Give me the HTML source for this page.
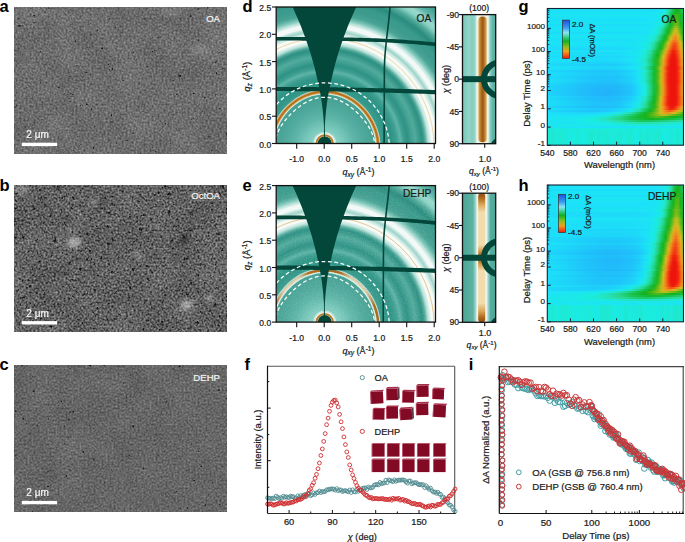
<!DOCTYPE html>
<html><head><meta charset="utf-8"><style>
html,body{margin:0;padding:0;background:#fff;width:685px;height:542px;overflow:hidden}
svg{display:block}
text{font-family:"Liberation Sans",sans-serif}
</style></head><body>
<svg width="685" height="542" viewBox="0 0 685 542" font-family="Liberation Sans">
<defs><filter id="grain" x="0" y="0" width="1" height="1"><feTurbulence type="fractalNoise" baseFrequency="0.9" numOctaves="1" seed="4"/><feColorMatrix type="matrix" values="0 0 0 0 1  0 0 0 0 1  0 0 0 0 1  3 0 0 0 -1.2"/></filter><filter id="rblur" x="-10%" y="-10%" width="120%" height="120%"><feGaussianBlur stdDeviation="1.6"/></filter><filter id="sema" x="0" y="0" width="1" height="1" color-interpolation-filters="sRGB">
<feTurbulence type="fractalNoise" baseFrequency="0.5" numOctaves="2" seed="3" result="n1"/>
<feGaussianBlur in="n1" stdDeviation="0.55" result="n1b"/>
<feColorMatrix in="n1b" type="matrix" values="0.42 0 0 0 0.217  0.42 0 0 0 0.217  0.42 0 0 0 0.217  0 0 0 0 1" result="g1"/>
<feTurbulence type="fractalNoise" baseFrequency="0.035" numOctaves="2" seed="53" result="n2"/>
<feColorMatrix in="n2" type="matrix" values="1 0 0 0 0  1 0 0 0 0  1 0 0 0 0  0 0 0 0 1" result="n2g"/>
<feComposite in="g1" in2="n2g" operator="arithmetic" k1="0" k2="1" k3="0.1" k4="-0.050" result="g2"/>
<feTurbulence type="fractalNoise" baseFrequency="0.28" numOctaves="2" seed="93" result="n3"/>
<feColorMatrix in="n3" type="matrix" values="0 0 0 0 0.08  0 0 0 0 0.08  0 0 0 0 0.08  -9 0 0 0 2.3" result="sp"/>
<feGaussianBlur in="sp" stdDeviation="0.3" result="spb"/>
<feComposite in="spb" in2="g2" operator="over"/>
</filter><filter id="semb" x="0" y="0" width="1" height="1" color-interpolation-filters="sRGB">
<feTurbulence type="fractalNoise" baseFrequency="0.5" numOctaves="2" seed="7" result="n1"/>
<feGaussianBlur in="n1" stdDeviation="0.55" result="n1b"/>
<feColorMatrix in="n1b" type="matrix" values="0.72 0 0 0 0.028  0.72 0 0 0 0.028  0.72 0 0 0 0.028  0 0 0 0 1" result="g1"/>
<feTurbulence type="fractalNoise" baseFrequency="0.035" numOctaves="2" seed="57" result="n2"/>
<feColorMatrix in="n2" type="matrix" values="1 0 0 0 0  1 0 0 0 0  1 0 0 0 0  0 0 0 0 1" result="n2g"/>
<feComposite in="g1" in2="n2g" operator="arithmetic" k1="0" k2="1" k3="0.12" k4="-0.060" result="g2"/>
<feTurbulence type="fractalNoise" baseFrequency="0.28" numOctaves="2" seed="97" result="n3"/>
<feColorMatrix in="n3" type="matrix" values="0 0 0 0 0.08  0 0 0 0 0.08  0 0 0 0 0.08  -7 0 0 0 2.45" result="sp"/>
<feGaussianBlur in="sp" stdDeviation="0.3" result="spb"/>
<feComposite in="spb" in2="g2" operator="over"/>
</filter><filter id="semc" x="0" y="0" width="1" height="1" color-interpolation-filters="sRGB">
<feTurbulence type="fractalNoise" baseFrequency="0.5" numOctaves="2" seed="11" result="n1"/>
<feGaussianBlur in="n1" stdDeviation="0.55" result="n1b"/>
<feColorMatrix in="n1b" type="matrix" values="0.36 0 0 0 0.220  0.36 0 0 0 0.220  0.36 0 0 0 0.220  0 0 0 0 1" result="g1"/>
<feTurbulence type="fractalNoise" baseFrequency="0.035" numOctaves="2" seed="61" result="n2"/>
<feColorMatrix in="n2" type="matrix" values="1 0 0 0 0  1 0 0 0 0  1 0 0 0 0  0 0 0 0 1" result="n2g"/>
<feComposite in="g1" in2="n2g" operator="arithmetic" k1="0" k2="1" k3="0.08" k4="-0.040" result="g2"/>
<feTurbulence type="fractalNoise" baseFrequency="0.28" numOctaves="2" seed="101" result="n3"/>
<feColorMatrix in="n3" type="matrix" values="0 0 0 0 0.08  0 0 0 0 0.08  0 0 0 0 0.08  -9 0 0 0 2.2" result="sp"/>
<feGaussianBlur in="sp" stdDeviation="0.3" result="spb"/>
<feComposite in="spb" in2="g2" operator="over"/>
</filter><filter id="pblur" x="-50%" y="-50%" width="200%" height="200%"><feGaussianBlur stdDeviation="2.2"/></filter><clipPath id="clipd"><rect x="276.2" y="7" width="159.3" height="136.5"/></clipPath><radialGradient id="rgd" gradientUnits="userSpaceOnUse" cx="324.7" cy="147.5" r="200"><stop offset="0.0000" stop-color="#a8ddd2"/><stop offset="0.0600" stop-color="#8fd3c6"/><stop offset="0.1000" stop-color="#78c8bb"/><stop offset="0.1500" stop-color="#5eb5a8"/><stop offset="0.2000" stop-color="#4fa99c"/><stop offset="0.2400" stop-color="#48a395"/><stop offset="0.2900" stop-color="#3a9a8c"/><stop offset="0.3100" stop-color="#2f9586"/><stop offset="0.3400" stop-color="#2f9586"/><stop offset="0.3600" stop-color="#3c9e90"/><stop offset="0.3800" stop-color="#5db4a7"/><stop offset="0.3950" stop-color="#3f9f91"/><stop offset="0.4150" stop-color="#2d9284"/><stop offset="0.4400" stop-color="#45a395"/><stop offset="0.4550" stop-color="#52ab9c"/><stop offset="0.4750" stop-color="#3a9a8c"/><stop offset="0.4900" stop-color="#2c9082"/><stop offset="0.5100" stop-color="#5eb3a5"/><stop offset="0.5300" stop-color="#8fd0c4"/><stop offset="0.5650" stop-color="#8fd0c4"/><stop offset="0.5800" stop-color="#5fb4a6"/><stop offset="0.5950" stop-color="#8fd0c4"/><stop offset="0.6250" stop-color="#a8dcd2"/><stop offset="0.6450" stop-color="#7cc6b9"/><stop offset="0.6650" stop-color="#4aa495"/><stop offset="0.6900" stop-color="#3e9c8e"/><stop offset="0.7200" stop-color="#3a9a8c"/><stop offset="0.7500" stop-color="#2a8c7e"/><stop offset="0.7750" stop-color="#4ea898"/><stop offset="0.8000" stop-color="#8ad2c5"/><stop offset="0.8200" stop-color="#9ad9cd"/><stop offset="0.8450" stop-color="#5fb7a9"/><stop offset="0.8750" stop-color="#45a293"/><stop offset="1.0000" stop-color="#3a9a8c"/></radialGradient><clipPath id="sclipd"><rect x="462.5" y="14.6" width="33.19999999999999" height="129.1"/></clipPath><linearGradient id="sgd" x1="0" y1="0" x2="1" y2="0"><stop offset="0.0000" stop-color="#78c8ba"/><stop offset="0.1054" stop-color="#86cec1"/><stop offset="0.1958" stop-color="#96d5c9"/><stop offset="0.2861" stop-color="#84ccbf"/><stop offset="0.3765" stop-color="#96d5c9"/><stop offset="0.4367" stop-color="#eef6f0"/><stop offset="0.4789" stop-color="#f6f2e4"/><stop offset="0.7289" stop-color="#f6f2e4"/><stop offset="0.7741" stop-color="#e8f4ee"/><stop offset="0.8283" stop-color="#8ad0c3"/><stop offset="0.9187" stop-color="#5db4a6"/><stop offset="1.0000" stop-color="#58b0a2"/></linearGradient><linearGradient id="shd" x1="0" y1="0" x2="1" y2="0"><stop offset="0" stop-color="#e2b46a"/><stop offset="0.18" stop-color="#c98a36"/><stop offset="0.45" stop-color="#9c5c18"/><stop offset="0.6" stop-color="#a2621c"/><stop offset="0.85" stop-color="#cf9440"/><stop offset="1" stop-color="#e8c080"/></linearGradient><clipPath id="clipe"><rect x="276.2" y="185.6" width="159.3" height="136.50000000000003"/></clipPath><radialGradient id="rge" gradientUnits="userSpaceOnUse" cx="324.7" cy="326.1" r="200"><stop offset="0.0000" stop-color="#a8ddd2"/><stop offset="0.0600" stop-color="#8fd3c6"/><stop offset="0.1000" stop-color="#78c8bb"/><stop offset="0.1500" stop-color="#5eb5a8"/><stop offset="0.2000" stop-color="#4fa99c"/><stop offset="0.2400" stop-color="#48a395"/><stop offset="0.2900" stop-color="#3a9a8c"/><stop offset="0.3100" stop-color="#2f9586"/><stop offset="0.3400" stop-color="#2f9586"/><stop offset="0.3600" stop-color="#3c9e90"/><stop offset="0.3800" stop-color="#5db4a7"/><stop offset="0.3950" stop-color="#3f9f91"/><stop offset="0.4150" stop-color="#2d9284"/><stop offset="0.4400" stop-color="#45a395"/><stop offset="0.4550" stop-color="#52ab9c"/><stop offset="0.4750" stop-color="#3a9a8c"/><stop offset="0.4900" stop-color="#2c9082"/><stop offset="0.5100" stop-color="#5eb3a5"/><stop offset="0.5300" stop-color="#8fd0c4"/><stop offset="0.5650" stop-color="#8fd0c4"/><stop offset="0.5800" stop-color="#5fb4a6"/><stop offset="0.5950" stop-color="#8fd0c4"/><stop offset="0.6250" stop-color="#a8dcd2"/><stop offset="0.6450" stop-color="#7cc6b9"/><stop offset="0.6650" stop-color="#4aa495"/><stop offset="0.6900" stop-color="#3e9c8e"/><stop offset="0.7200" stop-color="#3a9a8c"/><stop offset="0.7500" stop-color="#2a8c7e"/><stop offset="0.7750" stop-color="#4ea898"/><stop offset="0.8000" stop-color="#8ad2c5"/><stop offset="0.8200" stop-color="#9ad9cd"/><stop offset="0.8450" stop-color="#5fb7a9"/><stop offset="0.8750" stop-color="#45a293"/><stop offset="1.0000" stop-color="#3a9a8c"/></radialGradient><clipPath id="sclipe"><rect x="462.5" y="193.2" width="33.19999999999999" height="129.10000000000002"/></clipPath><linearGradient id="sge" x1="0" y1="0" x2="1" y2="0"><stop offset="0.0000" stop-color="#4ea697"/><stop offset="0.1657" stop-color="#55ab9c"/><stop offset="0.3163" stop-color="#5db2a4"/><stop offset="0.3946" stop-color="#9fd8cb"/><stop offset="0.4428" stop-color="#f2f7f2"/><stop offset="0.4849" stop-color="#f6f2e4"/><stop offset="0.6717" stop-color="#f6f2e4"/><stop offset="0.7199" stop-color="#eef6f0"/><stop offset="0.7741" stop-color="#9ad5c9"/><stop offset="0.8434" stop-color="#56ad9f"/><stop offset="1.0000" stop-color="#4ea697"/></linearGradient><linearGradient id="sve" x1="0" y1="0" x2="0" y2="1"><stop offset="0" stop-color="#8e4c10"/><stop offset="0.04" stop-color="#b06a1c"/><stop offset="0.09" stop-color="#dcaa5c"/><stop offset="0.15" stop-color="#f2dcae"/><stop offset="0.4" stop-color="#f2dcae"/><stop offset="0.45" stop-color="#d49a48"/><stop offset="0.48" stop-color="#a86418"/><stop offset="0.52" stop-color="#a86418"/><stop offset="0.55" stop-color="#d49a48"/><stop offset="0.6" stop-color="#f2dcae"/><stop offset="0.85" stop-color="#f2dcae"/><stop offset="0.91" stop-color="#dcaa5c"/><stop offset="0.96" stop-color="#b06a1c"/><stop offset="1" stop-color="#8e4c10"/></linearGradient><clipPath id="tclipg"><rect x="547.3" y="8.5" width="136.20000000000005" height="136.7"/></clipPath><filter id="tblurg" x="-50%" y="-50%" width="200%" height="200%"><feGaussianBlur stdDeviation="4"/></filter><filter id="tblursg" x="-50%" y="-50%" width="200%" height="200%"><feGaussianBlur stdDeviation="2.2"/></filter><linearGradient id="tabg" x1="0" x2="1" y1="0" y2="0"><stop offset="0.000" stop-color="#1bebdb"/><stop offset="0.022" stop-color="#1ee9d2"/><stop offset="0.044" stop-color="#1fe7cd"/><stop offset="0.067" stop-color="#1aebe0"/><stop offset="0.089" stop-color="#1de9d3"/><stop offset="0.111" stop-color="#1dead5"/><stop offset="0.133" stop-color="#1cead6"/><stop offset="0.156" stop-color="#1aeae3"/><stop offset="0.178" stop-color="#1aeae4"/><stop offset="0.200" stop-color="#1aecdf"/><stop offset="0.222" stop-color="#1de9d4"/><stop offset="0.244" stop-color="#1aebe1"/><stop offset="0.267" stop-color="#1bebdc"/><stop offset="0.289" stop-color="#1aebe0"/><stop offset="0.311" stop-color="#1ee8d0"/><stop offset="0.333" stop-color="#1fe7cd"/><stop offset="0.356" stop-color="#1aecde"/><stop offset="0.378" stop-color="#20e7cb"/><stop offset="0.400" stop-color="#1aeae3"/><stop offset="0.422" stop-color="#1ee9d2"/><stop offset="0.444" stop-color="#1fe8cf"/><stop offset="0.467" stop-color="#1aeae2"/><stop offset="0.489" stop-color="#1dead5"/><stop offset="0.511" stop-color="#1bebda"/><stop offset="0.533" stop-color="#1fe7cd"/><stop offset="0.556" stop-color="#1aebe1"/><stop offset="0.578" stop-color="#1bebda"/><stop offset="0.600" stop-color="#1fe8cf"/><stop offset="0.622" stop-color="#1cead7"/><stop offset="0.644" stop-color="#1aebe0"/><stop offset="0.667" stop-color="#1aeae3"/><stop offset="0.689" stop-color="#1fe7cd"/><stop offset="0.711" stop-color="#1aecdd"/><stop offset="0.733" stop-color="#20e7cc"/><stop offset="0.756" stop-color="#1aeae2"/><stop offset="0.778" stop-color="#1ee9d2"/><stop offset="0.800" stop-color="#1ee9d2"/><stop offset="0.822" stop-color="#1fe8ce"/><stop offset="0.844" stop-color="#1aeae4"/><stop offset="0.867" stop-color="#1aecdf"/><stop offset="0.889" stop-color="#1aeae3"/><stop offset="0.911" stop-color="#1de9d3"/><stop offset="0.933" stop-color="#1aecdf"/><stop offset="0.956" stop-color="#1fe7cd"/><stop offset="0.978" stop-color="#1aecdf"/><stop offset="1.000" stop-color="#1de9d3"/></linearGradient><linearGradient id="tag0" x1="0" x2="1" y1="0" y2="0"><stop offset="0.000" stop-color="#1ce4f3"/><stop offset="0.088" stop-color="#1ce4f3"/><stop offset="0.176" stop-color="#1ce4f3"/><stop offset="0.264" stop-color="#1ce4f3"/><stop offset="0.352" stop-color="#1ce4f3"/><stop offset="0.441" stop-color="#1ce4f3"/><stop offset="0.529" stop-color="#1ce4f3"/><stop offset="0.617" stop-color="#1ce4f3"/><stop offset="0.675" stop-color="#1ce4f3"/><stop offset="0.720" stop-color="#1ce4f3"/><stop offset="0.756" stop-color="#1ce4f3"/><stop offset="0.786" stop-color="#1ce4f2"/><stop offset="0.811" stop-color="#1be5f0"/><stop offset="0.833" stop-color="#1be7ec"/><stop offset="0.852" stop-color="#1be9e6"/><stop offset="0.870" stop-color="#1cead8"/><stop offset="0.888" stop-color="#28e0b2"/><stop offset="0.907" stop-color="#23d17c"/><stop offset="0.925" stop-color="#17c043"/><stop offset="0.943" stop-color="#12b31f"/><stop offset="0.962" stop-color="#15b21c"/><stop offset="0.980" stop-color="#16bd3d"/><stop offset="1.000" stop-color="#21cf76"/></linearGradient><linearGradient id="tag1" x1="0" x2="1" y1="0" y2="0"><stop offset="0.000" stop-color="#1cdff8"/><stop offset="0.088" stop-color="#1cdff8"/><stop offset="0.176" stop-color="#1cdff8"/><stop offset="0.264" stop-color="#1cdff8"/><stop offset="0.352" stop-color="#1cdff8"/><stop offset="0.441" stop-color="#1cdff8"/><stop offset="0.529" stop-color="#1cdff8"/><stop offset="0.617" stop-color="#1cdff8"/><stop offset="0.675" stop-color="#1cdff8"/><stop offset="0.720" stop-color="#1cdff8"/><stop offset="0.756" stop-color="#1cdff8"/><stop offset="0.786" stop-color="#1ce0f8"/><stop offset="0.811" stop-color="#1ce2f7"/><stop offset="0.833" stop-color="#1ce4f2"/><stop offset="0.852" stop-color="#1be7eb"/><stop offset="0.870" stop-color="#1aecdf"/><stop offset="0.888" stop-color="#26e1b8"/><stop offset="0.907" stop-color="#23d17f"/><stop offset="0.925" stop-color="#17c044"/><stop offset="0.943" stop-color="#12b320"/><stop offset="0.962" stop-color="#12b31e"/><stop offset="0.980" stop-color="#16bf41"/><stop offset="1.000" stop-color="#23d17f"/></linearGradient><linearGradient id="tag2" x1="0" x2="1" y1="0" y2="0"><stop offset="0.000" stop-color="#1ce2f7"/><stop offset="0.088" stop-color="#1ce2f7"/><stop offset="0.176" stop-color="#1ce2f7"/><stop offset="0.264" stop-color="#1ce2f7"/><stop offset="0.352" stop-color="#1ce2f7"/><stop offset="0.441" stop-color="#1ce2f7"/><stop offset="0.529" stop-color="#1ce2f7"/><stop offset="0.617" stop-color="#1ce2f7"/><stop offset="0.675" stop-color="#1ce2f7"/><stop offset="0.720" stop-color="#1ce2f7"/><stop offset="0.756" stop-color="#1ce2f7"/><stop offset="0.786" stop-color="#1ce3f5"/><stop offset="0.811" stop-color="#1ce4f2"/><stop offset="0.833" stop-color="#1be6ed"/><stop offset="0.852" stop-color="#1aeae4"/><stop offset="0.870" stop-color="#1fe8ce"/><stop offset="0.888" stop-color="#2cdca2"/><stop offset="0.907" stop-color="#1dca66"/><stop offset="0.925" stop-color="#15bb35"/><stop offset="0.943" stop-color="#23b31c"/><stop offset="0.962" stop-color="#22b31c"/><stop offset="0.980" stop-color="#15bb36"/><stop offset="1.000" stop-color="#1fcc6d"/></linearGradient><linearGradient id="tag3" x1="0" x2="1" y1="0" y2="0"><stop offset="0.000" stop-color="#1ce4f2"/><stop offset="0.088" stop-color="#1ce4f2"/><stop offset="0.176" stop-color="#1ce4f2"/><stop offset="0.264" stop-color="#1ce4f2"/><stop offset="0.352" stop-color="#1ce4f2"/><stop offset="0.441" stop-color="#1ce4f2"/><stop offset="0.529" stop-color="#1ce4f2"/><stop offset="0.617" stop-color="#1ce4f2"/><stop offset="0.675" stop-color="#1ce4f2"/><stop offset="0.720" stop-color="#1ce4f2"/><stop offset="0.756" stop-color="#1be5f1"/><stop offset="0.786" stop-color="#1be5f0"/><stop offset="0.811" stop-color="#1be7ec"/><stop offset="0.833" stop-color="#1be9e5"/><stop offset="0.852" stop-color="#1bebd9"/><stop offset="0.870" stop-color="#26e2b9"/><stop offset="0.888" stop-color="#26d489"/><stop offset="0.907" stop-color="#18c34d"/><stop offset="0.925" stop-color="#13b525"/><stop offset="0.943" stop-color="#3cb61b"/><stop offset="0.962" stop-color="#36b51b"/><stop offset="0.980" stop-color="#14b72a"/><stop offset="1.000" stop-color="#1ac658"/></linearGradient><linearGradient id="tag4" x1="0" x2="1" y1="0" y2="0"><stop offset="0.000" stop-color="#1ce2f8"/><stop offset="0.088" stop-color="#1ce2f8"/><stop offset="0.176" stop-color="#1ce2f8"/><stop offset="0.264" stop-color="#1ce2f8"/><stop offset="0.352" stop-color="#1ce2f8"/><stop offset="0.441" stop-color="#1ce2f8"/><stop offset="0.529" stop-color="#1ce2f8"/><stop offset="0.617" stop-color="#1ce2f8"/><stop offset="0.675" stop-color="#1ce2f8"/><stop offset="0.720" stop-color="#1ce2f7"/><stop offset="0.756" stop-color="#1ce3f7"/><stop offset="0.786" stop-color="#1ce3f4"/><stop offset="0.811" stop-color="#1be5f0"/><stop offset="0.833" stop-color="#1be8e8"/><stop offset="0.852" stop-color="#1aecde"/><stop offset="0.870" stop-color="#25e2ba"/><stop offset="0.888" stop-color="#25d487"/><stop offset="0.907" stop-color="#17c24a"/><stop offset="0.925" stop-color="#13b422"/><stop offset="0.943" stop-color="#40b61b"/><stop offset="0.962" stop-color="#36b51b"/><stop offset="0.980" stop-color="#14b72b"/><stop offset="1.000" stop-color="#1bc75b"/></linearGradient><linearGradient id="tag5" x1="0" x2="1" y1="0" y2="0"><stop offset="0.000" stop-color="#1ce0f8"/><stop offset="0.088" stop-color="#1ce0f8"/><stop offset="0.176" stop-color="#1ce0f8"/><stop offset="0.264" stop-color="#1ce0f8"/><stop offset="0.352" stop-color="#1ce0f8"/><stop offset="0.441" stop-color="#1ce0f8"/><stop offset="0.529" stop-color="#1ce0f8"/><stop offset="0.617" stop-color="#1ce0f8"/><stop offset="0.675" stop-color="#1ce0f8"/><stop offset="0.720" stop-color="#1ce0f8"/><stop offset="0.756" stop-color="#1ce2f8"/><stop offset="0.786" stop-color="#1ce3f6"/><stop offset="0.811" stop-color="#1be5f1"/><stop offset="0.833" stop-color="#1be8e8"/><stop offset="0.852" stop-color="#1bebda"/><stop offset="0.870" stop-color="#27e0b3"/><stop offset="0.888" stop-color="#23d17e"/><stop offset="0.907" stop-color="#17c044"/><stop offset="0.925" stop-color="#14b21c"/><stop offset="0.943" stop-color="#4bb71b"/><stop offset="0.962" stop-color="#3cb61b"/><stop offset="0.980" stop-color="#13b628"/><stop offset="1.000" stop-color="#19c656"/></linearGradient><linearGradient id="tag6" x1="0" x2="1" y1="0" y2="0"><stop offset="0.000" stop-color="#1cdff8"/><stop offset="0.088" stop-color="#1cdff8"/><stop offset="0.176" stop-color="#1cdff8"/><stop offset="0.264" stop-color="#1cdff8"/><stop offset="0.352" stop-color="#1cdff8"/><stop offset="0.441" stop-color="#1cdff8"/><stop offset="0.529" stop-color="#1cdff8"/><stop offset="0.617" stop-color="#1cdff8"/><stop offset="0.675" stop-color="#1cdff8"/><stop offset="0.720" stop-color="#1cdff8"/><stop offset="0.756" stop-color="#1ce1f8"/><stop offset="0.786" stop-color="#1ce3f6"/><stop offset="0.811" stop-color="#1be5f0"/><stop offset="0.833" stop-color="#1be9e6"/><stop offset="0.852" stop-color="#1de9d3"/><stop offset="0.870" stop-color="#2adeaa"/><stop offset="0.888" stop-color="#20cd71"/><stop offset="0.907" stop-color="#16bd3c"/><stop offset="0.925" stop-color="#21b31c"/><stop offset="0.943" stop-color="#57b81b"/><stop offset="0.962" stop-color="#44b61b"/><stop offset="0.980" stop-color="#13b524"/><stop offset="1.000" stop-color="#18c450"/></linearGradient><linearGradient id="tag7" x1="0" x2="1" y1="0" y2="0"><stop offset="0.000" stop-color="#1ce3f4"/><stop offset="0.088" stop-color="#1ce3f4"/><stop offset="0.176" stop-color="#1ce3f4"/><stop offset="0.264" stop-color="#1ce3f4"/><stop offset="0.352" stop-color="#1ce3f4"/><stop offset="0.441" stop-color="#1ce3f5"/><stop offset="0.529" stop-color="#1ce3f4"/><stop offset="0.617" stop-color="#1ce3f4"/><stop offset="0.675" stop-color="#1ce3f4"/><stop offset="0.720" stop-color="#1ce4f4"/><stop offset="0.756" stop-color="#1ce4f2"/><stop offset="0.786" stop-color="#1be6ee"/><stop offset="0.811" stop-color="#1be8e7"/><stop offset="0.833" stop-color="#1bebdb"/><stop offset="0.852" stop-color="#25e2bb"/><stop offset="0.870" stop-color="#27d68f"/><stop offset="0.888" stop-color="#19c552"/><stop offset="0.907" stop-color="#14b72a"/><stop offset="0.925" stop-color="#3eb61b"/><stop offset="0.943" stop-color="#73ba1a"/><stop offset="0.962" stop-color="#5bb81a"/><stop offset="0.980" stop-color="#1cb31c"/><stop offset="1.000" stop-color="#16bf42"/></linearGradient><linearGradient id="tag8" x1="0" x2="1" y1="0" y2="0"><stop offset="0.000" stop-color="#1cdef8"/><stop offset="0.088" stop-color="#1cdef8"/><stop offset="0.176" stop-color="#1cdef8"/><stop offset="0.264" stop-color="#1cdef8"/><stop offset="0.352" stop-color="#1cdef8"/><stop offset="0.441" stop-color="#1cdef8"/><stop offset="0.529" stop-color="#1cdef8"/><stop offset="0.617" stop-color="#1cdef8"/><stop offset="0.675" stop-color="#1cdef8"/><stop offset="0.720" stop-color="#1cdff8"/><stop offset="0.756" stop-color="#1ce1f8"/><stop offset="0.786" stop-color="#1ce3f4"/><stop offset="0.811" stop-color="#1be7ec"/><stop offset="0.833" stop-color="#1aebe0"/><stop offset="0.852" stop-color="#23e4c0"/><stop offset="0.870" stop-color="#27d690"/><stop offset="0.888" stop-color="#18c451"/><stop offset="0.907" stop-color="#13b628"/><stop offset="0.925" stop-color="#42b61b"/><stop offset="0.943" stop-color="#76ba1a"/><stop offset="0.962" stop-color="#58b81b"/><stop offset="0.980" stop-color="#18b21c"/><stop offset="1.000" stop-color="#17c046"/></linearGradient><linearGradient id="tag9" x1="0" x2="1" y1="0" y2="0"><stop offset="0.000" stop-color="#1ce2f7"/><stop offset="0.088" stop-color="#1ce2f7"/><stop offset="0.176" stop-color="#1ce2f7"/><stop offset="0.264" stop-color="#1ce2f7"/><stop offset="0.352" stop-color="#1ce2f7"/><stop offset="0.441" stop-color="#1ce2f7"/><stop offset="0.529" stop-color="#1ce2f7"/><stop offset="0.617" stop-color="#1ce2f7"/><stop offset="0.675" stop-color="#1ce3f7"/><stop offset="0.720" stop-color="#1ce3f6"/><stop offset="0.756" stop-color="#1ce4f3"/><stop offset="0.786" stop-color="#1be6ed"/><stop offset="0.811" stop-color="#1aeae3"/><stop offset="0.833" stop-color="#20e7ca"/><stop offset="0.852" stop-color="#2cdca4"/><stop offset="0.870" stop-color="#1fcd6f"/><stop offset="0.888" stop-color="#16bd3c"/><stop offset="0.907" stop-color="#22b31c"/><stop offset="0.925" stop-color="#67b91a"/><stop offset="0.943" stop-color="#a3bc1d"/><stop offset="0.962" stop-color="#77ba1a"/><stop offset="0.980" stop-color="#33b51b"/><stop offset="1.000" stop-color="#15bb36"/></linearGradient><linearGradient id="tag10" x1="0" x2="1" y1="0" y2="0"><stop offset="0.000" stop-color="#1ce2f7"/><stop offset="0.088" stop-color="#1ce2f7"/><stop offset="0.176" stop-color="#1ce2f7"/><stop offset="0.264" stop-color="#1ce2f7"/><stop offset="0.352" stop-color="#1ce2f8"/><stop offset="0.441" stop-color="#1ce2f8"/><stop offset="0.529" stop-color="#1ce2f8"/><stop offset="0.617" stop-color="#1ce2f7"/><stop offset="0.675" stop-color="#1ce2f7"/><stop offset="0.720" stop-color="#1ce3f6"/><stop offset="0.756" stop-color="#1ce4f2"/><stop offset="0.786" stop-color="#1be7eb"/><stop offset="0.811" stop-color="#1aebdf"/><stop offset="0.833" stop-color="#24e3be"/><stop offset="0.852" stop-color="#28d793"/><stop offset="0.870" stop-color="#1ac759"/><stop offset="0.888" stop-color="#14b82e"/><stop offset="0.907" stop-color="#3bb61b"/><stop offset="0.925" stop-color="#85bb1b"/><stop offset="0.943" stop-color="#c1bd1f"/><stop offset="0.962" stop-color="#8dbb1c"/><stop offset="0.980" stop-color="#43b61b"/><stop offset="1.000" stop-color="#14b82d"/></linearGradient><linearGradient id="tag11" x1="0" x2="1" y1="0" y2="0"><stop offset="0.000" stop-color="#1ce2f7"/><stop offset="0.088" stop-color="#1ce2f7"/><stop offset="0.176" stop-color="#1ce2f8"/><stop offset="0.264" stop-color="#1ce2f8"/><stop offset="0.352" stop-color="#1ce2f8"/><stop offset="0.441" stop-color="#1ce2f8"/><stop offset="0.529" stop-color="#1ce2f8"/><stop offset="0.617" stop-color="#1ce2f7"/><stop offset="0.675" stop-color="#1ce2f7"/><stop offset="0.720" stop-color="#1ce3f5"/><stop offset="0.756" stop-color="#1be5f0"/><stop offset="0.786" stop-color="#1be8e8"/><stop offset="0.811" stop-color="#1cead6"/><stop offset="0.833" stop-color="#29dfae"/><stop offset="0.852" stop-color="#23d17f"/><stop offset="0.870" stop-color="#17c148"/><stop offset="0.888" stop-color="#12b31f"/><stop offset="0.907" stop-color="#56b81b"/><stop offset="0.925" stop-color="#a7bc1d"/><stop offset="0.943" stop-color="#d8ba20"/><stop offset="0.962" stop-color="#a4bc1d"/><stop offset="0.980" stop-color="#53b81b"/><stop offset="1.000" stop-color="#13b524"/></linearGradient><linearGradient id="tag12" x1="0" x2="1" y1="0" y2="0"><stop offset="0.000" stop-color="#1cddf8"/><stop offset="0.088" stop-color="#1cddf8"/><stop offset="0.176" stop-color="#1cddf8"/><stop offset="0.264" stop-color="#1cddf8"/><stop offset="0.352" stop-color="#1cddf8"/><stop offset="0.441" stop-color="#1cddf8"/><stop offset="0.529" stop-color="#1cddf8"/><stop offset="0.617" stop-color="#1cddf8"/><stop offset="0.675" stop-color="#1cdef8"/><stop offset="0.720" stop-color="#1ce1f8"/><stop offset="0.756" stop-color="#1ce4f3"/><stop offset="0.786" stop-color="#1be8e9"/><stop offset="0.811" stop-color="#1dead6"/><stop offset="0.833" stop-color="#2adeaa"/><stop offset="0.852" stop-color="#21cf76"/><stop offset="0.870" stop-color="#16bf41"/><stop offset="0.888" stop-color="#1bb31c"/><stop offset="0.907" stop-color="#66b91a"/><stop offset="0.925" stop-color="#bcbd1e"/><stop offset="0.943" stop-color="#ddb220"/><stop offset="0.962" stop-color="#aebc1e"/><stop offset="0.980" stop-color="#59b81a"/><stop offset="1.000" stop-color="#13b422"/></linearGradient><linearGradient id="tag13" x1="0" x2="1" y1="0" y2="0"><stop offset="0.000" stop-color="#1ce3f6"/><stop offset="0.088" stop-color="#1ce3f6"/><stop offset="0.176" stop-color="#1ce3f6"/><stop offset="0.264" stop-color="#1ce3f6"/><stop offset="0.352" stop-color="#1ce3f7"/><stop offset="0.441" stop-color="#1ce3f7"/><stop offset="0.529" stop-color="#1ce3f7"/><stop offset="0.617" stop-color="#1ce3f6"/><stop offset="0.675" stop-color="#1ce3f5"/><stop offset="0.720" stop-color="#1ce4f2"/><stop offset="0.756" stop-color="#1be7ea"/><stop offset="0.786" stop-color="#1aecdf"/><stop offset="0.811" stop-color="#25e2ba"/><stop offset="0.833" stop-color="#25d489"/><stop offset="0.852" stop-color="#18c451"/><stop offset="0.870" stop-color="#14b72b"/><stop offset="0.888" stop-color="#41b61b"/><stop offset="0.907" stop-color="#95bb1c"/><stop offset="0.925" stop-color="#dcb220"/><stop offset="0.943" stop-color="#e99d1f"/><stop offset="0.962" stop-color="#d5be20"/><stop offset="0.980" stop-color="#79ba1b"/><stop offset="1.000" stop-color="#25b41c"/></linearGradient><linearGradient id="tag14" x1="0" x2="1" y1="0" y2="0"><stop offset="0.000" stop-color="#1ce4f3"/><stop offset="0.088" stop-color="#1ce4f3"/><stop offset="0.176" stop-color="#1ce4f3"/><stop offset="0.264" stop-color="#1ce4f3"/><stop offset="0.352" stop-color="#1ce4f3"/><stop offset="0.441" stop-color="#1ce4f4"/><stop offset="0.529" stop-color="#1ce4f3"/><stop offset="0.617" stop-color="#1ce4f3"/><stop offset="0.675" stop-color="#1be5f1"/><stop offset="0.720" stop-color="#1be6ed"/><stop offset="0.756" stop-color="#1aeae4"/><stop offset="0.786" stop-color="#1fe8ce"/><stop offset="0.811" stop-color="#2cdca4"/><stop offset="0.833" stop-color="#1fcc6d"/><stop offset="0.852" stop-color="#16be3f"/><stop offset="0.870" stop-color="#19b31c"/><stop offset="0.888" stop-color="#63b91a"/><stop offset="0.907" stop-color="#c0bd1f"/><stop offset="0.925" stop-color="#e89d1f"/><stop offset="0.943" stop-color="#f28b1e"/><stop offset="0.962" stop-color="#deaf1f"/><stop offset="0.980" stop-color="#95bb1c"/><stop offset="1.000" stop-color="#3bb61b"/></linearGradient><linearGradient id="tag15" x1="0" x2="1" y1="0" y2="0"><stop offset="0.000" stop-color="#1cdff8"/><stop offset="0.088" stop-color="#1cdff8"/><stop offset="0.176" stop-color="#1cdff8"/><stop offset="0.264" stop-color="#1cdff8"/><stop offset="0.352" stop-color="#1cdff8"/><stop offset="0.441" stop-color="#1cdff8"/><stop offset="0.529" stop-color="#1cdff8"/><stop offset="0.617" stop-color="#1cdff8"/><stop offset="0.675" stop-color="#1ce2f8"/><stop offset="0.720" stop-color="#1ce4f2"/><stop offset="0.756" stop-color="#1be8e8"/><stop offset="0.786" stop-color="#1ee9d1"/><stop offset="0.811" stop-color="#2bdba1"/><stop offset="0.833" stop-color="#1dca66"/><stop offset="0.852" stop-color="#15bc39"/><stop offset="0.870" stop-color="#26b41c"/><stop offset="0.888" stop-color="#74ba1a"/><stop offset="0.907" stop-color="#d6be20"/><stop offset="0.925" stop-color="#ef921e"/><stop offset="0.943" stop-color="#f2841d"/><stop offset="0.962" stop-color="#e0ab1f"/><stop offset="0.980" stop-color="#9bbc1d"/><stop offset="1.000" stop-color="#3eb61b"/></linearGradient><linearGradient id="tag16" x1="0" x2="1" y1="0" y2="0"><stop offset="0.000" stop-color="#1cdff8"/><stop offset="0.088" stop-color="#1cdff8"/><stop offset="0.176" stop-color="#1cdff8"/><stop offset="0.264" stop-color="#1cdff8"/><stop offset="0.352" stop-color="#1cdef8"/><stop offset="0.441" stop-color="#1cdef8"/><stop offset="0.529" stop-color="#1cdff8"/><stop offset="0.617" stop-color="#1ce0f8"/><stop offset="0.675" stop-color="#1ce2f7"/><stop offset="0.720" stop-color="#1be5f0"/><stop offset="0.756" stop-color="#1aeae3"/><stop offset="0.786" stop-color="#23e4c2"/><stop offset="0.811" stop-color="#26d58c"/><stop offset="0.833" stop-color="#18c34e"/><stop offset="0.852" stop-color="#13b629"/><stop offset="0.870" stop-color="#44b61b"/><stop offset="0.888" stop-color="#9bbc1d"/><stop offset="0.907" stop-color="#e1aa1f"/><stop offset="0.925" stop-color="#f27c1c"/><stop offset="0.943" stop-color="#f2731a"/><stop offset="0.962" stop-color="#e89e1f"/><stop offset="0.980" stop-color="#b3bd1e"/><stop offset="1.000" stop-color="#51b71b"/></linearGradient><linearGradient id="tag17" x1="0" x2="1" y1="0" y2="0"><stop offset="0.000" stop-color="#1ce4f3"/><stop offset="0.088" stop-color="#1ce4f4"/><stop offset="0.176" stop-color="#1ce4f4"/><stop offset="0.264" stop-color="#1ce3f4"/><stop offset="0.352" stop-color="#1ce3f4"/><stop offset="0.441" stop-color="#1ce3f5"/><stop offset="0.529" stop-color="#1ce3f4"/><stop offset="0.617" stop-color="#1ce4f3"/><stop offset="0.675" stop-color="#1be6ef"/><stop offset="0.720" stop-color="#1be9e6"/><stop offset="0.756" stop-color="#1fe8cf"/><stop offset="0.786" stop-color="#2bdba2"/><stop offset="0.811" stop-color="#1dca66"/><stop offset="0.833" stop-color="#15bb36"/><stop offset="0.852" stop-color="#27b41c"/><stop offset="0.870" stop-color="#70ba1a"/><stop offset="0.888" stop-color="#d4be20"/><stop offset="0.907" stop-color="#f18d1e"/><stop offset="0.925" stop-color="#f25c17"/><stop offset="0.943" stop-color="#f25917"/><stop offset="0.962" stop-color="#f2891e"/><stop offset="0.980" stop-color="#d8bb20"/><stop offset="1.000" stop-color="#71ba1a"/></linearGradient><linearGradient id="tag18" x1="0" x2="1" y1="0" y2="0"><stop offset="0.000" stop-color="#1ce2f7"/><stop offset="0.088" stop-color="#1ce2f8"/><stop offset="0.176" stop-color="#1ce2f8"/><stop offset="0.264" stop-color="#1ce1f8"/><stop offset="0.352" stop-color="#1ce1f8"/><stop offset="0.441" stop-color="#1ce1f8"/><stop offset="0.529" stop-color="#1ce1f8"/><stop offset="0.617" stop-color="#1ce2f7"/><stop offset="0.675" stop-color="#1be5f1"/><stop offset="0.720" stop-color="#1be9e7"/><stop offset="0.756" stop-color="#20e7cc"/><stop offset="0.786" stop-color="#29d999"/><stop offset="0.811" stop-color="#1ac658"/><stop offset="0.833" stop-color="#14b72c"/><stop offset="0.852" stop-color="#3ab51b"/><stop offset="0.870" stop-color="#8bbb1c"/><stop offset="0.888" stop-color="#ddb11f"/><stop offset="0.907" stop-color="#f27c1c"/><stop offset="0.925" stop-color="#f24c15"/><stop offset="0.943" stop-color="#f24f15"/><stop offset="0.962" stop-color="#f2811c"/><stop offset="0.980" stop-color="#dbb420"/><stop offset="1.000" stop-color="#7dbb1b"/></linearGradient><linearGradient id="tag19" x1="0" x2="1" y1="0" y2="0"><stop offset="0.000" stop-color="#1cdef8"/><stop offset="0.088" stop-color="#1cdef8"/><stop offset="0.176" stop-color="#1cddf8"/><stop offset="0.264" stop-color="#1cddf8"/><stop offset="0.352" stop-color="#1ddcf9"/><stop offset="0.441" stop-color="#1ddcf9"/><stop offset="0.529" stop-color="#1cddf8"/><stop offset="0.617" stop-color="#1ce0f8"/><stop offset="0.675" stop-color="#1ce4f4"/><stop offset="0.720" stop-color="#1be8e7"/><stop offset="0.756" stop-color="#21e6c8"/><stop offset="0.786" stop-color="#27d690"/><stop offset="0.811" stop-color="#18c34c"/><stop offset="0.833" stop-color="#13b422"/><stop offset="0.852" stop-color="#4eb71b"/><stop offset="0.870" stop-color="#a6bc1d"/><stop offset="0.888" stop-color="#e5a21f"/><stop offset="0.907" stop-color="#f26c19"/><stop offset="0.925" stop-color="#f23e13"/><stop offset="0.943" stop-color="#f24614"/><stop offset="0.962" stop-color="#f2791b"/><stop offset="0.980" stop-color="#dfaf1f"/><stop offset="1.000" stop-color="#87bb1b"/></linearGradient><linearGradient id="tag20" x1="0" x2="1" y1="0" y2="0"><stop offset="0.000" stop-color="#1ddbf9"/><stop offset="0.088" stop-color="#1ddaf9"/><stop offset="0.176" stop-color="#1dd9f9"/><stop offset="0.264" stop-color="#1dd9f9"/><stop offset="0.352" stop-color="#1dd8f9"/><stop offset="0.441" stop-color="#1dd8f9"/><stop offset="0.529" stop-color="#1dd8f9"/><stop offset="0.617" stop-color="#1ddcf9"/><stop offset="0.675" stop-color="#1ce3f6"/><stop offset="0.720" stop-color="#1be8e8"/><stop offset="0.756" stop-color="#22e5c5"/><stop offset="0.786" stop-color="#25d488"/><stop offset="0.811" stop-color="#17c046"/><stop offset="0.833" stop-color="#17b21c"/><stop offset="0.852" stop-color="#5fb91a"/><stop offset="0.870" stop-color="#bdbd1f"/><stop offset="0.888" stop-color="#ec961e"/><stop offset="0.907" stop-color="#f25e17"/><stop offset="0.925" stop-color="#f23311"/><stop offset="0.943" stop-color="#f24013"/><stop offset="0.962" stop-color="#f2741b"/><stop offset="0.980" stop-color="#e1ab1f"/><stop offset="1.000" stop-color="#8ebb1c"/></linearGradient><linearGradient id="tag21" x1="0" x2="1" y1="0" y2="0"><stop offset="0.000" stop-color="#1ce3f6"/><stop offset="0.088" stop-color="#1ce3f6"/><stop offset="0.176" stop-color="#1ce2f7"/><stop offset="0.264" stop-color="#1ce2f8"/><stop offset="0.352" stop-color="#1ce1f8"/><stop offset="0.441" stop-color="#1ce1f8"/><stop offset="0.529" stop-color="#1ce2f8"/><stop offset="0.617" stop-color="#1ce3f4"/><stop offset="0.675" stop-color="#1be7eb"/><stop offset="0.720" stop-color="#1cebd9"/><stop offset="0.756" stop-color="#2cdca5"/><stop offset="0.786" stop-color="#1cc963"/><stop offset="0.811" stop-color="#14b92f"/><stop offset="0.833" stop-color="#3fb61b"/><stop offset="0.852" stop-color="#8fbb1c"/><stop offset="0.870" stop-color="#deaf1f"/><stop offset="0.888" stop-color="#f2781b"/><stop offset="0.907" stop-color="#f24013"/><stop offset="0.925" stop-color="#f11c0e"/><stop offset="0.943" stop-color="#f22d10"/><stop offset="0.962" stop-color="#f25e17"/><stop offset="0.980" stop-color="#ec971e"/><stop offset="1.000" stop-color="#b4bd1e"/></linearGradient><linearGradient id="tag22" x1="0" x2="1" y1="0" y2="0"><stop offset="0.000" stop-color="#1cdff8"/><stop offset="0.088" stop-color="#1cdef8"/><stop offset="0.176" stop-color="#1cddf8"/><stop offset="0.264" stop-color="#1ddcf9"/><stop offset="0.352" stop-color="#1ddbf9"/><stop offset="0.441" stop-color="#1ddaf9"/><stop offset="0.529" stop-color="#1ddbf9"/><stop offset="0.617" stop-color="#1ce1f8"/><stop offset="0.675" stop-color="#1be6ef"/><stop offset="0.720" stop-color="#1aecdd"/><stop offset="0.756" stop-color="#2cdca5"/><stop offset="0.786" stop-color="#1bc85e"/><stop offset="0.811" stop-color="#14b72a"/><stop offset="0.833" stop-color="#4bb71b"/><stop offset="0.852" stop-color="#a0bc1d"/><stop offset="0.870" stop-color="#e4a51f"/><stop offset="0.888" stop-color="#f26d1a"/><stop offset="0.907" stop-color="#f23712"/><stop offset="0.925" stop-color="#ee180d"/><stop offset="0.943" stop-color="#f22a10"/><stop offset="0.962" stop-color="#f25b17"/><stop offset="0.980" stop-color="#ed961e"/><stop offset="1.000" stop-color="#b7bd1e"/></linearGradient><linearGradient id="tag23" x1="0" x2="1" y1="0" y2="0"><stop offset="0.000" stop-color="#1ce0f8"/><stop offset="0.088" stop-color="#1cdff8"/><stop offset="0.176" stop-color="#1cdef8"/><stop offset="0.264" stop-color="#1ddcf9"/><stop offset="0.352" stop-color="#1ddbf9"/><stop offset="0.441" stop-color="#1ddbf9"/><stop offset="0.529" stop-color="#1ddcf9"/><stop offset="0.617" stop-color="#1ce2f8"/><stop offset="0.675" stop-color="#1be7ec"/><stop offset="0.720" stop-color="#1ee9d2"/><stop offset="0.756" stop-color="#28d895"/><stop offset="0.786" stop-color="#18c34c"/><stop offset="0.811" stop-color="#12b21c"/><stop offset="0.833" stop-color="#64b91a"/><stop offset="0.852" stop-color="#c2bd1f"/><stop offset="0.870" stop-color="#ee941e"/><stop offset="0.888" stop-color="#f25817"/><stop offset="0.907" stop-color="#f2260f"/><stop offset="0.925" stop-color="#ec140c"/><stop offset="0.943" stop-color="#f2200e"/><stop offset="0.962" stop-color="#f25015"/><stop offset="0.980" stop-color="#f28c1e"/><stop offset="1.000" stop-color="#c9be1f"/></linearGradient><linearGradient id="tag24" x1="0" x2="1" y1="0" y2="0"><stop offset="0.000" stop-color="#1cddf8"/><stop offset="0.088" stop-color="#1ddcf9"/><stop offset="0.176" stop-color="#1ddaf9"/><stop offset="0.264" stop-color="#1dd8f9"/><stop offset="0.352" stop-color="#1dd7f9"/><stop offset="0.441" stop-color="#1dd7f9"/><stop offset="0.529" stop-color="#1dd8f9"/><stop offset="0.617" stop-color="#1cdff8"/><stop offset="0.675" stop-color="#1be6ed"/><stop offset="0.720" stop-color="#1ee9d2"/><stop offset="0.756" stop-color="#27d690"/><stop offset="0.786" stop-color="#17c147"/><stop offset="0.811" stop-color="#1db31c"/><stop offset="0.833" stop-color="#73ba1a"/><stop offset="0.852" stop-color="#d6be20"/><stop offset="0.870" stop-color="#f2891e"/><stop offset="0.888" stop-color="#f24b15"/><stop offset="0.907" stop-color="#f11d0e"/><stop offset="0.925" stop-color="#ec140c"/><stop offset="0.943" stop-color="#f11d0e"/><stop offset="0.962" stop-color="#f24b15"/><stop offset="0.980" stop-color="#f2881d"/><stop offset="1.000" stop-color="#d0be20"/></linearGradient><linearGradient id="tag25" x1="0" x2="1" y1="0" y2="0"><stop offset="0.000" stop-color="#1ce2f8"/><stop offset="0.088" stop-color="#1ce0f8"/><stop offset="0.176" stop-color="#1cdef8"/><stop offset="0.264" stop-color="#1ddcf9"/><stop offset="0.352" stop-color="#1ddaf9"/><stop offset="0.441" stop-color="#1ddaf9"/><stop offset="0.529" stop-color="#1ddbf9"/><stop offset="0.617" stop-color="#1ce2f7"/><stop offset="0.675" stop-color="#1be8e9"/><stop offset="0.720" stop-color="#21e5c6"/><stop offset="0.756" stop-color="#24d282"/><stop offset="0.786" stop-color="#16be3e"/><stop offset="0.811" stop-color="#2db41b"/><stop offset="0.833" stop-color="#88bb1b"/><stop offset="0.852" stop-color="#dcb320"/><stop offset="0.870" stop-color="#f27b1c"/><stop offset="0.888" stop-color="#f23f13"/><stop offset="0.907" stop-color="#ed160c"/><stop offset="0.925" stop-color="#ec140c"/><stop offset="0.943" stop-color="#ee170d"/><stop offset="0.962" stop-color="#f24213"/><stop offset="0.980" stop-color="#f27e1c"/><stop offset="1.000" stop-color="#d9b820"/></linearGradient><linearGradient id="tag26" x1="0" x2="1" y1="0" y2="0"><stop offset="0.000" stop-color="#1ce2f8"/><stop offset="0.088" stop-color="#1ce1f8"/><stop offset="0.176" stop-color="#1cdef8"/><stop offset="0.264" stop-color="#1ddcf9"/><stop offset="0.352" stop-color="#1ddaf9"/><stop offset="0.441" stop-color="#1dd9f9"/><stop offset="0.529" stop-color="#1ddbf9"/><stop offset="0.617" stop-color="#1ce2f7"/><stop offset="0.675" stop-color="#1be8e8"/><stop offset="0.720" stop-color="#23e4c3"/><stop offset="0.756" stop-color="#22d07b"/><stop offset="0.786" stop-color="#15bc3a"/><stop offset="0.811" stop-color="#36b51b"/><stop offset="0.833" stop-color="#96bb1c"/><stop offset="0.852" stop-color="#e0ab1f"/><stop offset="0.870" stop-color="#f2721a"/><stop offset="0.888" stop-color="#f23712"/><stop offset="0.907" stop-color="#ec140c"/><stop offset="0.925" stop-color="#ec140c"/><stop offset="0.943" stop-color="#ec140c"/><stop offset="0.962" stop-color="#f23d13"/><stop offset="0.980" stop-color="#f2781b"/><stop offset="1.000" stop-color="#dcb420"/></linearGradient><linearGradient id="tag27" x1="0" x2="1" y1="0" y2="0"><stop offset="0.000" stop-color="#1ddcf9"/><stop offset="0.088" stop-color="#1ddaf9"/><stop offset="0.176" stop-color="#1dd7f9"/><stop offset="0.264" stop-color="#1dd5f9"/><stop offset="0.352" stop-color="#1dd2f9"/><stop offset="0.441" stop-color="#1dd2f9"/><stop offset="0.529" stop-color="#1dd3f9"/><stop offset="0.617" stop-color="#1ddcf9"/><stop offset="0.675" stop-color="#1be6ee"/><stop offset="0.720" stop-color="#1fe7cd"/><stop offset="0.756" stop-color="#24d384"/><stop offset="0.786" stop-color="#16be3d"/><stop offset="0.811" stop-color="#33b51b"/><stop offset="0.833" stop-color="#93bb1c"/><stop offset="0.852" stop-color="#e0ac1f"/><stop offset="0.870" stop-color="#f2721a"/><stop offset="0.888" stop-color="#f23612"/><stop offset="0.907" stop-color="#ec140c"/><stop offset="0.925" stop-color="#ec140c"/><stop offset="0.943" stop-color="#ed150c"/><stop offset="0.962" stop-color="#f23f13"/><stop offset="0.980" stop-color="#f27b1c"/><stop offset="1.000" stop-color="#dab720"/></linearGradient><linearGradient id="tag28" x1="0" x2="1" y1="0" y2="0"><stop offset="0.000" stop-color="#1dd9f9"/><stop offset="0.088" stop-color="#1dd6f9"/><stop offset="0.176" stop-color="#1dd3f9"/><stop offset="0.264" stop-color="#1ed0fa"/><stop offset="0.352" stop-color="#1ecdfa"/><stop offset="0.441" stop-color="#1eccfa"/><stop offset="0.529" stop-color="#1ecefa"/><stop offset="0.617" stop-color="#1dd8f9"/><stop offset="0.675" stop-color="#1be5f1"/><stop offset="0.720" stop-color="#1de9d3"/><stop offset="0.756" stop-color="#25d488"/><stop offset="0.786" stop-color="#16be3e"/><stop offset="0.811" stop-color="#34b51b"/><stop offset="0.833" stop-color="#96bc1c"/><stop offset="0.852" stop-color="#e2a91f"/><stop offset="0.870" stop-color="#f26e1a"/><stop offset="0.888" stop-color="#f23311"/><stop offset="0.907" stop-color="#ec140c"/><stop offset="0.925" stop-color="#ec140c"/><stop offset="0.943" stop-color="#ec150c"/><stop offset="0.962" stop-color="#f23e13"/><stop offset="0.980" stop-color="#f27c1c"/><stop offset="1.000" stop-color="#dab820"/></linearGradient><linearGradient id="tag29" x1="0" x2="1" y1="0" y2="0"><stop offset="0.000" stop-color="#1ce3f6"/><stop offset="0.088" stop-color="#1ce1f8"/><stop offset="0.176" stop-color="#1cdef8"/><stop offset="0.264" stop-color="#1ddaf9"/><stop offset="0.352" stop-color="#1dd7f9"/><stop offset="0.441" stop-color="#1dd6f9"/><stop offset="0.529" stop-color="#1dd8f9"/><stop offset="0.617" stop-color="#1ce2f8"/><stop offset="0.675" stop-color="#1be9e7"/><stop offset="0.720" stop-color="#26e2b9"/><stop offset="0.756" stop-color="#1ecb6a"/><stop offset="0.786" stop-color="#14b82d"/><stop offset="0.811" stop-color="#51b71b"/><stop offset="0.833" stop-color="#bcbd1e"/><stop offset="0.852" stop-color="#ed961e"/><stop offset="0.870" stop-color="#f25716"/><stop offset="0.888" stop-color="#f2200e"/><stop offset="0.907" stop-color="#ec140c"/><stop offset="0.925" stop-color="#ec140c"/><stop offset="0.943" stop-color="#ec140c"/><stop offset="0.962" stop-color="#f22e10"/><stop offset="0.980" stop-color="#f26819"/><stop offset="1.000" stop-color="#e3a71f"/></linearGradient><linearGradient id="tag30" x1="0" x2="1" y1="0" y2="0"><stop offset="0.000" stop-color="#1ce2f7"/><stop offset="0.088" stop-color="#1cdff8"/><stop offset="0.176" stop-color="#1ddbf9"/><stop offset="0.264" stop-color="#1dd7f9"/><stop offset="0.352" stop-color="#1dd3f9"/><stop offset="0.441" stop-color="#1dd2f9"/><stop offset="0.529" stop-color="#1dd4f9"/><stop offset="0.617" stop-color="#1cdff8"/><stop offset="0.675" stop-color="#1be8e8"/><stop offset="0.720" stop-color="#25e2ba"/><stop offset="0.756" stop-color="#1ecb69"/><stop offset="0.786" stop-color="#14b72b"/><stop offset="0.811" stop-color="#56b81b"/><stop offset="0.833" stop-color="#c4bd1f"/><stop offset="0.852" stop-color="#ef911e"/><stop offset="0.870" stop-color="#f25116"/><stop offset="0.888" stop-color="#f11c0e"/><stop offset="0.907" stop-color="#ec140c"/><stop offset="0.925" stop-color="#ec140c"/><stop offset="0.943" stop-color="#ec140c"/><stop offset="0.962" stop-color="#f22c10"/><stop offset="0.980" stop-color="#f26619"/><stop offset="1.000" stop-color="#e4a51f"/></linearGradient><linearGradient id="tag31" x1="0" x2="1" y1="0" y2="0"><stop offset="0.000" stop-color="#1dd6f9"/><stop offset="0.088" stop-color="#1dd3f9"/><stop offset="0.176" stop-color="#1ecefa"/><stop offset="0.264" stop-color="#1ec9fa"/><stop offset="0.352" stop-color="#1fc6fa"/><stop offset="0.441" stop-color="#1fc5fa"/><stop offset="0.529" stop-color="#1fc7fa"/><stop offset="0.617" stop-color="#1dd2f9"/><stop offset="0.675" stop-color="#1ce3f5"/><stop offset="0.720" stop-color="#1de9d5"/><stop offset="0.756" stop-color="#24d383"/><stop offset="0.786" stop-color="#15bc38"/><stop offset="0.811" stop-color="#41b61b"/><stop offset="0.833" stop-color="#acbc1e"/><stop offset="0.852" stop-color="#e89d1f"/><stop offset="0.870" stop-color="#f25f18"/><stop offset="0.888" stop-color="#f2250f"/><stop offset="0.907" stop-color="#ec140c"/><stop offset="0.925" stop-color="#ec140c"/><stop offset="0.943" stop-color="#ec140c"/><stop offset="0.962" stop-color="#f23812"/><stop offset="0.980" stop-color="#f2741b"/><stop offset="1.000" stop-color="#ddb220"/></linearGradient><linearGradient id="tag32" x1="0" x2="1" y1="0" y2="0"><stop offset="0.000" stop-color="#1cddf8"/><stop offset="0.088" stop-color="#1dd9f9"/><stop offset="0.176" stop-color="#1dd3f9"/><stop offset="0.264" stop-color="#1ecefa"/><stop offset="0.352" stop-color="#1ecafa"/><stop offset="0.441" stop-color="#1ec9fa"/><stop offset="0.529" stop-color="#1ecbfa"/><stop offset="0.617" stop-color="#1dd7f9"/><stop offset="0.675" stop-color="#1be5f0"/><stop offset="0.720" stop-color="#21e6c8"/><stop offset="0.756" stop-color="#21cf75"/><stop offset="0.786" stop-color="#14b931"/><stop offset="0.811" stop-color="#4eb71b"/><stop offset="0.833" stop-color="#bcbd1e"/><stop offset="0.852" stop-color="#ed951e"/><stop offset="0.870" stop-color="#f25616"/><stop offset="0.888" stop-color="#f21e0e"/><stop offset="0.907" stop-color="#ec140c"/><stop offset="0.925" stop-color="#ec140c"/><stop offset="0.943" stop-color="#ec140c"/><stop offset="0.962" stop-color="#f23011"/><stop offset="0.980" stop-color="#f26b19"/><stop offset="1.000" stop-color="#e2a91f"/></linearGradient><linearGradient id="tag33" x1="0" x2="1" y1="0" y2="0"><stop offset="0.000" stop-color="#1cdef8"/><stop offset="0.088" stop-color="#1dd9f9"/><stop offset="0.176" stop-color="#1dd3f9"/><stop offset="0.264" stop-color="#1ecdfa"/><stop offset="0.352" stop-color="#1ec9fa"/><stop offset="0.441" stop-color="#1fc7fa"/><stop offset="0.529" stop-color="#1ecafa"/><stop offset="0.617" stop-color="#1dd6f9"/><stop offset="0.675" stop-color="#1be5f0"/><stop offset="0.720" stop-color="#21e6c7"/><stop offset="0.756" stop-color="#20ce73"/><stop offset="0.786" stop-color="#14b92f"/><stop offset="0.811" stop-color="#51b71b"/><stop offset="0.833" stop-color="#bfbd1f"/><stop offset="0.852" stop-color="#ee931e"/><stop offset="0.870" stop-color="#f25416"/><stop offset="0.888" stop-color="#f11d0e"/><stop offset="0.907" stop-color="#ec140c"/><stop offset="0.925" stop-color="#ec140c"/><stop offset="0.943" stop-color="#ec140c"/><stop offset="0.962" stop-color="#f22f11"/><stop offset="0.980" stop-color="#f26919"/><stop offset="1.000" stop-color="#e3a71f"/></linearGradient><linearGradient id="tag34" x1="0" x2="1" y1="0" y2="0"><stop offset="0.000" stop-color="#1ddaf9"/><stop offset="0.088" stop-color="#1dd5f9"/><stop offset="0.176" stop-color="#1ecefa"/><stop offset="0.264" stop-color="#1fc8fa"/><stop offset="0.352" stop-color="#1fc4fa"/><stop offset="0.441" stop-color="#1fc2fa"/><stop offset="0.529" stop-color="#1fc4fa"/><stop offset="0.617" stop-color="#1ed0fa"/><stop offset="0.675" stop-color="#1ce3f5"/><stop offset="0.720" stop-color="#1ee9d1"/><stop offset="0.756" stop-color="#23d17d"/><stop offset="0.786" stop-color="#15ba34"/><stop offset="0.811" stop-color="#49b71b"/><stop offset="0.833" stop-color="#b6bd1e"/><stop offset="0.852" stop-color="#eb981e"/><stop offset="0.870" stop-color="#f25917"/><stop offset="0.888" stop-color="#f2210e"/><stop offset="0.907" stop-color="#ec140c"/><stop offset="0.925" stop-color="#ec140c"/><stop offset="0.943" stop-color="#ec140c"/><stop offset="0.962" stop-color="#f23311"/><stop offset="0.980" stop-color="#f26e1a"/><stop offset="1.000" stop-color="#e0ac1f"/></linearGradient><linearGradient id="tag35" x1="0" x2="1" y1="0" y2="0"><stop offset="0.000" stop-color="#1cddf8"/><stop offset="0.088" stop-color="#1dd8f9"/><stop offset="0.176" stop-color="#1ed1fa"/><stop offset="0.264" stop-color="#1ecafa"/><stop offset="0.352" stop-color="#1fc5fa"/><stop offset="0.441" stop-color="#1fc3fa"/><stop offset="0.529" stop-color="#1fc6fa"/><stop offset="0.617" stop-color="#1dd2f9"/><stop offset="0.675" stop-color="#1ce4f2"/><stop offset="0.720" stop-color="#20e7ca"/><stop offset="0.756" stop-color="#21cf75"/><stop offset="0.786" stop-color="#14b92f"/><stop offset="0.811" stop-color="#51b71b"/><stop offset="0.833" stop-color="#c0bd1f"/><stop offset="0.852" stop-color="#ee931e"/><stop offset="0.870" stop-color="#f25316"/><stop offset="0.888" stop-color="#f11d0e"/><stop offset="0.907" stop-color="#ec140c"/><stop offset="0.925" stop-color="#ec140c"/><stop offset="0.943" stop-color="#ec140c"/><stop offset="0.962" stop-color="#f22f11"/><stop offset="0.980" stop-color="#f26819"/><stop offset="1.000" stop-color="#e3a61f"/></linearGradient><linearGradient id="tag36" x1="0" x2="1" y1="0" y2="0"><stop offset="0.000" stop-color="#1ce0f8"/><stop offset="0.088" stop-color="#1ddaf9"/><stop offset="0.176" stop-color="#1dd3f9"/><stop offset="0.264" stop-color="#1ecbfa"/><stop offset="0.352" stop-color="#1fc6fa"/><stop offset="0.441" stop-color="#1fc4fa"/><stop offset="0.529" stop-color="#1fc7fa"/><stop offset="0.617" stop-color="#1dd3f9"/><stop offset="0.675" stop-color="#1be5f0"/><stop offset="0.720" stop-color="#21e5c6"/><stop offset="0.756" stop-color="#20cd70"/><stop offset="0.786" stop-color="#14b82c"/><stop offset="0.811" stop-color="#57b81b"/><stop offset="0.833" stop-color="#c7bd1f"/><stop offset="0.852" stop-color="#f08f1e"/><stop offset="0.870" stop-color="#f25015"/><stop offset="0.888" stop-color="#f01b0d"/><stop offset="0.907" stop-color="#ec140c"/><stop offset="0.925" stop-color="#ec140c"/><stop offset="0.943" stop-color="#ec140c"/><stop offset="0.962" stop-color="#f22c10"/><stop offset="0.980" stop-color="#f26518"/><stop offset="1.000" stop-color="#e5a31f"/></linearGradient><linearGradient id="tag37" x1="0" x2="1" y1="0" y2="0"><stop offset="0.000" stop-color="#1ddaf9"/><stop offset="0.088" stop-color="#1dd4f9"/><stop offset="0.176" stop-color="#1eccfa"/><stop offset="0.264" stop-color="#1fc5fa"/><stop offset="0.352" stop-color="#20c0fa"/><stop offset="0.441" stop-color="#20befa"/><stop offset="0.529" stop-color="#20c1fa"/><stop offset="0.617" stop-color="#1ecdfa"/><stop offset="0.675" stop-color="#1ce3f6"/><stop offset="0.720" stop-color="#1ee9d2"/><stop offset="0.756" stop-color="#22d07b"/><stop offset="0.786" stop-color="#15ba32"/><stop offset="0.811" stop-color="#4db71b"/><stop offset="0.833" stop-color="#bcbd1e"/><stop offset="0.852" stop-color="#ed951e"/><stop offset="0.870" stop-color="#f25616"/><stop offset="0.888" stop-color="#f21f0e"/><stop offset="0.907" stop-color="#ec140c"/><stop offset="0.925" stop-color="#ec140c"/><stop offset="0.943" stop-color="#ec140c"/><stop offset="0.962" stop-color="#f23111"/><stop offset="0.980" stop-color="#f26b19"/><stop offset="1.000" stop-color="#e2a81f"/></linearGradient><linearGradient id="tag38" x1="0" x2="1" y1="0" y2="0"><stop offset="0.000" stop-color="#1dd7f9"/><stop offset="0.088" stop-color="#1ed1fa"/><stop offset="0.176" stop-color="#1ec9fa"/><stop offset="0.264" stop-color="#1fc2fa"/><stop offset="0.352" stop-color="#20bcfa"/><stop offset="0.441" stop-color="#21bafa"/><stop offset="0.529" stop-color="#20bdfa"/><stop offset="0.617" stop-color="#1ec9fa"/><stop offset="0.675" stop-color="#1ce0f8"/><stop offset="0.720" stop-color="#1cebd9"/><stop offset="0.756" stop-color="#24d282"/><stop offset="0.786" stop-color="#15bb36"/><stop offset="0.811" stop-color="#48b71b"/><stop offset="0.833" stop-color="#b6bd1e"/><stop offset="0.852" stop-color="#eb981e"/><stop offset="0.870" stop-color="#f25917"/><stop offset="0.888" stop-color="#f2210e"/><stop offset="0.907" stop-color="#ec140c"/><stop offset="0.925" stop-color="#ec140c"/><stop offset="0.943" stop-color="#ec140c"/><stop offset="0.962" stop-color="#f23411"/><stop offset="0.980" stop-color="#f26e1a"/><stop offset="1.000" stop-color="#e1ab1f"/></linearGradient><linearGradient id="tag39" x1="0" x2="1" y1="0" y2="0"><stop offset="0.000" stop-color="#1dd4f9"/><stop offset="0.088" stop-color="#1ecefa"/><stop offset="0.176" stop-color="#1fc6fa"/><stop offset="0.264" stop-color="#20bffa"/><stop offset="0.352" stop-color="#21b9fa"/><stop offset="0.441" stop-color="#21b6fa"/><stop offset="0.529" stop-color="#21b9fa"/><stop offset="0.617" stop-color="#1fc6fa"/><stop offset="0.675" stop-color="#1cddf8"/><stop offset="0.720" stop-color="#1aecdf"/><stop offset="0.756" stop-color="#25d488"/><stop offset="0.786" stop-color="#15bc38"/><stop offset="0.811" stop-color="#44b61b"/><stop offset="0.833" stop-color="#b0bd1e"/><stop offset="0.852" stop-color="#ea9b1f"/><stop offset="0.870" stop-color="#f25c17"/><stop offset="0.888" stop-color="#f2240f"/><stop offset="0.907" stop-color="#ec140c"/><stop offset="0.925" stop-color="#ec140c"/><stop offset="0.943" stop-color="#ec140c"/><stop offset="0.962" stop-color="#f23712"/><stop offset="0.980" stop-color="#f2711a"/><stop offset="1.000" stop-color="#dfae1f"/></linearGradient><linearGradient id="tag40" x1="0" x2="1" y1="0" y2="0"><stop offset="0.000" stop-color="#1dd5f9"/><stop offset="0.088" stop-color="#1ecefa"/><stop offset="0.176" stop-color="#1fc6fa"/><stop offset="0.264" stop-color="#20befa"/><stop offset="0.352" stop-color="#21b8fa"/><stop offset="0.441" stop-color="#21b6fa"/><stop offset="0.529" stop-color="#21b9fa"/><stop offset="0.617" stop-color="#1fc6fa"/><stop offset="0.675" stop-color="#1cddf8"/><stop offset="0.720" stop-color="#1aecde"/><stop offset="0.756" stop-color="#25d386"/><stop offset="0.786" stop-color="#15bb37"/><stop offset="0.811" stop-color="#46b61b"/><stop offset="0.833" stop-color="#b3bd1e"/><stop offset="0.852" stop-color="#eb991f"/><stop offset="0.870" stop-color="#f25b17"/><stop offset="0.888" stop-color="#f2230f"/><stop offset="0.907" stop-color="#ec140c"/><stop offset="0.925" stop-color="#ec140c"/><stop offset="0.943" stop-color="#ec140c"/><stop offset="0.962" stop-color="#f23612"/><stop offset="0.980" stop-color="#f2701a"/><stop offset="1.000" stop-color="#e0ad1f"/></linearGradient><linearGradient id="tag41" x1="0" x2="1" y1="0" y2="0"><stop offset="0.000" stop-color="#1dd3f9"/><stop offset="0.088" stop-color="#1eccfa"/><stop offset="0.176" stop-color="#1fc5fa"/><stop offset="0.264" stop-color="#20bdfa"/><stop offset="0.352" stop-color="#21b6fa"/><stop offset="0.441" stop-color="#21b4fa"/><stop offset="0.529" stop-color="#21b7fa"/><stop offset="0.617" stop-color="#1fc5fa"/><stop offset="0.675" stop-color="#1ddcf9"/><stop offset="0.720" stop-color="#1aecdf"/><stop offset="0.756" stop-color="#25d487"/><stop offset="0.786" stop-color="#15bc38"/><stop offset="0.811" stop-color="#45b61b"/><stop offset="0.833" stop-color="#b2bd1e"/><stop offset="0.852" stop-color="#ea9a1f"/><stop offset="0.870" stop-color="#f25c17"/><stop offset="0.888" stop-color="#f2240f"/><stop offset="0.907" stop-color="#ec140c"/><stop offset="0.925" stop-color="#ec140c"/><stop offset="0.943" stop-color="#ec140c"/><stop offset="0.962" stop-color="#f23812"/><stop offset="0.980" stop-color="#f2721a"/><stop offset="1.000" stop-color="#dfae1f"/></linearGradient><linearGradient id="tag42" x1="0" x2="1" y1="0" y2="0"><stop offset="0.000" stop-color="#1dd3f9"/><stop offset="0.088" stop-color="#1eccfa"/><stop offset="0.176" stop-color="#1fc4fa"/><stop offset="0.264" stop-color="#20bcfa"/><stop offset="0.352" stop-color="#21b6fa"/><stop offset="0.441" stop-color="#22b3fa"/><stop offset="0.529" stop-color="#21b7fa"/><stop offset="0.617" stop-color="#1fc4fa"/><stop offset="0.675" stop-color="#1ddcf9"/><stop offset="0.720" stop-color="#1aecde"/><stop offset="0.756" stop-color="#25d385"/><stop offset="0.786" stop-color="#15bb36"/><stop offset="0.811" stop-color="#47b71b"/><stop offset="0.833" stop-color="#b4bd1e"/><stop offset="0.852" stop-color="#eb991f"/><stop offset="0.870" stop-color="#f25c17"/><stop offset="0.888" stop-color="#f2240f"/><stop offset="0.907" stop-color="#ec140c"/><stop offset="0.925" stop-color="#ec140c"/><stop offset="0.943" stop-color="#ec140c"/><stop offset="0.962" stop-color="#f23912"/><stop offset="0.980" stop-color="#f2721a"/><stop offset="1.000" stop-color="#dfae1f"/></linearGradient><linearGradient id="tag43" x1="0" x2="1" y1="0" y2="0"><stop offset="0.000" stop-color="#1dd4f9"/><stop offset="0.088" stop-color="#1ecdfa"/><stop offset="0.176" stop-color="#1fc5fa"/><stop offset="0.264" stop-color="#20bdfa"/><stop offset="0.352" stop-color="#21b7fa"/><stop offset="0.441" stop-color="#21b4fa"/><stop offset="0.529" stop-color="#21b8fa"/><stop offset="0.617" stop-color="#1fc6fa"/><stop offset="0.675" stop-color="#1cdff8"/><stop offset="0.720" stop-color="#1cead9"/><stop offset="0.756" stop-color="#23d17e"/><stop offset="0.786" stop-color="#15ba33"/><stop offset="0.811" stop-color="#4db71b"/><stop offset="0.833" stop-color="#babd1e"/><stop offset="0.852" stop-color="#ec961e"/><stop offset="0.870" stop-color="#f25917"/><stop offset="0.888" stop-color="#f2220f"/><stop offset="0.907" stop-color="#ec140c"/><stop offset="0.925" stop-color="#ec140c"/><stop offset="0.943" stop-color="#ec140c"/><stop offset="0.962" stop-color="#f23712"/><stop offset="0.980" stop-color="#f2701a"/><stop offset="1.000" stop-color="#e0ab1f"/></linearGradient><linearGradient id="tag44" x1="0" x2="1" y1="0" y2="0"><stop offset="0.000" stop-color="#1cddf8"/><stop offset="0.088" stop-color="#1dd6f9"/><stop offset="0.176" stop-color="#1ecdfa"/><stop offset="0.264" stop-color="#1fc5fa"/><stop offset="0.352" stop-color="#20befa"/><stop offset="0.441" stop-color="#20bcfa"/><stop offset="0.529" stop-color="#20c0fa"/><stop offset="0.617" stop-color="#1ecffa"/><stop offset="0.675" stop-color="#1ce4f2"/><stop offset="0.720" stop-color="#22e5c3"/><stop offset="0.756" stop-color="#1ecb68"/><stop offset="0.786" stop-color="#13b627"/><stop offset="0.811" stop-color="#60b91a"/><stop offset="0.833" stop-color="#d1be20"/><stop offset="0.852" stop-color="#f28c1e"/><stop offset="0.870" stop-color="#f24d15"/><stop offset="0.888" stop-color="#f01b0d"/><stop offset="0.907" stop-color="#ec140c"/><stop offset="0.925" stop-color="#ec140c"/><stop offset="0.943" stop-color="#ec140c"/><stop offset="0.962" stop-color="#f22f10"/><stop offset="0.980" stop-color="#f26518"/><stop offset="1.000" stop-color="#e6a11f"/></linearGradient><linearGradient id="tag45" x1="0" x2="1" y1="0" y2="0"><stop offset="0.000" stop-color="#1dd9f9"/><stop offset="0.088" stop-color="#1dd2f9"/><stop offset="0.176" stop-color="#1ecafa"/><stop offset="0.264" stop-color="#1fc2fa"/><stop offset="0.352" stop-color="#20bcfa"/><stop offset="0.441" stop-color="#21bafa"/><stop offset="0.529" stop-color="#20bdfa"/><stop offset="0.617" stop-color="#1eccfa"/><stop offset="0.675" stop-color="#1ce4f4"/><stop offset="0.720" stop-color="#21e6c8"/><stop offset="0.756" stop-color="#1fcc6c"/><stop offset="0.786" stop-color="#14b729"/><stop offset="0.811" stop-color="#5cb81a"/><stop offset="0.833" stop-color="#ccbe1f"/><stop offset="0.852" stop-color="#f18f1e"/><stop offset="0.870" stop-color="#f25116"/><stop offset="0.888" stop-color="#f11d0e"/><stop offset="0.907" stop-color="#ec140c"/><stop offset="0.925" stop-color="#ec140c"/><stop offset="0.943" stop-color="#ec140c"/><stop offset="0.962" stop-color="#f23311"/><stop offset="0.980" stop-color="#f26a19"/><stop offset="1.000" stop-color="#e4a51f"/></linearGradient><linearGradient id="tag46" x1="0" x2="1" y1="0" y2="0"><stop offset="0.000" stop-color="#1cddf8"/><stop offset="0.088" stop-color="#1dd6f9"/><stop offset="0.176" stop-color="#1ecefa"/><stop offset="0.264" stop-color="#1fc6fa"/><stop offset="0.352" stop-color="#20c0fa"/><stop offset="0.441" stop-color="#20befa"/><stop offset="0.529" stop-color="#1fc2fa"/><stop offset="0.617" stop-color="#1dd3f9"/><stop offset="0.675" stop-color="#1be6ed"/><stop offset="0.720" stop-color="#27e1b5"/><stop offset="0.756" stop-color="#1ac659"/><stop offset="0.786" stop-color="#12b31f"/><stop offset="0.811" stop-color="#6bba1a"/><stop offset="0.833" stop-color="#d8bb20"/><stop offset="0.852" stop-color="#f2881d"/><stop offset="0.870" stop-color="#f24c15"/><stop offset="0.888" stop-color="#f11c0e"/><stop offset="0.907" stop-color="#ec140c"/><stop offset="0.925" stop-color="#ec140c"/><stop offset="0.943" stop-color="#ec140c"/><stop offset="0.962" stop-color="#f23211"/><stop offset="0.980" stop-color="#f26819"/><stop offset="1.000" stop-color="#e6a11f"/></linearGradient><linearGradient id="tag47" x1="0" x2="1" y1="0" y2="0"><stop offset="0.000" stop-color="#1cdff8"/><stop offset="0.088" stop-color="#1dd8f9"/><stop offset="0.176" stop-color="#1ed0fa"/><stop offset="0.264" stop-color="#1fc8fa"/><stop offset="0.352" stop-color="#1fc3fa"/><stop offset="0.441" stop-color="#20c1fa"/><stop offset="0.529" stop-color="#1fc6fa"/><stop offset="0.617" stop-color="#1dd8f9"/><stop offset="0.675" stop-color="#1be9e6"/><stop offset="0.720" stop-color="#2cdca5"/><stop offset="0.756" stop-color="#17c24b"/><stop offset="0.786" stop-color="#1cb31c"/><stop offset="0.811" stop-color="#79ba1b"/><stop offset="0.833" stop-color="#dbb520"/><stop offset="0.852" stop-color="#f2831d"/><stop offset="0.870" stop-color="#f24a15"/><stop offset="0.888" stop-color="#f11c0e"/><stop offset="0.907" stop-color="#ec140c"/><stop offset="0.925" stop-color="#ec140c"/><stop offset="0.943" stop-color="#ec140c"/><stop offset="0.962" stop-color="#f23612"/><stop offset="0.980" stop-color="#f26919"/><stop offset="1.000" stop-color="#e7a01f"/></linearGradient><linearGradient id="tag48" x1="0" x2="1" y1="0" y2="0"><stop offset="0.000" stop-color="#1cdef8"/><stop offset="0.088" stop-color="#1dd8f9"/><stop offset="0.176" stop-color="#1ed0fa"/><stop offset="0.264" stop-color="#1ec9fa"/><stop offset="0.352" stop-color="#1fc4fa"/><stop offset="0.441" stop-color="#1fc2fa"/><stop offset="0.529" stop-color="#1fc7fa"/><stop offset="0.617" stop-color="#1ddcf9"/><stop offset="0.675" stop-color="#1aeae2"/><stop offset="0.720" stop-color="#2ad99a"/><stop offset="0.756" stop-color="#17c045"/><stop offset="0.786" stop-color="#24b41c"/><stop offset="0.811" stop-color="#80bb1b"/><stop offset="0.833" stop-color="#dcb420"/><stop offset="0.852" stop-color="#f2831d"/><stop offset="0.870" stop-color="#f24c15"/><stop offset="0.888" stop-color="#f21e0e"/><stop offset="0.907" stop-color="#ec140c"/><stop offset="0.925" stop-color="#ec140c"/><stop offset="0.943" stop-color="#ee170d"/><stop offset="0.962" stop-color="#f23c12"/><stop offset="0.980" stop-color="#f26e1a"/><stop offset="1.000" stop-color="#e5a31f"/></linearGradient><linearGradient id="tag49" x1="0" x2="1" y1="0" y2="0"><stop offset="0.000" stop-color="#1dd4f9"/><stop offset="0.088" stop-color="#1ecefa"/><stop offset="0.176" stop-color="#1fc8fa"/><stop offset="0.264" stop-color="#1fc2fa"/><stop offset="0.352" stop-color="#20bdfa"/><stop offset="0.441" stop-color="#20bdfa"/><stop offset="0.529" stop-color="#1fc3fa"/><stop offset="0.617" stop-color="#1dd9f9"/><stop offset="0.675" stop-color="#1aeae2"/><stop offset="0.720" stop-color="#29d999"/><stop offset="0.756" stop-color="#17c146"/><stop offset="0.786" stop-color="#20b31c"/><stop offset="0.811" stop-color="#74ba1a"/><stop offset="0.833" stop-color="#d6be20"/><stop offset="0.852" stop-color="#ee931e"/><stop offset="0.870" stop-color="#f26218"/><stop offset="0.888" stop-color="#f23512"/><stop offset="0.907" stop-color="#ee180d"/><stop offset="0.925" stop-color="#ef190d"/><stop offset="0.943" stop-color="#f23612"/><stop offset="0.962" stop-color="#f26118"/><stop offset="0.980" stop-color="#f0901e"/><stop offset="1.000" stop-color="#d7bb20"/></linearGradient><linearGradient id="tag50" x1="0" x2="1" y1="0" y2="0"><stop offset="0.000" stop-color="#1ce0f8"/><stop offset="0.088" stop-color="#1ddbf9"/><stop offset="0.176" stop-color="#1dd4f9"/><stop offset="0.264" stop-color="#1ecefa"/><stop offset="0.352" stop-color="#1ecafa"/><stop offset="0.441" stop-color="#1ecafa"/><stop offset="0.529" stop-color="#1dd4f9"/><stop offset="0.617" stop-color="#1be6ed"/><stop offset="0.675" stop-color="#25e2ba"/><stop offset="0.720" stop-color="#1ecc6b"/><stop offset="0.756" stop-color="#14b92f"/><stop offset="0.786" stop-color="#3fb61b"/><stop offset="0.811" stop-color="#91bb1c"/><stop offset="0.833" stop-color="#dbb520"/><stop offset="0.852" stop-color="#f08f1e"/><stop offset="0.870" stop-color="#f26418"/><stop offset="0.888" stop-color="#f23c12"/><stop offset="0.907" stop-color="#f21f0e"/><stop offset="0.925" stop-color="#f22b10"/><stop offset="0.943" stop-color="#f24a15"/><stop offset="0.962" stop-color="#f2731a"/><stop offset="0.980" stop-color="#ea9a1f"/><stop offset="1.000" stop-color="#d2be20"/></linearGradient><linearGradient id="tag51" x1="0" x2="1" y1="0" y2="0"><stop offset="0.000" stop-color="#1dd6f9"/><stop offset="0.088" stop-color="#1ed1fa"/><stop offset="0.176" stop-color="#1eccfa"/><stop offset="0.264" stop-color="#1fc7fa"/><stop offset="0.352" stop-color="#1fc5fa"/><stop offset="0.441" stop-color="#1fc8fa"/><stop offset="0.529" stop-color="#1dd6f9"/><stop offset="0.617" stop-color="#1be9e5"/><stop offset="0.675" stop-color="#2bdba2"/><stop offset="0.720" stop-color="#18c451"/><stop offset="0.756" stop-color="#13b524"/><stop offset="0.786" stop-color="#49b71b"/><stop offset="0.811" stop-color="#8fbb1c"/><stop offset="0.833" stop-color="#d6be20"/><stop offset="0.852" stop-color="#e7a01f"/><stop offset="0.870" stop-color="#f2821d"/><stop offset="0.888" stop-color="#f26619"/><stop offset="0.907" stop-color="#f26018"/><stop offset="0.925" stop-color="#f2791b"/><stop offset="0.943" stop-color="#ed951e"/><stop offset="0.962" stop-color="#ddb11f"/><stop offset="0.980" stop-color="#b8bd1e"/><stop offset="1.000" stop-color="#7ebb1b"/></linearGradient><linearGradient id="tag52" x1="0" x2="1" y1="0" y2="0"><stop offset="0.000" stop-color="#1ce0f8"/><stop offset="0.088" stop-color="#1ddcf9"/><stop offset="0.176" stop-color="#1dd8f9"/><stop offset="0.264" stop-color="#1dd5f9"/><stop offset="0.352" stop-color="#1dd5f9"/><stop offset="0.441" stop-color="#1cddf8"/><stop offset="0.529" stop-color="#1be8e9"/><stop offset="0.617" stop-color="#2adda9"/><stop offset="0.675" stop-color="#1ac75a"/><stop offset="0.720" stop-color="#14b82d"/><stop offset="0.756" stop-color="#35b51b"/><stop offset="0.786" stop-color="#6bba1a"/><stop offset="0.811" stop-color="#a6bc1d"/><stop offset="0.833" stop-color="#d7bc20"/><stop offset="0.852" stop-color="#e2a81f"/><stop offset="0.870" stop-color="#ec971e"/><stop offset="0.888" stop-color="#ee931e"/><stop offset="0.907" stop-color="#e6a21f"/><stop offset="0.925" stop-color="#dcb320"/><stop offset="0.943" stop-color="#c5bd1f"/><stop offset="0.962" stop-color="#9ebc1d"/><stop offset="0.980" stop-color="#77ba1a"/><stop offset="1.000" stop-color="#54b81b"/></linearGradient><linearGradient id="tag53" x1="0" x2="1" y1="0" y2="0"><stop offset="0.000" stop-color="#1ce2f7"/><stop offset="0.088" stop-color="#1ce1f8"/><stop offset="0.176" stop-color="#1ce0f8"/><stop offset="0.264" stop-color="#1ce0f8"/><stop offset="0.352" stop-color="#1ce3f5"/><stop offset="0.441" stop-color="#1be8e8"/><stop offset="0.529" stop-color="#23e4c1"/><stop offset="0.617" stop-color="#20cd70"/><stop offset="0.675" stop-color="#16bd3b"/><stop offset="0.720" stop-color="#15b21c"/><stop offset="0.756" stop-color="#44b61b"/><stop offset="0.786" stop-color="#69b91a"/><stop offset="0.811" stop-color="#8fbb1c"/><stop offset="0.833" stop-color="#adbc1e"/><stop offset="0.852" stop-color="#bfbd1f"/><stop offset="0.870" stop-color="#b1bd1e"/><stop offset="0.888" stop-color="#9cbc1d"/><stop offset="0.907" stop-color="#85bb1b"/><stop offset="0.925" stop-color="#6dba1a"/><stop offset="0.943" stop-color="#59b81a"/><stop offset="0.962" stop-color="#44b61b"/><stop offset="0.980" stop-color="#30b51b"/><stop offset="1.000" stop-color="#1bb31c"/></linearGradient><linearGradient id="tag54" x1="0" x2="1" y1="0" y2="0"><stop offset="0.000" stop-color="#1ce4f4"/><stop offset="0.088" stop-color="#1ce4f3"/><stop offset="0.176" stop-color="#1be5f1"/><stop offset="0.264" stop-color="#1be6ed"/><stop offset="0.352" stop-color="#1aeae4"/><stop offset="0.441" stop-color="#20e6ca"/><stop offset="0.529" stop-color="#28d895"/><stop offset="0.617" stop-color="#18c34e"/><stop offset="0.675" stop-color="#14b930"/><stop offset="0.720" stop-color="#19b31c"/><stop offset="0.756" stop-color="#38b51b"/><stop offset="0.786" stop-color="#4eb71b"/><stop offset="0.811" stop-color="#5ab81a"/><stop offset="0.833" stop-color="#51b71b"/><stop offset="0.852" stop-color="#46b61b"/><stop offset="0.870" stop-color="#3ab51b"/><stop offset="0.888" stop-color="#2eb41b"/><stop offset="0.907" stop-color="#21b31c"/><stop offset="0.925" stop-color="#14b21c"/><stop offset="0.943" stop-color="#13b423"/><stop offset="0.962" stop-color="#14b72b"/><stop offset="0.980" stop-color="#15ba33"/><stop offset="1.000" stop-color="#16bd3b"/></linearGradient><linearGradient id="tag55" x1="0" x2="1" y1="0" y2="0"><stop offset="0.000" stop-color="#1be5f1"/><stop offset="0.088" stop-color="#1be6ee"/><stop offset="0.176" stop-color="#1be7eb"/><stop offset="0.264" stop-color="#1be9e5"/><stop offset="0.352" stop-color="#1cead8"/><stop offset="0.441" stop-color="#26e1b7"/><stop offset="0.529" stop-color="#26d58a"/><stop offset="0.617" stop-color="#18c451"/><stop offset="0.675" stop-color="#16bd3b"/><stop offset="0.720" stop-color="#14b72c"/><stop offset="0.756" stop-color="#13b422"/><stop offset="0.786" stop-color="#13b525"/><stop offset="0.811" stop-color="#14b72b"/><stop offset="0.833" stop-color="#14b930"/><stop offset="0.852" stop-color="#15bb35"/><stop offset="0.870" stop-color="#15bc3a"/><stop offset="0.888" stop-color="#16be3f"/><stop offset="0.907" stop-color="#17c044"/><stop offset="0.925" stop-color="#17c249"/><stop offset="0.943" stop-color="#18c34e"/><stop offset="0.962" stop-color="#1ac657"/><stop offset="0.980" stop-color="#1cc960"/><stop offset="1.000" stop-color="#1ecb6a"/></linearGradient><linearGradient id="tag56" x1="0" x2="1" y1="0" y2="0"><stop offset="0.000" stop-color="#1ce4f3"/><stop offset="0.088" stop-color="#1be5f0"/><stop offset="0.176" stop-color="#1be6ed"/><stop offset="0.264" stop-color="#1be9e7"/><stop offset="0.352" stop-color="#1aecdf"/><stop offset="0.441" stop-color="#22e5c5"/><stop offset="0.529" stop-color="#2cdca3"/><stop offset="0.617" stop-color="#22d07b"/><stop offset="0.675" stop-color="#1dc963"/><stop offset="0.720" stop-color="#1ac75a"/><stop offset="0.756" stop-color="#1cc85f"/><stop offset="0.786" stop-color="#1dca67"/><stop offset="0.811" stop-color="#1fcc6e"/><stop offset="0.833" stop-color="#21ce74"/><stop offset="0.852" stop-color="#22d07a"/><stop offset="0.870" stop-color="#23d280"/><stop offset="0.888" stop-color="#25d386"/><stop offset="0.907" stop-color="#26d58c"/><stop offset="0.925" stop-color="#28d792"/><stop offset="0.943" stop-color="#29d998"/><stop offset="0.962" stop-color="#2bda9f"/><stop offset="0.980" stop-color="#2cdca5"/><stop offset="1.000" stop-color="#2adeab"/></linearGradient><linearGradient id="tag57" x1="0" x2="1" y1="0" y2="0"><stop offset="0.000" stop-color="#1ce3f6"/><stop offset="0.088" stop-color="#1ce3f4"/><stop offset="0.176" stop-color="#1ce4f2"/><stop offset="0.264" stop-color="#1be6ef"/><stop offset="0.352" stop-color="#1be8ea"/><stop offset="0.441" stop-color="#1aeae2"/><stop offset="0.529" stop-color="#1ee8d1"/><stop offset="0.617" stop-color="#25e2b9"/><stop offset="0.675" stop-color="#29deac"/><stop offset="0.720" stop-color="#29dfae"/><stop offset="0.756" stop-color="#28e0b2"/><stop offset="0.786" stop-color="#26e1b6"/><stop offset="0.811" stop-color="#25e2ba"/><stop offset="0.833" stop-color="#24e3be"/><stop offset="0.852" stop-color="#23e4c1"/><stop offset="0.870" stop-color="#22e5c4"/><stop offset="0.888" stop-color="#21e6c8"/><stop offset="0.907" stop-color="#20e7cb"/><stop offset="0.925" stop-color="#1fe8cf"/><stop offset="0.943" stop-color="#1ee9d2"/><stop offset="0.962" stop-color="#1dead5"/><stop offset="0.980" stop-color="#1cebd9"/><stop offset="1.000" stop-color="#1becdc"/></linearGradient><linearGradient id="tag58" x1="0" x2="1" y1="0" y2="0"><stop offset="0.000" stop-color="#1be8e7"/><stop offset="0.088" stop-color="#1be8e8"/><stop offset="0.176" stop-color="#1be8e8"/><stop offset="0.264" stop-color="#1be8e8"/><stop offset="0.352" stop-color="#1be9e6"/><stop offset="0.441" stop-color="#1aeae4"/><stop offset="0.529" stop-color="#1aebdf"/><stop offset="0.617" stop-color="#1dead6"/><stop offset="0.675" stop-color="#1ee8d0"/><stop offset="0.720" stop-color="#1ee8d0"/><stop offset="0.756" stop-color="#1ee8d1"/><stop offset="0.786" stop-color="#1ee9d2"/><stop offset="0.811" stop-color="#1de9d3"/><stop offset="0.833" stop-color="#1de9d4"/><stop offset="0.852" stop-color="#1de9d5"/><stop offset="0.870" stop-color="#1dead6"/><stop offset="0.888" stop-color="#1cead7"/><stop offset="0.907" stop-color="#1cead8"/><stop offset="0.925" stop-color="#1cebd9"/><stop offset="0.943" stop-color="#1bebda"/><stop offset="0.962" stop-color="#1bebdb"/><stop offset="0.980" stop-color="#1bebdc"/><stop offset="1.000" stop-color="#1aecdd"/></linearGradient><linearGradient id="tag59" x1="0" x2="1" y1="0" y2="0"><stop offset="0.000" stop-color="#1be5f0"/><stop offset="0.088" stop-color="#1ce4f2"/><stop offset="0.176" stop-color="#1ce3f4"/><stop offset="0.264" stop-color="#1ce3f6"/><stop offset="0.352" stop-color="#1ce2f8"/><stop offset="0.441" stop-color="#1ce1f8"/><stop offset="0.529" stop-color="#1ce2f8"/><stop offset="0.617" stop-color="#1ce2f7"/><stop offset="0.675" stop-color="#1ce3f6"/><stop offset="0.720" stop-color="#1ce3f5"/><stop offset="0.756" stop-color="#1ce4f4"/><stop offset="0.786" stop-color="#1ce4f3"/><stop offset="0.811" stop-color="#1ce4f2"/><stop offset="0.833" stop-color="#1ce4f2"/><stop offset="0.852" stop-color="#1ce4f2"/><stop offset="0.870" stop-color="#1be5f1"/><stop offset="0.888" stop-color="#1be5f1"/><stop offset="0.907" stop-color="#1be5f1"/><stop offset="0.925" stop-color="#1be5f0"/><stop offset="0.943" stop-color="#1be5f0"/><stop offset="0.962" stop-color="#1be5f0"/><stop offset="0.980" stop-color="#1be5f0"/><stop offset="1.000" stop-color="#1be5ef"/></linearGradient><linearGradient id="tag60" x1="0" x2="1" y1="0" y2="0"><stop offset="0.000" stop-color="#1bebdb"/><stop offset="0.088" stop-color="#1bebdb"/><stop offset="0.176" stop-color="#1bebdb"/><stop offset="0.264" stop-color="#1bebdb"/><stop offset="0.352" stop-color="#1bebdb"/><stop offset="0.441" stop-color="#1bebdb"/><stop offset="0.529" stop-color="#1bebdb"/><stop offset="0.617" stop-color="#1bebdb"/><stop offset="0.675" stop-color="#1bebdb"/><stop offset="0.720" stop-color="#1bebdb"/><stop offset="0.756" stop-color="#1bebdb"/><stop offset="0.786" stop-color="#1bebdb"/><stop offset="0.811" stop-color="#1bebdb"/><stop offset="0.833" stop-color="#1bebdb"/><stop offset="0.852" stop-color="#1bebdb"/><stop offset="0.870" stop-color="#1bebdb"/><stop offset="0.888" stop-color="#1bebdb"/><stop offset="0.907" stop-color="#1bebdb"/><stop offset="0.925" stop-color="#1bebdb"/><stop offset="0.943" stop-color="#1bebdb"/><stop offset="0.962" stop-color="#1bebdb"/><stop offset="0.980" stop-color="#1bebdb"/><stop offset="1.000" stop-color="#1bebdb"/></linearGradient><linearGradient id="cbg" x1="0" y1="0" x2="0" y2="1"><stop offset="0" stop-color="#1f4fe0"/><stop offset="0.2" stop-color="#3a9af0"/><stop offset="0.33" stop-color="#8ae6f2"/><stop offset="0.45" stop-color="#34cf8a"/><stop offset="0.55" stop-color="#12b022"/><stop offset="0.7" stop-color="#8cc020"/><stop offset="0.82" stop-color="#f0a020"/><stop offset="1" stop-color="#f01a10"/></linearGradient><clipPath id="tcliph"><rect x="547.3" y="185" width="136.20000000000005" height="136.8"/></clipPath><filter id="tblurh" x="-50%" y="-50%" width="200%" height="200%"><feGaussianBlur stdDeviation="4"/></filter><filter id="tblursh" x="-50%" y="-50%" width="200%" height="200%"><feGaussianBlur stdDeviation="2.2"/></filter><linearGradient id="tabh" x1="0" x2="1" y1="0" y2="0"><stop offset="0.000" stop-color="#1aebe2"/><stop offset="0.022" stop-color="#1dead6"/><stop offset="0.044" stop-color="#1cead7"/><stop offset="0.067" stop-color="#1becdc"/><stop offset="0.089" stop-color="#1aebe1"/><stop offset="0.111" stop-color="#1ee9d2"/><stop offset="0.133" stop-color="#1ee9d2"/><stop offset="0.156" stop-color="#1bebdb"/><stop offset="0.178" stop-color="#1bebdc"/><stop offset="0.200" stop-color="#1aebe1"/><stop offset="0.222" stop-color="#1aeae4"/><stop offset="0.244" stop-color="#1aecdf"/><stop offset="0.267" stop-color="#1cebd9"/><stop offset="0.289" stop-color="#1aeae3"/><stop offset="0.311" stop-color="#1ee9d2"/><stop offset="0.333" stop-color="#1aebe1"/><stop offset="0.356" stop-color="#1aebe1"/><stop offset="0.378" stop-color="#1aeae4"/><stop offset="0.400" stop-color="#20e7cc"/><stop offset="0.422" stop-color="#1de9d4"/><stop offset="0.444" stop-color="#1fe8cf"/><stop offset="0.467" stop-color="#1cead8"/><stop offset="0.489" stop-color="#1aeae4"/><stop offset="0.511" stop-color="#1aebdf"/><stop offset="0.533" stop-color="#1bebdc"/><stop offset="0.556" stop-color="#1aeae3"/><stop offset="0.578" stop-color="#1fe7cd"/><stop offset="0.600" stop-color="#1aecdf"/><stop offset="0.622" stop-color="#1aeae2"/><stop offset="0.644" stop-color="#1ee9d1"/><stop offset="0.667" stop-color="#1aeae2"/><stop offset="0.689" stop-color="#1fe8ce"/><stop offset="0.711" stop-color="#1aecdd"/><stop offset="0.733" stop-color="#1bebda"/><stop offset="0.756" stop-color="#1aecdf"/><stop offset="0.778" stop-color="#1bebdc"/><stop offset="0.800" stop-color="#1aebe2"/><stop offset="0.822" stop-color="#1aeae4"/><stop offset="0.844" stop-color="#1ee8d0"/><stop offset="0.867" stop-color="#1aebe1"/><stop offset="0.889" stop-color="#1ee9d3"/><stop offset="0.911" stop-color="#1aebe1"/><stop offset="0.933" stop-color="#1fe7cc"/><stop offset="0.956" stop-color="#1fe8cf"/><stop offset="0.978" stop-color="#1de9d3"/><stop offset="1.000" stop-color="#1de9d3"/></linearGradient><linearGradient id="tah0" x1="0" x2="1" y1="0" y2="0"><stop offset="0.000" stop-color="#1ce2f7"/><stop offset="0.088" stop-color="#1ce2f7"/><stop offset="0.176" stop-color="#1ce2f7"/><stop offset="0.264" stop-color="#1ce2f7"/><stop offset="0.352" stop-color="#1ce2f7"/><stop offset="0.441" stop-color="#1ce2f7"/><stop offset="0.529" stop-color="#1ce2f7"/><stop offset="0.617" stop-color="#1ce2f7"/><stop offset="0.675" stop-color="#1ce2f7"/><stop offset="0.720" stop-color="#1ce2f7"/><stop offset="0.756" stop-color="#1ce2f7"/><stop offset="0.786" stop-color="#1ce2f7"/><stop offset="0.811" stop-color="#1ce3f6"/><stop offset="0.833" stop-color="#1ce3f4"/><stop offset="0.852" stop-color="#1be5f1"/><stop offset="0.870" stop-color="#1be7ea"/><stop offset="0.888" stop-color="#1aecdf"/><stop offset="0.907" stop-color="#27e1b4"/><stop offset="0.925" stop-color="#21cf76"/><stop offset="0.943" stop-color="#16bd3c"/><stop offset="0.962" stop-color="#12b31f"/><stop offset="0.980" stop-color="#16be3e"/><stop offset="1.000" stop-color="#23d17f"/></linearGradient><linearGradient id="tah1" x1="0" x2="1" y1="0" y2="0"><stop offset="0.000" stop-color="#1ce3f5"/><stop offset="0.088" stop-color="#1ce3f5"/><stop offset="0.176" stop-color="#1ce3f5"/><stop offset="0.264" stop-color="#1ce3f5"/><stop offset="0.352" stop-color="#1ce3f5"/><stop offset="0.441" stop-color="#1ce3f5"/><stop offset="0.529" stop-color="#1ce3f5"/><stop offset="0.617" stop-color="#1ce3f5"/><stop offset="0.675" stop-color="#1ce3f5"/><stop offset="0.720" stop-color="#1ce3f5"/><stop offset="0.756" stop-color="#1ce3f5"/><stop offset="0.786" stop-color="#1ce3f5"/><stop offset="0.811" stop-color="#1ce4f4"/><stop offset="0.833" stop-color="#1be5f1"/><stop offset="0.852" stop-color="#1be6ed"/><stop offset="0.870" stop-color="#1be9e6"/><stop offset="0.888" stop-color="#1ee9d2"/><stop offset="0.907" stop-color="#2cdca3"/><stop offset="0.925" stop-color="#1cc961"/><stop offset="0.943" stop-color="#14b930"/><stop offset="0.962" stop-color="#1ab31c"/><stop offset="0.980" stop-color="#15bb37"/><stop offset="1.000" stop-color="#20ce72"/></linearGradient><linearGradient id="tah2" x1="0" x2="1" y1="0" y2="0"><stop offset="0.000" stop-color="#1cddf8"/><stop offset="0.088" stop-color="#1cddf8"/><stop offset="0.176" stop-color="#1cddf8"/><stop offset="0.264" stop-color="#1cddf8"/><stop offset="0.352" stop-color="#1cddf8"/><stop offset="0.441" stop-color="#1cddf8"/><stop offset="0.529" stop-color="#1cddf8"/><stop offset="0.617" stop-color="#1cddf8"/><stop offset="0.675" stop-color="#1cddf8"/><stop offset="0.720" stop-color="#1cddf8"/><stop offset="0.756" stop-color="#1cddf8"/><stop offset="0.786" stop-color="#1cdef8"/><stop offset="0.811" stop-color="#1cdff8"/><stop offset="0.833" stop-color="#1ce2f8"/><stop offset="0.852" stop-color="#1ce4f3"/><stop offset="0.870" stop-color="#1be7ea"/><stop offset="0.888" stop-color="#1cead8"/><stop offset="0.907" stop-color="#2bdda7"/><stop offset="0.925" stop-color="#1cc962"/><stop offset="0.943" stop-color="#14b931"/><stop offset="0.962" stop-color="#14b21c"/><stop offset="0.980" stop-color="#16bd3b"/><stop offset="1.000" stop-color="#22d07c"/></linearGradient><linearGradient id="tah3" x1="0" x2="1" y1="0" y2="0"><stop offset="0.000" stop-color="#1ce2f8"/><stop offset="0.088" stop-color="#1ce2f8"/><stop offset="0.176" stop-color="#1ce2f8"/><stop offset="0.264" stop-color="#1ce2f8"/><stop offset="0.352" stop-color="#1ce2f8"/><stop offset="0.441" stop-color="#1ce2f8"/><stop offset="0.529" stop-color="#1ce2f8"/><stop offset="0.617" stop-color="#1ce2f8"/><stop offset="0.675" stop-color="#1ce2f8"/><stop offset="0.720" stop-color="#1ce2f8"/><stop offset="0.756" stop-color="#1ce2f8"/><stop offset="0.786" stop-color="#1ce2f7"/><stop offset="0.811" stop-color="#1ce3f6"/><stop offset="0.833" stop-color="#1ce4f2"/><stop offset="0.852" stop-color="#1be6ec"/><stop offset="0.870" stop-color="#1aeae2"/><stop offset="0.888" stop-color="#22e5c4"/><stop offset="0.907" stop-color="#27d68e"/><stop offset="0.925" stop-color="#17c24b"/><stop offset="0.943" stop-color="#13b422"/><stop offset="0.962" stop-color="#26b41c"/><stop offset="0.980" stop-color="#14b931"/><stop offset="1.000" stop-color="#1ecb69"/></linearGradient><linearGradient id="tah4" x1="0" x2="1" y1="0" y2="0"><stop offset="0.000" stop-color="#1ce4f4"/><stop offset="0.088" stop-color="#1ce4f4"/><stop offset="0.176" stop-color="#1ce4f4"/><stop offset="0.264" stop-color="#1ce4f4"/><stop offset="0.352" stop-color="#1ce4f4"/><stop offset="0.441" stop-color="#1ce4f4"/><stop offset="0.529" stop-color="#1ce4f4"/><stop offset="0.617" stop-color="#1ce4f4"/><stop offset="0.675" stop-color="#1ce4f4"/><stop offset="0.720" stop-color="#1ce4f4"/><stop offset="0.756" stop-color="#1ce4f4"/><stop offset="0.786" stop-color="#1ce4f3"/><stop offset="0.811" stop-color="#1be5f1"/><stop offset="0.833" stop-color="#1be7ec"/><stop offset="0.852" stop-color="#1be9e6"/><stop offset="0.870" stop-color="#1dead6"/><stop offset="0.888" stop-color="#29dfae"/><stop offset="0.907" stop-color="#21cf75"/><stop offset="0.925" stop-color="#16bd3d"/><stop offset="0.943" stop-color="#1fb31c"/><stop offset="0.962" stop-color="#38b51b"/><stop offset="0.980" stop-color="#13b627"/><stop offset="1.000" stop-color="#1ac656"/></linearGradient><linearGradient id="tah5" x1="0" x2="1" y1="0" y2="0"><stop offset="0.000" stop-color="#1cdef8"/><stop offset="0.088" stop-color="#1cdef8"/><stop offset="0.176" stop-color="#1cdef8"/><stop offset="0.264" stop-color="#1cdef8"/><stop offset="0.352" stop-color="#1cdef8"/><stop offset="0.441" stop-color="#1cdef8"/><stop offset="0.529" stop-color="#1cdef8"/><stop offset="0.617" stop-color="#1cdef8"/><stop offset="0.675" stop-color="#1cdef8"/><stop offset="0.720" stop-color="#1cdef8"/><stop offset="0.756" stop-color="#1cdef8"/><stop offset="0.786" stop-color="#1ce0f8"/><stop offset="0.811" stop-color="#1ce2f7"/><stop offset="0.833" stop-color="#1ce4f2"/><stop offset="0.852" stop-color="#1be7eb"/><stop offset="0.870" stop-color="#1aecde"/><stop offset="0.888" stop-color="#27e0b4"/><stop offset="0.907" stop-color="#21cf78"/><stop offset="0.925" stop-color="#16be3d"/><stop offset="0.943" stop-color="#1db31c"/><stop offset="0.962" stop-color="#31b51b"/><stop offset="0.980" stop-color="#14b82c"/><stop offset="1.000" stop-color="#1cc960"/></linearGradient><linearGradient id="tah6" x1="0" x2="1" y1="0" y2="0"><stop offset="0.000" stop-color="#1ce4f3"/><stop offset="0.088" stop-color="#1ce4f3"/><stop offset="0.176" stop-color="#1ce4f3"/><stop offset="0.264" stop-color="#1ce4f3"/><stop offset="0.352" stop-color="#1ce4f3"/><stop offset="0.441" stop-color="#1ce4f3"/><stop offset="0.529" stop-color="#1ce4f3"/><stop offset="0.617" stop-color="#1ce4f3"/><stop offset="0.675" stop-color="#1ce4f3"/><stop offset="0.720" stop-color="#1ce4f3"/><stop offset="0.756" stop-color="#1ce4f2"/><stop offset="0.786" stop-color="#1be5f1"/><stop offset="0.811" stop-color="#1be6ed"/><stop offset="0.833" stop-color="#1be8e7"/><stop offset="0.852" stop-color="#1aecdf"/><stop offset="0.870" stop-color="#23e4c0"/><stop offset="0.888" stop-color="#28d792"/><stop offset="0.907" stop-color="#19c553"/><stop offset="0.925" stop-color="#13b629"/><stop offset="0.943" stop-color="#3db61b"/><stop offset="0.962" stop-color="#4cb71b"/><stop offset="0.980" stop-color="#12b21c"/><stop offset="1.000" stop-color="#17c249"/></linearGradient><linearGradient id="tah7" x1="0" x2="1" y1="0" y2="0"><stop offset="0.000" stop-color="#1ce4f3"/><stop offset="0.088" stop-color="#1ce4f3"/><stop offset="0.176" stop-color="#1ce4f3"/><stop offset="0.264" stop-color="#1ce4f3"/><stop offset="0.352" stop-color="#1ce4f3"/><stop offset="0.441" stop-color="#1ce4f3"/><stop offset="0.529" stop-color="#1ce4f3"/><stop offset="0.617" stop-color="#1ce4f3"/><stop offset="0.675" stop-color="#1ce4f3"/><stop offset="0.720" stop-color="#1ce4f3"/><stop offset="0.756" stop-color="#1ce4f2"/><stop offset="0.786" stop-color="#1be5f1"/><stop offset="0.811" stop-color="#1be6ed"/><stop offset="0.833" stop-color="#1be9e6"/><stop offset="0.852" stop-color="#1cebd9"/><stop offset="0.870" stop-color="#26e1b7"/><stop offset="0.888" stop-color="#25d386"/><stop offset="0.907" stop-color="#17c24a"/><stop offset="0.925" stop-color="#12b320"/><stop offset="0.943" stop-color="#4ab71b"/><stop offset="0.962" stop-color="#54b81b"/><stop offset="0.980" stop-color="#19b31c"/><stop offset="1.000" stop-color="#17c045"/></linearGradient><linearGradient id="tah8" x1="0" x2="1" y1="0" y2="0"><stop offset="0.000" stop-color="#1ce1f8"/><stop offset="0.088" stop-color="#1ce1f8"/><stop offset="0.176" stop-color="#1ce1f8"/><stop offset="0.264" stop-color="#1ce1f8"/><stop offset="0.352" stop-color="#1ce1f8"/><stop offset="0.441" stop-color="#1ce1f8"/><stop offset="0.529" stop-color="#1ce1f8"/><stop offset="0.617" stop-color="#1ce1f8"/><stop offset="0.675" stop-color="#1ce1f8"/><stop offset="0.720" stop-color="#1ce1f8"/><stop offset="0.756" stop-color="#1ce2f8"/><stop offset="0.786" stop-color="#1ce3f6"/><stop offset="0.811" stop-color="#1be5f1"/><stop offset="0.833" stop-color="#1be7ea"/><stop offset="0.852" stop-color="#1aecdf"/><stop offset="0.870" stop-color="#24e3bd"/><stop offset="0.888" stop-color="#26d48a"/><stop offset="0.907" stop-color="#17c24b"/><stop offset="0.925" stop-color="#13b421"/><stop offset="0.943" stop-color="#47b71b"/><stop offset="0.962" stop-color="#4db71b"/><stop offset="0.980" stop-color="#12b21c"/><stop offset="1.000" stop-color="#17c249"/></linearGradient><linearGradient id="tah9" x1="0" x2="1" y1="0" y2="0"><stop offset="0.000" stop-color="#1ce0f8"/><stop offset="0.088" stop-color="#1ce0f8"/><stop offset="0.176" stop-color="#1ce0f8"/><stop offset="0.264" stop-color="#1ce0f8"/><stop offset="0.352" stop-color="#1ce0f8"/><stop offset="0.441" stop-color="#1ce0f8"/><stop offset="0.529" stop-color="#1ce0f8"/><stop offset="0.617" stop-color="#1ce0f8"/><stop offset="0.675" stop-color="#1ce0f8"/><stop offset="0.720" stop-color="#1ce0f8"/><stop offset="0.756" stop-color="#1ce1f8"/><stop offset="0.786" stop-color="#1ce3f6"/><stop offset="0.811" stop-color="#1be5f1"/><stop offset="0.833" stop-color="#1be8e8"/><stop offset="0.852" stop-color="#1bebdc"/><stop offset="0.870" stop-color="#26e1b6"/><stop offset="0.888" stop-color="#24d281"/><stop offset="0.907" stop-color="#17c045"/><stop offset="0.925" stop-color="#13b21c"/><stop offset="0.943" stop-color="#50b71b"/><stop offset="0.962" stop-color="#52b71b"/><stop offset="0.980" stop-color="#16b21c"/><stop offset="1.000" stop-color="#17c147"/></linearGradient><linearGradient id="tah10" x1="0" x2="1" y1="0" y2="0"><stop offset="0.000" stop-color="#1ce1f8"/><stop offset="0.088" stop-color="#1ce1f8"/><stop offset="0.176" stop-color="#1ce1f8"/><stop offset="0.264" stop-color="#1ce1f8"/><stop offset="0.352" stop-color="#1ce1f8"/><stop offset="0.441" stop-color="#1ce1f8"/><stop offset="0.529" stop-color="#1ce1f8"/><stop offset="0.617" stop-color="#1ce1f8"/><stop offset="0.675" stop-color="#1ce1f8"/><stop offset="0.720" stop-color="#1ce1f8"/><stop offset="0.756" stop-color="#1ce2f7"/><stop offset="0.786" stop-color="#1ce3f4"/><stop offset="0.811" stop-color="#1be6ef"/><stop offset="0.833" stop-color="#1be9e5"/><stop offset="0.852" stop-color="#1de9d3"/><stop offset="0.870" stop-color="#2adeab"/><stop offset="0.888" stop-color="#20ce74"/><stop offset="0.907" stop-color="#16be3d"/><stop offset="0.925" stop-color="#20b31c"/><stop offset="0.943" stop-color="#5bb81a"/><stop offset="0.962" stop-color="#59b81a"/><stop offset="0.980" stop-color="#1db31c"/><stop offset="1.000" stop-color="#16bf42"/></linearGradient><linearGradient id="tah11" x1="0" x2="1" y1="0" y2="0"><stop offset="0.000" stop-color="#1ce0f8"/><stop offset="0.088" stop-color="#1ce0f8"/><stop offset="0.176" stop-color="#1ce0f8"/><stop offset="0.264" stop-color="#1ce0f8"/><stop offset="0.352" stop-color="#1ce0f8"/><stop offset="0.441" stop-color="#1ce0f8"/><stop offset="0.529" stop-color="#1ce0f8"/><stop offset="0.617" stop-color="#1ce0f8"/><stop offset="0.675" stop-color="#1ce0f8"/><stop offset="0.720" stop-color="#1ce1f8"/><stop offset="0.756" stop-color="#1ce2f8"/><stop offset="0.786" stop-color="#1ce3f4"/><stop offset="0.811" stop-color="#1be6ee"/><stop offset="0.833" stop-color="#1aeae4"/><stop offset="0.852" stop-color="#1fe8ce"/><stop offset="0.870" stop-color="#2cdca5"/><stop offset="0.888" stop-color="#1ecc6b"/><stop offset="0.907" stop-color="#15bc38"/><stop offset="0.925" stop-color="#28b41c"/><stop offset="0.943" stop-color="#63b91a"/><stop offset="0.962" stop-color="#5db81a"/><stop offset="0.980" stop-color="#21b31c"/><stop offset="1.000" stop-color="#16bf40"/></linearGradient><linearGradient id="tah12" x1="0" x2="1" y1="0" y2="0"><stop offset="0.000" stop-color="#1ce4f2"/><stop offset="0.088" stop-color="#1ce4f2"/><stop offset="0.176" stop-color="#1ce4f2"/><stop offset="0.264" stop-color="#1ce4f2"/><stop offset="0.352" stop-color="#1ce4f3"/><stop offset="0.441" stop-color="#1ce4f3"/><stop offset="0.529" stop-color="#1ce4f3"/><stop offset="0.617" stop-color="#1ce4f3"/><stop offset="0.675" stop-color="#1ce4f2"/><stop offset="0.720" stop-color="#1ce4f2"/><stop offset="0.756" stop-color="#1be5f0"/><stop offset="0.786" stop-color="#1be7ec"/><stop offset="0.811" stop-color="#1be9e5"/><stop offset="0.833" stop-color="#1dead5"/><stop offset="0.852" stop-color="#26e1b6"/><stop offset="0.870" stop-color="#26d58a"/><stop offset="0.888" stop-color="#18c44f"/><stop offset="0.907" stop-color="#13b628"/><stop offset="0.925" stop-color="#42b61b"/><stop offset="0.943" stop-color="#7ebb1b"/><stop offset="0.962" stop-color="#72ba1a"/><stop offset="0.980" stop-color="#35b51b"/><stop offset="1.000" stop-color="#15ba33"/></linearGradient><linearGradient id="tah13" x1="0" x2="1" y1="0" y2="0"><stop offset="0.000" stop-color="#1ce0f8"/><stop offset="0.088" stop-color="#1ce0f8"/><stop offset="0.176" stop-color="#1ce0f8"/><stop offset="0.264" stop-color="#1ce0f8"/><stop offset="0.352" stop-color="#1cdff8"/><stop offset="0.441" stop-color="#1cdff8"/><stop offset="0.529" stop-color="#1cdff8"/><stop offset="0.617" stop-color="#1cdff8"/><stop offset="0.675" stop-color="#1ce0f8"/><stop offset="0.720" stop-color="#1ce1f8"/><stop offset="0.756" stop-color="#1ce2f7"/><stop offset="0.786" stop-color="#1ce4f3"/><stop offset="0.811" stop-color="#1be7eb"/><stop offset="0.833" stop-color="#1aecdf"/><stop offset="0.852" stop-color="#23e4bf"/><stop offset="0.870" stop-color="#28d791"/><stop offset="0.888" stop-color="#19c554"/><stop offset="0.907" stop-color="#14b72a"/><stop offset="0.925" stop-color="#3fb61b"/><stop offset="0.943" stop-color="#7aba1b"/><stop offset="0.962" stop-color="#6dba1a"/><stop offset="0.980" stop-color="#2eb41b"/><stop offset="1.000" stop-color="#15bc38"/></linearGradient><linearGradient id="tah14" x1="0" x2="1" y1="0" y2="0"><stop offset="0.000" stop-color="#1ddbf9"/><stop offset="0.088" stop-color="#1ddbf9"/><stop offset="0.176" stop-color="#1ddbf9"/><stop offset="0.264" stop-color="#1ddbf9"/><stop offset="0.352" stop-color="#1ddaf9"/><stop offset="0.441" stop-color="#1ddaf9"/><stop offset="0.529" stop-color="#1ddaf9"/><stop offset="0.617" stop-color="#1ddaf9"/><stop offset="0.675" stop-color="#1ddbf9"/><stop offset="0.720" stop-color="#1ddcf9"/><stop offset="0.756" stop-color="#1cdff8"/><stop offset="0.786" stop-color="#1ce3f6"/><stop offset="0.811" stop-color="#1be6ed"/><stop offset="0.833" stop-color="#1aebe1"/><stop offset="0.852" stop-color="#23e4c1"/><stop offset="0.870" stop-color="#28d791"/><stop offset="0.888" stop-color="#18c552"/><stop offset="0.907" stop-color="#13b628"/><stop offset="0.925" stop-color="#43b61b"/><stop offset="0.943" stop-color="#7ebb1b"/><stop offset="0.962" stop-color="#6dba1a"/><stop offset="0.980" stop-color="#2eb41b"/><stop offset="1.000" stop-color="#15bc38"/></linearGradient><linearGradient id="tah15" x1="0" x2="1" y1="0" y2="0"><stop offset="0.000" stop-color="#1ddcf9"/><stop offset="0.088" stop-color="#1ddcf9"/><stop offset="0.176" stop-color="#1ddcf9"/><stop offset="0.264" stop-color="#1ddbf9"/><stop offset="0.352" stop-color="#1ddbf9"/><stop offset="0.441" stop-color="#1ddaf9"/><stop offset="0.529" stop-color="#1ddaf9"/><stop offset="0.617" stop-color="#1ddbf9"/><stop offset="0.675" stop-color="#1ddbf9"/><stop offset="0.720" stop-color="#1cddf8"/><stop offset="0.756" stop-color="#1ce0f8"/><stop offset="0.786" stop-color="#1ce3f4"/><stop offset="0.811" stop-color="#1be7eb"/><stop offset="0.833" stop-color="#1bebdc"/><stop offset="0.852" stop-color="#26e1b7"/><stop offset="0.870" stop-color="#25d385"/><stop offset="0.888" stop-color="#17c249"/><stop offset="0.907" stop-color="#12b320"/><stop offset="0.925" stop-color="#51b71b"/><stop offset="0.943" stop-color="#90bb1c"/><stop offset="0.962" stop-color="#7bba1b"/><stop offset="0.980" stop-color="#39b51b"/><stop offset="1.000" stop-color="#15ba32"/></linearGradient><linearGradient id="tah16" x1="0" x2="1" y1="0" y2="0"><stop offset="0.000" stop-color="#1ce3f6"/><stop offset="0.088" stop-color="#1ce3f6"/><stop offset="0.176" stop-color="#1ce3f7"/><stop offset="0.264" stop-color="#1ce2f7"/><stop offset="0.352" stop-color="#1ce2f8"/><stop offset="0.441" stop-color="#1ce2f8"/><stop offset="0.529" stop-color="#1ce2f8"/><stop offset="0.617" stop-color="#1ce2f8"/><stop offset="0.675" stop-color="#1ce2f7"/><stop offset="0.720" stop-color="#1ce3f5"/><stop offset="0.756" stop-color="#1ce4f2"/><stop offset="0.786" stop-color="#1be7eb"/><stop offset="0.811" stop-color="#1aebe1"/><stop offset="0.833" stop-color="#22e5c4"/><stop offset="0.852" stop-color="#2ada9d"/><stop offset="0.870" stop-color="#1ecb68"/><stop offset="0.888" stop-color="#15bc39"/><stop offset="0.907" stop-color="#27b41c"/><stop offset="0.925" stop-color="#6dba1a"/><stop offset="0.943" stop-color="#b2bd1e"/><stop offset="0.962" stop-color="#9abc1c"/><stop offset="0.980" stop-color="#51b71b"/><stop offset="1.000" stop-color="#13b524"/></linearGradient><linearGradient id="tah17" x1="0" x2="1" y1="0" y2="0"><stop offset="0.000" stop-color="#1ce4f2"/><stop offset="0.088" stop-color="#1ce4f3"/><stop offset="0.176" stop-color="#1ce4f3"/><stop offset="0.264" stop-color="#1ce3f4"/><stop offset="0.352" stop-color="#1ce3f5"/><stop offset="0.441" stop-color="#1ce3f5"/><stop offset="0.529" stop-color="#1ce3f5"/><stop offset="0.617" stop-color="#1ce3f5"/><stop offset="0.675" stop-color="#1ce4f4"/><stop offset="0.720" stop-color="#1ce4f2"/><stop offset="0.756" stop-color="#1be6ee"/><stop offset="0.786" stop-color="#1be9e7"/><stop offset="0.811" stop-color="#1cead8"/><stop offset="0.833" stop-color="#27e1b6"/><stop offset="0.852" stop-color="#26d58c"/><stop offset="0.870" stop-color="#19c555"/><stop offset="0.888" stop-color="#14b82e"/><stop offset="0.907" stop-color="#3ab51b"/><stop offset="0.925" stop-color="#84bb1b"/><stop offset="0.943" stop-color="#c9bd1f"/><stop offset="0.962" stop-color="#aebc1e"/><stop offset="0.980" stop-color="#61b91a"/><stop offset="1.000" stop-color="#15b21c"/></linearGradient><linearGradient id="tah18" x1="0" x2="1" y1="0" y2="0"><stop offset="0.000" stop-color="#1ce1f8"/><stop offset="0.088" stop-color="#1ce1f8"/><stop offset="0.176" stop-color="#1ce0f8"/><stop offset="0.264" stop-color="#1cdff8"/><stop offset="0.352" stop-color="#1cdef8"/><stop offset="0.441" stop-color="#1cdef8"/><stop offset="0.529" stop-color="#1cdef8"/><stop offset="0.617" stop-color="#1cdef8"/><stop offset="0.675" stop-color="#1cdff8"/><stop offset="0.720" stop-color="#1ce2f8"/><stop offset="0.756" stop-color="#1ce4f4"/><stop offset="0.786" stop-color="#1be7ec"/><stop offset="0.811" stop-color="#1aebdf"/><stop offset="0.833" stop-color="#24e3bc"/><stop offset="0.852" stop-color="#28d791"/><stop offset="0.870" stop-color="#1ac658"/><stop offset="0.888" stop-color="#14b82f"/><stop offset="0.907" stop-color="#39b51b"/><stop offset="0.925" stop-color="#84bb1b"/><stop offset="0.943" stop-color="#c9bd1f"/><stop offset="0.962" stop-color="#aabc1d"/><stop offset="0.980" stop-color="#5db81a"/><stop offset="1.000" stop-color="#12b21d"/></linearGradient><linearGradient id="tah19" x1="0" x2="1" y1="0" y2="0"><stop offset="0.000" stop-color="#1ce1f8"/><stop offset="0.088" stop-color="#1ce0f8"/><stop offset="0.176" stop-color="#1cdff8"/><stop offset="0.264" stop-color="#1cdef8"/><stop offset="0.352" stop-color="#1cddf8"/><stop offset="0.441" stop-color="#1ddcf9"/><stop offset="0.529" stop-color="#1ddcf9"/><stop offset="0.617" stop-color="#1cddf8"/><stop offset="0.675" stop-color="#1cdff8"/><stop offset="0.720" stop-color="#1ce1f8"/><stop offset="0.756" stop-color="#1ce4f3"/><stop offset="0.786" stop-color="#1be7ea"/><stop offset="0.811" stop-color="#1bebdc"/><stop offset="0.833" stop-color="#27e1b5"/><stop offset="0.852" stop-color="#25d488"/><stop offset="0.870" stop-color="#18c44f"/><stop offset="0.888" stop-color="#13b628"/><stop offset="0.907" stop-color="#45b61b"/><stop offset="0.925" stop-color="#93bb1c"/><stop offset="0.943" stop-color="#d6bd20"/><stop offset="0.962" stop-color="#b5bd1e"/><stop offset="0.980" stop-color="#65b91a"/><stop offset="1.000" stop-color="#18b31c"/></linearGradient><linearGradient id="tah20" x1="0" x2="1" y1="0" y2="0"><stop offset="0.000" stop-color="#1ce1f8"/><stop offset="0.088" stop-color="#1ce1f8"/><stop offset="0.176" stop-color="#1cdff8"/><stop offset="0.264" stop-color="#1cdef8"/><stop offset="0.352" stop-color="#1cddf8"/><stop offset="0.441" stop-color="#1ddcf9"/><stop offset="0.529" stop-color="#1ddcf9"/><stop offset="0.617" stop-color="#1cddf8"/><stop offset="0.675" stop-color="#1cdff8"/><stop offset="0.720" stop-color="#1ce2f8"/><stop offset="0.756" stop-color="#1ce4f2"/><stop offset="0.786" stop-color="#1be8e8"/><stop offset="0.811" stop-color="#1de9d5"/><stop offset="0.833" stop-color="#2adeab"/><stop offset="0.852" stop-color="#22d07c"/><stop offset="0.870" stop-color="#17c147"/><stop offset="0.888" stop-color="#12b31f"/><stop offset="0.907" stop-color="#55b81b"/><stop offset="0.925" stop-color="#a8bc1d"/><stop offset="0.943" stop-color="#dcb320"/><stop offset="0.962" stop-color="#c7bd1f"/><stop offset="0.980" stop-color="#73ba1a"/><stop offset="1.000" stop-color="#24b41c"/></linearGradient><linearGradient id="tah21" x1="0" x2="1" y1="0" y2="0"><stop offset="0.000" stop-color="#1ce3f6"/><stop offset="0.088" stop-color="#1ce2f7"/><stop offset="0.176" stop-color="#1ce1f8"/><stop offset="0.264" stop-color="#1ce0f8"/><stop offset="0.352" stop-color="#1cdef8"/><stop offset="0.441" stop-color="#1cddf8"/><stop offset="0.529" stop-color="#1cddf8"/><stop offset="0.617" stop-color="#1cdef8"/><stop offset="0.675" stop-color="#1ce1f8"/><stop offset="0.720" stop-color="#1ce3f6"/><stop offset="0.756" stop-color="#1be6ef"/><stop offset="0.786" stop-color="#1aeae4"/><stop offset="0.811" stop-color="#21e6c8"/><stop offset="0.833" stop-color="#2ada9c"/><stop offset="0.852" stop-color="#1ecb6a"/><stop offset="0.870" stop-color="#16bd3b"/><stop offset="0.888" stop-color="#22b31c"/><stop offset="0.907" stop-color="#6cba1a"/><stop offset="0.925" stop-color="#c6bd1f"/><stop offset="0.943" stop-color="#e4a41f"/><stop offset="0.962" stop-color="#d9b920"/><stop offset="0.980" stop-color="#8abb1c"/><stop offset="1.000" stop-color="#35b51b"/></linearGradient><linearGradient id="tah22" x1="0" x2="1" y1="0" y2="0"><stop offset="0.000" stop-color="#1cddf8"/><stop offset="0.088" stop-color="#1ddbf9"/><stop offset="0.176" stop-color="#1dd9f9"/><stop offset="0.264" stop-color="#1dd7f9"/><stop offset="0.352" stop-color="#1dd6f9"/><stop offset="0.441" stop-color="#1dd5f9"/><stop offset="0.529" stop-color="#1dd5f9"/><stop offset="0.617" stop-color="#1dd6f9"/><stop offset="0.675" stop-color="#1dd9f9"/><stop offset="0.720" stop-color="#1cddf8"/><stop offset="0.756" stop-color="#1ce3f4"/><stop offset="0.786" stop-color="#1be8e9"/><stop offset="0.811" stop-color="#1ee8d0"/><stop offset="0.833" stop-color="#2bdba1"/><stop offset="0.852" stop-color="#1fcc6c"/><stop offset="0.870" stop-color="#16bd3b"/><stop offset="0.888" stop-color="#24b41c"/><stop offset="0.907" stop-color="#70ba1a"/><stop offset="0.925" stop-color="#cdbe1f"/><stop offset="0.943" stop-color="#e7a01f"/><stop offset="0.962" stop-color="#dab720"/><stop offset="0.980" stop-color="#8cbb1c"/><stop offset="1.000" stop-color="#35b51b"/></linearGradient><linearGradient id="tah23" x1="0" x2="1" y1="0" y2="0"><stop offset="0.000" stop-color="#1ce1f8"/><stop offset="0.088" stop-color="#1ce0f8"/><stop offset="0.176" stop-color="#1cdef8"/><stop offset="0.264" stop-color="#1ddbf9"/><stop offset="0.352" stop-color="#1dd9f9"/><stop offset="0.441" stop-color="#1dd8f9"/><stop offset="0.529" stop-color="#1dd8f9"/><stop offset="0.617" stop-color="#1ddaf9"/><stop offset="0.675" stop-color="#1cddf8"/><stop offset="0.720" stop-color="#1ce2f8"/><stop offset="0.756" stop-color="#1be6ef"/><stop offset="0.786" stop-color="#1aebe2"/><stop offset="0.811" stop-color="#24e3be"/><stop offset="0.833" stop-color="#26d58c"/><stop offset="0.852" stop-color="#19c554"/><stop offset="0.870" stop-color="#14b82d"/><stop offset="0.888" stop-color="#3eb61b"/><stop offset="0.907" stop-color="#91bb1c"/><stop offset="0.925" stop-color="#ddb11f"/><stop offset="0.943" stop-color="#f08f1e"/><stop offset="0.962" stop-color="#e2a81f"/><stop offset="0.980" stop-color="#a9bc1d"/><stop offset="1.000" stop-color="#4bb71b"/></linearGradient><linearGradient id="tah24" x1="0" x2="1" y1="0" y2="0"><stop offset="0.000" stop-color="#1ce0f8"/><stop offset="0.088" stop-color="#1cdef8"/><stop offset="0.176" stop-color="#1ddcf9"/><stop offset="0.264" stop-color="#1dd9f9"/><stop offset="0.352" stop-color="#1dd7f9"/><stop offset="0.441" stop-color="#1dd5f9"/><stop offset="0.529" stop-color="#1dd5f9"/><stop offset="0.617" stop-color="#1dd7f9"/><stop offset="0.675" stop-color="#1ddbf9"/><stop offset="0.720" stop-color="#1ce1f8"/><stop offset="0.756" stop-color="#1be6ef"/><stop offset="0.786" stop-color="#1aebe0"/><stop offset="0.811" stop-color="#26e2b8"/><stop offset="0.833" stop-color="#24d383"/><stop offset="0.852" stop-color="#18c34c"/><stop offset="0.870" stop-color="#13b525"/><stop offset="0.888" stop-color="#4cb71b"/><stop offset="0.907" stop-color="#a5bc1d"/><stop offset="0.925" stop-color="#e3a71f"/><stop offset="0.943" stop-color="#f2831d"/><stop offset="0.962" stop-color="#e79f1f"/><stop offset="0.980" stop-color="#b8bd1e"/><stop offset="1.000" stop-color="#56b81b"/></linearGradient><linearGradient id="tah25" x1="0" x2="1" y1="0" y2="0"><stop offset="0.000" stop-color="#1ce1f8"/><stop offset="0.088" stop-color="#1cdff8"/><stop offset="0.176" stop-color="#1ddcf9"/><stop offset="0.264" stop-color="#1dd8f9"/><stop offset="0.352" stop-color="#1dd6f9"/><stop offset="0.441" stop-color="#1dd4f9"/><stop offset="0.529" stop-color="#1dd4f9"/><stop offset="0.617" stop-color="#1dd6f9"/><stop offset="0.675" stop-color="#1ddbf9"/><stop offset="0.720" stop-color="#1ce2f8"/><stop offset="0.756" stop-color="#1be6ed"/><stop offset="0.786" stop-color="#1aecdd"/><stop offset="0.811" stop-color="#29dfaf"/><stop offset="0.833" stop-color="#21cf76"/><stop offset="0.852" stop-color="#17c044"/><stop offset="0.870" stop-color="#13b21c"/><stop offset="0.888" stop-color="#5db81a"/><stop offset="0.907" stop-color="#bdbd1f"/><stop offset="0.925" stop-color="#ea9a1f"/><stop offset="0.943" stop-color="#f2751b"/><stop offset="0.962" stop-color="#ed951e"/><stop offset="0.980" stop-color="#cbbe1f"/><stop offset="1.000" stop-color="#64b91a"/></linearGradient><linearGradient id="tah26" x1="0" x2="1" y1="0" y2="0"><stop offset="0.000" stop-color="#1ddbf9"/><stop offset="0.088" stop-color="#1dd8f9"/><stop offset="0.176" stop-color="#1dd5f9"/><stop offset="0.264" stop-color="#1ed1fa"/><stop offset="0.352" stop-color="#1ecefa"/><stop offset="0.441" stop-color="#1eccfa"/><stop offset="0.529" stop-color="#1eccfa"/><stop offset="0.617" stop-color="#1ecffa"/><stop offset="0.675" stop-color="#1dd4f9"/><stop offset="0.720" stop-color="#1ddcf9"/><stop offset="0.756" stop-color="#1ce4f2"/><stop offset="0.786" stop-color="#1aebe1"/><stop offset="0.811" stop-color="#27e0b4"/><stop offset="0.833" stop-color="#22cf78"/><stop offset="0.852" stop-color="#17c043"/><stop offset="0.870" stop-color="#15b21c"/><stop offset="0.888" stop-color="#62b91a"/><stop offset="0.907" stop-color="#c5bd1f"/><stop offset="0.925" stop-color="#ed961e"/><stop offset="0.943" stop-color="#f2701a"/><stop offset="0.962" stop-color="#ef921e"/><stop offset="0.980" stop-color="#cfbe20"/><stop offset="1.000" stop-color="#66b91a"/></linearGradient><linearGradient id="tah27" x1="0" x2="1" y1="0" y2="0"><stop offset="0.000" stop-color="#1ddaf9"/><stop offset="0.088" stop-color="#1dd7f9"/><stop offset="0.176" stop-color="#1dd3f9"/><stop offset="0.264" stop-color="#1ecffa"/><stop offset="0.352" stop-color="#1ecbfa"/><stop offset="0.441" stop-color="#1ec9fa"/><stop offset="0.529" stop-color="#1ec9fa"/><stop offset="0.617" stop-color="#1eccfa"/><stop offset="0.675" stop-color="#1dd2f9"/><stop offset="0.720" stop-color="#1ddbf9"/><stop offset="0.756" stop-color="#1be5f1"/><stop offset="0.786" stop-color="#1aecdf"/><stop offset="0.811" stop-color="#2adeac"/><stop offset="0.833" stop-color="#1fcc6d"/><stop offset="0.852" stop-color="#16bd3c"/><stop offset="0.870" stop-color="#23b31c"/><stop offset="0.888" stop-color="#72ba1a"/><stop offset="0.907" stop-color="#d7bc20"/><stop offset="0.925" stop-color="#f28a1e"/><stop offset="0.943" stop-color="#f26318"/><stop offset="0.962" stop-color="#f2891e"/><stop offset="0.980" stop-color="#d9b920"/><stop offset="1.000" stop-color="#72ba1a"/></linearGradient><linearGradient id="tah28" x1="0" x2="1" y1="0" y2="0"><stop offset="0.000" stop-color="#1ddcf9"/><stop offset="0.088" stop-color="#1dd9f9"/><stop offset="0.176" stop-color="#1dd4f9"/><stop offset="0.264" stop-color="#1ecffa"/><stop offset="0.352" stop-color="#1ecbfa"/><stop offset="0.441" stop-color="#1ec9fa"/><stop offset="0.529" stop-color="#1ec9fa"/><stop offset="0.617" stop-color="#1eccfa"/><stop offset="0.675" stop-color="#1dd3f9"/><stop offset="0.720" stop-color="#1cddf8"/><stop offset="0.756" stop-color="#1be6ee"/><stop offset="0.786" stop-color="#1cead7"/><stop offset="0.811" stop-color="#2bdb9f"/><stop offset="0.833" stop-color="#1bc85d"/><stop offset="0.852" stop-color="#15ba32"/><stop offset="0.870" stop-color="#36b51b"/><stop offset="0.888" stop-color="#8cbb1c"/><stop offset="0.907" stop-color="#dfae1f"/><stop offset="0.925" stop-color="#f27a1b"/><stop offset="0.943" stop-color="#f25817"/><stop offset="0.962" stop-color="#f2801c"/><stop offset="0.980" stop-color="#dcb320"/><stop offset="1.000" stop-color="#7fbb1b"/></linearGradient><linearGradient id="tah29" x1="0" x2="1" y1="0" y2="0"><stop offset="0.000" stop-color="#1ce2f7"/><stop offset="0.088" stop-color="#1cdff8"/><stop offset="0.176" stop-color="#1ddaf9"/><stop offset="0.264" stop-color="#1dd5f9"/><stop offset="0.352" stop-color="#1ed0fa"/><stop offset="0.441" stop-color="#1ecdfa"/><stop offset="0.529" stop-color="#1ecefa"/><stop offset="0.617" stop-color="#1dd2f9"/><stop offset="0.675" stop-color="#1dd9f9"/><stop offset="0.720" stop-color="#1ce3f6"/><stop offset="0.756" stop-color="#1be9e6"/><stop offset="0.786" stop-color="#23e4c2"/><stop offset="0.811" stop-color="#25d487"/><stop offset="0.833" stop-color="#17c148"/><stop offset="0.852" stop-color="#13b421"/><stop offset="0.870" stop-color="#53b81b"/><stop offset="0.888" stop-color="#b2bd1e"/><stop offset="0.907" stop-color="#ea9a1f"/><stop offset="0.925" stop-color="#f26418"/><stop offset="0.943" stop-color="#f24614"/><stop offset="0.962" stop-color="#f2711a"/><stop offset="0.980" stop-color="#e4a61f"/><stop offset="1.000" stop-color="#98bc1c"/></linearGradient><linearGradient id="tah30" x1="0" x2="1" y1="0" y2="0"><stop offset="0.000" stop-color="#1ddbf9"/><stop offset="0.088" stop-color="#1dd7f9"/><stop offset="0.176" stop-color="#1ed1fa"/><stop offset="0.264" stop-color="#1ecbfa"/><stop offset="0.352" stop-color="#1fc7fa"/><stop offset="0.441" stop-color="#1fc4fa"/><stop offset="0.529" stop-color="#1fc4fa"/><stop offset="0.617" stop-color="#1fc8fa"/><stop offset="0.675" stop-color="#1ed0fa"/><stop offset="0.720" stop-color="#1ddcf9"/><stop offset="0.756" stop-color="#1be6ed"/><stop offset="0.786" stop-color="#1fe8ce"/><stop offset="0.811" stop-color="#27d690"/><stop offset="0.833" stop-color="#17c24b"/><stop offset="0.852" stop-color="#13b423"/><stop offset="0.870" stop-color="#54b81b"/><stop offset="0.888" stop-color="#b6bd1e"/><stop offset="0.907" stop-color="#eb981e"/><stop offset="0.925" stop-color="#f26118"/><stop offset="0.943" stop-color="#f24814"/><stop offset="0.962" stop-color="#f2751b"/><stop offset="0.980" stop-color="#e1ab1f"/><stop offset="1.000" stop-color="#8dbb1c"/></linearGradient><linearGradient id="tah31" x1="0" x2="1" y1="0" y2="0"><stop offset="0.000" stop-color="#1cdef8"/><stop offset="0.088" stop-color="#1dd9f9"/><stop offset="0.176" stop-color="#1dd3f9"/><stop offset="0.264" stop-color="#1ecdfa"/><stop offset="0.352" stop-color="#1fc8fa"/><stop offset="0.441" stop-color="#1fc5fa"/><stop offset="0.529" stop-color="#1fc5fa"/><stop offset="0.617" stop-color="#1ec9fa"/><stop offset="0.675" stop-color="#1dd2f9"/><stop offset="0.720" stop-color="#1cdff8"/><stop offset="0.756" stop-color="#1be8e9"/><stop offset="0.786" stop-color="#23e4c2"/><stop offset="0.811" stop-color="#23d280"/><stop offset="0.833" stop-color="#16bf41"/><stop offset="0.852" stop-color="#1ab31c"/><stop offset="0.870" stop-color="#69b91a"/><stop offset="0.888" stop-color="#d3be20"/><stop offset="0.907" stop-color="#f2891e"/><stop offset="0.925" stop-color="#f25015"/><stop offset="0.943" stop-color="#f23e13"/><stop offset="0.962" stop-color="#f26b19"/><stop offset="0.980" stop-color="#e5a31f"/><stop offset="1.000" stop-color="#9bbc1d"/></linearGradient><linearGradient id="tah32" x1="0" x2="1" y1="0" y2="0"><stop offset="0.000" stop-color="#1dd9f9"/><stop offset="0.088" stop-color="#1dd5f9"/><stop offset="0.176" stop-color="#1ecefa"/><stop offset="0.264" stop-color="#1fc8fa"/><stop offset="0.352" stop-color="#1fc2fa"/><stop offset="0.441" stop-color="#20bffa"/><stop offset="0.529" stop-color="#20bffa"/><stop offset="0.617" stop-color="#1fc4fa"/><stop offset="0.675" stop-color="#1eccfa"/><stop offset="0.720" stop-color="#1ddbf9"/><stop offset="0.756" stop-color="#1be7eb"/><stop offset="0.786" stop-color="#22e5c4"/><stop offset="0.811" stop-color="#23d17f"/><stop offset="0.833" stop-color="#16be3f"/><stop offset="0.852" stop-color="#21b31c"/><stop offset="0.870" stop-color="#72ba1a"/><stop offset="0.888" stop-color="#d9b920"/><stop offset="0.907" stop-color="#f2811c"/><stop offset="0.925" stop-color="#f24814"/><stop offset="0.943" stop-color="#f23c13"/><stop offset="0.962" stop-color="#f26b19"/><stop offset="0.980" stop-color="#e5a31f"/><stop offset="1.000" stop-color="#99bc1c"/></linearGradient><linearGradient id="tah33" x1="0" x2="1" y1="0" y2="0"><stop offset="0.000" stop-color="#1dd6f9"/><stop offset="0.088" stop-color="#1ed1fa"/><stop offset="0.176" stop-color="#1ecafa"/><stop offset="0.264" stop-color="#1fc4fa"/><stop offset="0.352" stop-color="#20befa"/><stop offset="0.441" stop-color="#20bbfa"/><stop offset="0.529" stop-color="#20bbfa"/><stop offset="0.617" stop-color="#20c0fa"/><stop offset="0.675" stop-color="#1ec9fa"/><stop offset="0.720" stop-color="#1dd8f9"/><stop offset="0.756" stop-color="#1be6ec"/><stop offset="0.786" stop-color="#22e5c4"/><stop offset="0.811" stop-color="#22d07b"/><stop offset="0.833" stop-color="#16bd3b"/><stop offset="0.852" stop-color="#29b41c"/><stop offset="0.870" stop-color="#7fbb1b"/><stop offset="0.888" stop-color="#ddb220"/><stop offset="0.907" stop-color="#f2771b"/><stop offset="0.925" stop-color="#f24013"/><stop offset="0.943" stop-color="#f23912"/><stop offset="0.962" stop-color="#f26919"/><stop offset="0.980" stop-color="#e5a31f"/><stop offset="1.000" stop-color="#99bc1c"/></linearGradient><linearGradient id="tah34" x1="0" x2="1" y1="0" y2="0"><stop offset="0.000" stop-color="#1dd5f9"/><stop offset="0.088" stop-color="#1ed0fa"/><stop offset="0.176" stop-color="#1ec9fa"/><stop offset="0.264" stop-color="#1fc2fa"/><stop offset="0.352" stop-color="#20bcfa"/><stop offset="0.441" stop-color="#21b8fa"/><stop offset="0.529" stop-color="#21b9fa"/><stop offset="0.617" stop-color="#20befa"/><stop offset="0.675" stop-color="#1fc8fa"/><stop offset="0.720" stop-color="#1dd8f9"/><stop offset="0.756" stop-color="#1be7eb"/><stop offset="0.786" stop-color="#24e3be"/><stop offset="0.811" stop-color="#20ce72"/><stop offset="0.833" stop-color="#15ba34"/><stop offset="0.852" stop-color="#37b51b"/><stop offset="0.870" stop-color="#92bb1c"/><stop offset="0.888" stop-color="#e3a71f"/><stop offset="0.907" stop-color="#f26b19"/><stop offset="0.925" stop-color="#f23712"/><stop offset="0.943" stop-color="#f23411"/><stop offset="0.962" stop-color="#f26518"/><stop offset="0.980" stop-color="#e79f1f"/><stop offset="1.000" stop-color="#9fbc1d"/></linearGradient><linearGradient id="tah35" x1="0" x2="1" y1="0" y2="0"><stop offset="0.000" stop-color="#1cdff8"/><stop offset="0.088" stop-color="#1dd9f9"/><stop offset="0.176" stop-color="#1ed1fa"/><stop offset="0.264" stop-color="#1ec9fa"/><stop offset="0.352" stop-color="#1fc3fa"/><stop offset="0.441" stop-color="#20bffa"/><stop offset="0.529" stop-color="#20bffa"/><stop offset="0.617" stop-color="#1fc5fa"/><stop offset="0.675" stop-color="#1ed0fa"/><stop offset="0.720" stop-color="#1ce2f8"/><stop offset="0.756" stop-color="#1aebe1"/><stop offset="0.786" stop-color="#2cdca3"/><stop offset="0.811" stop-color="#19c553"/><stop offset="0.833" stop-color="#13b422"/><stop offset="0.852" stop-color="#56b81b"/><stop offset="0.870" stop-color="#bbbd1e"/><stop offset="0.888" stop-color="#ef921e"/><stop offset="0.907" stop-color="#f25216"/><stop offset="0.925" stop-color="#f2230f"/><stop offset="0.943" stop-color="#f2240f"/><stop offset="0.962" stop-color="#f25216"/><stop offset="0.980" stop-color="#f0901e"/><stop offset="1.000" stop-color="#bebd1f"/></linearGradient><linearGradient id="tah36" x1="0" x2="1" y1="0" y2="0"><stop offset="0.000" stop-color="#1cdef8"/><stop offset="0.088" stop-color="#1dd8f9"/><stop offset="0.176" stop-color="#1ed0fa"/><stop offset="0.264" stop-color="#1fc8fa"/><stop offset="0.352" stop-color="#20c1fa"/><stop offset="0.441" stop-color="#20bdfa"/><stop offset="0.529" stop-color="#20bdfa"/><stop offset="0.617" stop-color="#1fc4fa"/><stop offset="0.675" stop-color="#1ecffa"/><stop offset="0.720" stop-color="#1ce2f8"/><stop offset="0.756" stop-color="#1aebe0"/><stop offset="0.786" stop-color="#2bdb9f"/><stop offset="0.811" stop-color="#18c34e"/><stop offset="0.833" stop-color="#12b21c"/><stop offset="0.852" stop-color="#60b91a"/><stop offset="0.870" stop-color="#cabe1f"/><stop offset="0.888" stop-color="#f28a1e"/><stop offset="0.907" stop-color="#f24914"/><stop offset="0.925" stop-color="#f11c0e"/><stop offset="0.943" stop-color="#f21e0e"/><stop offset="0.962" stop-color="#f24c15"/><stop offset="0.980" stop-color="#f28b1e"/><stop offset="1.000" stop-color="#c6bd1f"/></linearGradient><linearGradient id="tah37" x1="0" x2="1" y1="0" y2="0"><stop offset="0.000" stop-color="#1dd8f9"/><stop offset="0.088" stop-color="#1dd2f9"/><stop offset="0.176" stop-color="#1ecafa"/><stop offset="0.264" stop-color="#1fc2fa"/><stop offset="0.352" stop-color="#20bcfa"/><stop offset="0.441" stop-color="#21b7fa"/><stop offset="0.529" stop-color="#21b8fa"/><stop offset="0.617" stop-color="#20bffa"/><stop offset="0.675" stop-color="#1ecafa"/><stop offset="0.720" stop-color="#1cddf8"/><stop offset="0.756" stop-color="#1aeae3"/><stop offset="0.786" stop-color="#2cdca5"/><stop offset="0.811" stop-color="#18c44f"/><stop offset="0.833" stop-color="#12b21d"/><stop offset="0.852" stop-color="#62b91a"/><stop offset="0.870" stop-color="#cebe20"/><stop offset="0.888" stop-color="#f2871d"/><stop offset="0.907" stop-color="#f24514"/><stop offset="0.925" stop-color="#f01a0d"/><stop offset="0.943" stop-color="#f21e0e"/><stop offset="0.962" stop-color="#f24c15"/><stop offset="0.980" stop-color="#f28c1e"/><stop offset="1.000" stop-color="#c3bd1f"/></linearGradient><linearGradient id="tah38" x1="0" x2="1" y1="0" y2="0"><stop offset="0.000" stop-color="#1ddcf9"/><stop offset="0.088" stop-color="#1dd6f9"/><stop offset="0.176" stop-color="#1ecefa"/><stop offset="0.264" stop-color="#1fc5fa"/><stop offset="0.352" stop-color="#20befa"/><stop offset="0.441" stop-color="#21bafa"/><stop offset="0.529" stop-color="#20bbfa"/><stop offset="0.617" stop-color="#1fc2fa"/><stop offset="0.675" stop-color="#1ecefa"/><stop offset="0.720" stop-color="#1ce2f8"/><stop offset="0.756" stop-color="#1aecdd"/><stop offset="0.786" stop-color="#28d895"/><stop offset="0.811" stop-color="#17c046"/><stop offset="0.833" stop-color="#23b31c"/><stop offset="0.852" stop-color="#76ba1a"/><stop offset="0.870" stop-color="#dbb520"/><stop offset="0.888" stop-color="#f2771b"/><stop offset="0.907" stop-color="#f23812"/><stop offset="0.925" stop-color="#ec140c"/><stop offset="0.943" stop-color="#ee180d"/><stop offset="0.962" stop-color="#f24213"/><stop offset="0.980" stop-color="#f2811c"/><stop offset="1.000" stop-color="#d6be20"/></linearGradient><linearGradient id="tah39" x1="0" x2="1" y1="0" y2="0"><stop offset="0.000" stop-color="#1ddcf9"/><stop offset="0.088" stop-color="#1dd6f9"/><stop offset="0.176" stop-color="#1ecdfa"/><stop offset="0.264" stop-color="#1fc5fa"/><stop offset="0.352" stop-color="#20befa"/><stop offset="0.441" stop-color="#21bafa"/><stop offset="0.529" stop-color="#21bafa"/><stop offset="0.617" stop-color="#20c1fa"/><stop offset="0.675" stop-color="#1ecefa"/><stop offset="0.720" stop-color="#1ce2f7"/><stop offset="0.756" stop-color="#1cead8"/><stop offset="0.786" stop-color="#27d68e"/><stop offset="0.811" stop-color="#16bf40"/><stop offset="0.833" stop-color="#2db41b"/><stop offset="0.852" stop-color="#85bb1b"/><stop offset="0.870" stop-color="#e0ad1f"/><stop offset="0.888" stop-color="#f26d1a"/><stop offset="0.907" stop-color="#f22f11"/><stop offset="0.925" stop-color="#ec140c"/><stop offset="0.943" stop-color="#ec140c"/><stop offset="0.962" stop-color="#f23c13"/><stop offset="0.980" stop-color="#f27b1c"/><stop offset="1.000" stop-color="#d8ba20"/></linearGradient><linearGradient id="tah40" x1="0" x2="1" y1="0" y2="0"><stop offset="0.000" stop-color="#1cdff8"/><stop offset="0.088" stop-color="#1dd9f9"/><stop offset="0.176" stop-color="#1ed0fa"/><stop offset="0.264" stop-color="#1fc7fa"/><stop offset="0.352" stop-color="#20c0fa"/><stop offset="0.441" stop-color="#20bcfa"/><stop offset="0.529" stop-color="#20bdfa"/><stop offset="0.617" stop-color="#1fc4fa"/><stop offset="0.675" stop-color="#1dd2f9"/><stop offset="0.720" stop-color="#1ce4f3"/><stop offset="0.756" stop-color="#1fe7cd"/><stop offset="0.786" stop-color="#23d280"/><stop offset="0.811" stop-color="#15bc38"/><stop offset="0.833" stop-color="#3db61b"/><stop offset="0.852" stop-color="#9abc1c"/><stop offset="0.870" stop-color="#e6a21f"/><stop offset="0.888" stop-color="#f26018"/><stop offset="0.907" stop-color="#f2240f"/><stop offset="0.925" stop-color="#ec140c"/><stop offset="0.943" stop-color="#ec140c"/><stop offset="0.962" stop-color="#f23411"/><stop offset="0.980" stop-color="#f2721a"/><stop offset="1.000" stop-color="#ddb220"/></linearGradient><linearGradient id="tah41" x1="0" x2="1" y1="0" y2="0"><stop offset="0.000" stop-color="#1ce0f8"/><stop offset="0.088" stop-color="#1ddaf9"/><stop offset="0.176" stop-color="#1ed1fa"/><stop offset="0.264" stop-color="#1fc8fa"/><stop offset="0.352" stop-color="#20c1fa"/><stop offset="0.441" stop-color="#20bdfa"/><stop offset="0.529" stop-color="#20befa"/><stop offset="0.617" stop-color="#1fc5fa"/><stop offset="0.675" stop-color="#1dd4f9"/><stop offset="0.720" stop-color="#1be5f0"/><stop offset="0.756" stop-color="#21e5c6"/><stop offset="0.786" stop-color="#21cf77"/><stop offset="0.811" stop-color="#15ba32"/><stop offset="0.833" stop-color="#48b71b"/><stop offset="0.852" stop-color="#a9bc1d"/><stop offset="0.870" stop-color="#ea9a1f"/><stop offset="0.888" stop-color="#f25716"/><stop offset="0.907" stop-color="#f11d0e"/><stop offset="0.925" stop-color="#ec140c"/><stop offset="0.943" stop-color="#ec140c"/><stop offset="0.962" stop-color="#f22f11"/><stop offset="0.980" stop-color="#f26c19"/><stop offset="1.000" stop-color="#dfad1f"/></linearGradient><linearGradient id="tah42" x1="0" x2="1" y1="0" y2="0"><stop offset="0.000" stop-color="#1dd9f9"/><stop offset="0.088" stop-color="#1dd3f9"/><stop offset="0.176" stop-color="#1ecbfa"/><stop offset="0.264" stop-color="#1fc3fa"/><stop offset="0.352" stop-color="#20bcfa"/><stop offset="0.441" stop-color="#21b8fa"/><stop offset="0.529" stop-color="#21b8fa"/><stop offset="0.617" stop-color="#20c0fa"/><stop offset="0.675" stop-color="#1ecefa"/><stop offset="0.720" stop-color="#1ce3f5"/><stop offset="0.756" stop-color="#1fe8cf"/><stop offset="0.786" stop-color="#23d17f"/><stop offset="0.811" stop-color="#15bb35"/><stop offset="0.833" stop-color="#44b61b"/><stop offset="0.852" stop-color="#a5bc1d"/><stop offset="0.870" stop-color="#e99b1f"/><stop offset="0.888" stop-color="#f25817"/><stop offset="0.907" stop-color="#f21e0e"/><stop offset="0.925" stop-color="#ec140c"/><stop offset="0.943" stop-color="#ec140c"/><stop offset="0.962" stop-color="#f23311"/><stop offset="0.980" stop-color="#f2711a"/><stop offset="1.000" stop-color="#ddb220"/></linearGradient><linearGradient id="tah43" x1="0" x2="1" y1="0" y2="0"><stop offset="0.000" stop-color="#1ce1f8"/><stop offset="0.088" stop-color="#1ddbf9"/><stop offset="0.176" stop-color="#1dd3f9"/><stop offset="0.264" stop-color="#1ecafa"/><stop offset="0.352" stop-color="#1fc3fa"/><stop offset="0.441" stop-color="#20c0fa"/><stop offset="0.529" stop-color="#20c0fa"/><stop offset="0.617" stop-color="#1fc8fa"/><stop offset="0.675" stop-color="#1dd8f9"/><stop offset="0.720" stop-color="#1be7ec"/><stop offset="0.756" stop-color="#26e2b8"/><stop offset="0.786" stop-color="#1dca66"/><stop offset="0.811" stop-color="#13b627"/><stop offset="0.833" stop-color="#5cb81a"/><stop offset="0.852" stop-color="#c4bd1f"/><stop offset="0.870" stop-color="#f28b1e"/><stop offset="0.888" stop-color="#f24614"/><stop offset="0.907" stop-color="#ec150c"/><stop offset="0.925" stop-color="#ec140c"/><stop offset="0.943" stop-color="#ec140c"/><stop offset="0.962" stop-color="#f2260f"/><stop offset="0.980" stop-color="#f26218"/><stop offset="1.000" stop-color="#e4a51f"/></linearGradient><linearGradient id="tah44" x1="0" x2="1" y1="0" y2="0"><stop offset="0.000" stop-color="#1ce1f8"/><stop offset="0.088" stop-color="#1ddbf9"/><stop offset="0.176" stop-color="#1dd3f9"/><stop offset="0.264" stop-color="#1ecbfa"/><stop offset="0.352" stop-color="#1fc4fa"/><stop offset="0.441" stop-color="#20c1fa"/><stop offset="0.529" stop-color="#20c1fa"/><stop offset="0.617" stop-color="#1ec9fa"/><stop offset="0.675" stop-color="#1dd9f9"/><stop offset="0.720" stop-color="#1be8ea"/><stop offset="0.756" stop-color="#28e0b2"/><stop offset="0.786" stop-color="#1bc85d"/><stop offset="0.811" stop-color="#13b421"/><stop offset="0.833" stop-color="#66b91a"/><stop offset="0.852" stop-color="#d2be20"/><stop offset="0.870" stop-color="#f2841d"/><stop offset="0.888" stop-color="#f23f13"/><stop offset="0.907" stop-color="#ec140c"/><stop offset="0.925" stop-color="#ec140c"/><stop offset="0.943" stop-color="#ec140c"/><stop offset="0.962" stop-color="#f2220f"/><stop offset="0.980" stop-color="#f25e17"/><stop offset="1.000" stop-color="#e6a21f"/></linearGradient><linearGradient id="tah45" x1="0" x2="1" y1="0" y2="0"><stop offset="0.000" stop-color="#1ddcf9"/><stop offset="0.088" stop-color="#1dd7f9"/><stop offset="0.176" stop-color="#1ecffa"/><stop offset="0.264" stop-color="#1fc8fa"/><stop offset="0.352" stop-color="#1fc2fa"/><stop offset="0.441" stop-color="#20befa"/><stop offset="0.529" stop-color="#20bffa"/><stop offset="0.617" stop-color="#1fc7fa"/><stop offset="0.675" stop-color="#1dd8f9"/><stop offset="0.720" stop-color="#1be7ea"/><stop offset="0.756" stop-color="#28e0b2"/><stop offset="0.786" stop-color="#1bc75c"/><stop offset="0.811" stop-color="#12b320"/><stop offset="0.833" stop-color="#68b91a"/><stop offset="0.852" stop-color="#d3be20"/><stop offset="0.870" stop-color="#f2831d"/><stop offset="0.888" stop-color="#f24013"/><stop offset="0.907" stop-color="#ec140c"/><stop offset="0.925" stop-color="#ec140c"/><stop offset="0.943" stop-color="#ec140c"/><stop offset="0.962" stop-color="#f2260f"/><stop offset="0.980" stop-color="#f26218"/><stop offset="1.000" stop-color="#e4a51f"/></linearGradient><linearGradient id="tah46" x1="0" x2="1" y1="0" y2="0"><stop offset="0.000" stop-color="#1ce0f8"/><stop offset="0.088" stop-color="#1ddbf9"/><stop offset="0.176" stop-color="#1dd4f9"/><stop offset="0.264" stop-color="#1ecdfa"/><stop offset="0.352" stop-color="#1fc7fa"/><stop offset="0.441" stop-color="#1fc4fa"/><stop offset="0.529" stop-color="#1fc5fa"/><stop offset="0.617" stop-color="#1ecefa"/><stop offset="0.675" stop-color="#1ce0f8"/><stop offset="0.720" stop-color="#1aebe1"/><stop offset="0.756" stop-color="#2ad99b"/><stop offset="0.786" stop-color="#17c24a"/><stop offset="0.811" stop-color="#20b31c"/><stop offset="0.833" stop-color="#7dbb1b"/><stop offset="0.852" stop-color="#dbb520"/><stop offset="0.870" stop-color="#f27a1b"/><stop offset="0.888" stop-color="#f23a12"/><stop offset="0.907" stop-color="#ec140c"/><stop offset="0.925" stop-color="#ec140c"/><stop offset="0.943" stop-color="#ec140c"/><stop offset="0.962" stop-color="#f2250f"/><stop offset="0.980" stop-color="#f25e17"/><stop offset="1.000" stop-color="#e79f1f"/></linearGradient><linearGradient id="tah47" x1="0" x2="1" y1="0" y2="0"><stop offset="0.000" stop-color="#1ddcf9"/><stop offset="0.088" stop-color="#1dd7f9"/><stop offset="0.176" stop-color="#1ed1fa"/><stop offset="0.264" stop-color="#1ecafa"/><stop offset="0.352" stop-color="#1fc4fa"/><stop offset="0.441" stop-color="#1fc2fa"/><stop offset="0.529" stop-color="#1fc3fa"/><stop offset="0.617" stop-color="#1ecdfa"/><stop offset="0.675" stop-color="#1ce0f8"/><stop offset="0.720" stop-color="#1aebe0"/><stop offset="0.756" stop-color="#29d998"/><stop offset="0.786" stop-color="#17c148"/><stop offset="0.811" stop-color="#22b31c"/><stop offset="0.833" stop-color="#7ebb1b"/><stop offset="0.852" stop-color="#dab620"/><stop offset="0.870" stop-color="#f27d1c"/><stop offset="0.888" stop-color="#f23e13"/><stop offset="0.907" stop-color="#ec140c"/><stop offset="0.925" stop-color="#ec140c"/><stop offset="0.943" stop-color="#ec140c"/><stop offset="0.962" stop-color="#f22c10"/><stop offset="0.980" stop-color="#f26518"/><stop offset="1.000" stop-color="#e5a41f"/></linearGradient><linearGradient id="tah48" x1="0" x2="1" y1="0" y2="0"><stop offset="0.000" stop-color="#1ddbf9"/><stop offset="0.088" stop-color="#1dd6f9"/><stop offset="0.176" stop-color="#1ed0fa"/><stop offset="0.264" stop-color="#1ecafa"/><stop offset="0.352" stop-color="#1fc5fa"/><stop offset="0.441" stop-color="#1fc3fa"/><stop offset="0.529" stop-color="#1fc4fa"/><stop offset="0.617" stop-color="#1ecffa"/><stop offset="0.675" stop-color="#1ce3f6"/><stop offset="0.720" stop-color="#1bebda"/><stop offset="0.756" stop-color="#26d58d"/><stop offset="0.786" stop-color="#16bf42"/><stop offset="0.811" stop-color="#2bb41b"/><stop offset="0.833" stop-color="#87bb1b"/><stop offset="0.852" stop-color="#dcb320"/><stop offset="0.870" stop-color="#f27b1c"/><stop offset="0.888" stop-color="#f23e13"/><stop offset="0.907" stop-color="#ec140c"/><stop offset="0.925" stop-color="#ec140c"/><stop offset="0.943" stop-color="#ec140c"/><stop offset="0.962" stop-color="#f23011"/><stop offset="0.980" stop-color="#f26819"/><stop offset="1.000" stop-color="#e4a51f"/></linearGradient><linearGradient id="tah49" x1="0" x2="1" y1="0" y2="0"><stop offset="0.000" stop-color="#1dd9f9"/><stop offset="0.088" stop-color="#1dd5f9"/><stop offset="0.176" stop-color="#1ed0fa"/><stop offset="0.264" stop-color="#1ecafa"/><stop offset="0.352" stop-color="#1fc6fa"/><stop offset="0.441" stop-color="#1fc4fa"/><stop offset="0.529" stop-color="#1fc7fa"/><stop offset="0.617" stop-color="#1dd5f9"/><stop offset="0.675" stop-color="#1be6ef"/><stop offset="0.720" stop-color="#22e5c5"/><stop offset="0.756" stop-color="#21cf76"/><stop offset="0.786" stop-color="#15bb36"/><stop offset="0.811" stop-color="#3ab51b"/><stop offset="0.833" stop-color="#93bb1c"/><stop offset="0.852" stop-color="#ddb11f"/><stop offset="0.870" stop-color="#f27e1c"/><stop offset="0.888" stop-color="#f24514"/><stop offset="0.907" stop-color="#f01b0d"/><stop offset="0.925" stop-color="#ec140c"/><stop offset="0.943" stop-color="#ef1a0d"/><stop offset="0.962" stop-color="#f24113"/><stop offset="0.980" stop-color="#f2761b"/><stop offset="1.000" stop-color="#e0ac1f"/></linearGradient><linearGradient id="tah50" x1="0" x2="1" y1="0" y2="0"><stop offset="0.000" stop-color="#1ce2f8"/><stop offset="0.088" stop-color="#1cdff8"/><stop offset="0.176" stop-color="#1ddaf9"/><stop offset="0.264" stop-color="#1dd5f9"/><stop offset="0.352" stop-color="#1ed0fa"/><stop offset="0.441" stop-color="#1ecffa"/><stop offset="0.529" stop-color="#1dd5f9"/><stop offset="0.617" stop-color="#1ce4f3"/><stop offset="0.675" stop-color="#1dead6"/><stop offset="0.720" stop-color="#28d793"/><stop offset="0.756" stop-color="#17c24a"/><stop offset="0.786" stop-color="#12b21d"/><stop offset="0.811" stop-color="#5ab81a"/><stop offset="0.833" stop-color="#afbc1e"/><stop offset="0.852" stop-color="#e1a91f"/><stop offset="0.870" stop-color="#f27e1c"/><stop offset="0.888" stop-color="#f24e15"/><stop offset="0.907" stop-color="#f22810"/><stop offset="0.925" stop-color="#ee180d"/><stop offset="0.943" stop-color="#f22f11"/><stop offset="0.962" stop-color="#f25616"/><stop offset="0.980" stop-color="#f2841d"/><stop offset="1.000" stop-color="#deb01f"/></linearGradient><linearGradient id="tah51" x1="0" x2="1" y1="0" y2="0"><stop offset="0.000" stop-color="#1dd9f9"/><stop offset="0.088" stop-color="#1dd6f9"/><stop offset="0.176" stop-color="#1dd2f9"/><stop offset="0.264" stop-color="#1ecefa"/><stop offset="0.352" stop-color="#1ecbfa"/><stop offset="0.441" stop-color="#1ecdfa"/><stop offset="0.529" stop-color="#1dd7f9"/><stop offset="0.617" stop-color="#1be7ea"/><stop offset="0.675" stop-color="#26e1b7"/><stop offset="0.720" stop-color="#1fcd6e"/><stop offset="0.756" stop-color="#15bb36"/><stop offset="0.786" stop-color="#2bb41b"/><stop offset="0.811" stop-color="#6cba1a"/><stop offset="0.833" stop-color="#b5bd1e"/><stop offset="0.852" stop-color="#dfae1f"/><stop offset="0.870" stop-color="#f18e1e"/><stop offset="0.888" stop-color="#f26c19"/><stop offset="0.907" stop-color="#f24f15"/><stop offset="0.925" stop-color="#f25b17"/><stop offset="0.943" stop-color="#f2791b"/><stop offset="0.962" stop-color="#ea9a1f"/><stop offset="0.980" stop-color="#d9b820"/><stop offset="1.000" stop-color="#a1bc1d"/></linearGradient><linearGradient id="tah52" x1="0" x2="1" y1="0" y2="0"><stop offset="0.000" stop-color="#1dd9f9"/><stop offset="0.088" stop-color="#1dd6f9"/><stop offset="0.176" stop-color="#1dd3f9"/><stop offset="0.264" stop-color="#1ed1fa"/><stop offset="0.352" stop-color="#1dd2f9"/><stop offset="0.441" stop-color="#1dd8f9"/><stop offset="0.529" stop-color="#1ce4f2"/><stop offset="0.617" stop-color="#21e5c6"/><stop offset="0.675" stop-color="#23d17f"/><stop offset="0.720" stop-color="#16bf43"/><stop offset="0.756" stop-color="#12b21d"/><stop offset="0.786" stop-color="#46b61b"/><stop offset="0.811" stop-color="#7bba1b"/><stop offset="0.833" stop-color="#b1bd1e"/><stop offset="0.852" stop-color="#d8ba20"/><stop offset="0.870" stop-color="#e3a61f"/><stop offset="0.888" stop-color="#ec961e"/><stop offset="0.907" stop-color="#e79f1f"/><stop offset="0.925" stop-color="#ddb11f"/><stop offset="0.943" stop-color="#c7bd1f"/><stop offset="0.962" stop-color="#9ebc1d"/><stop offset="0.980" stop-color="#74ba1a"/><stop offset="1.000" stop-color="#4fb71b"/></linearGradient><linearGradient id="tah53" x1="0" x2="1" y1="0" y2="0"><stop offset="0.000" stop-color="#1ce3f5"/><stop offset="0.088" stop-color="#1ce3f6"/><stop offset="0.176" stop-color="#1ce3f7"/><stop offset="0.264" stop-color="#1ce3f5"/><stop offset="0.352" stop-color="#1be5f0"/><stop offset="0.441" stop-color="#1be9e5"/><stop offset="0.529" stop-color="#24e3be"/><stop offset="0.617" stop-color="#20ce72"/><stop offset="0.675" stop-color="#16be3e"/><stop offset="0.720" stop-color="#12b31e"/><stop offset="0.756" stop-color="#3eb61b"/><stop offset="0.786" stop-color="#64b91a"/><stop offset="0.811" stop-color="#89bb1b"/><stop offset="0.833" stop-color="#a9bc1d"/><stop offset="0.852" stop-color="#bebd1f"/><stop offset="0.870" stop-color="#b7bd1e"/><stop offset="0.888" stop-color="#a2bc1d"/><stop offset="0.907" stop-color="#8abb1c"/><stop offset="0.925" stop-color="#71ba1a"/><stop offset="0.943" stop-color="#5bb81a"/><stop offset="0.962" stop-color="#46b61b"/><stop offset="0.980" stop-color="#31b51b"/><stop offset="1.000" stop-color="#1bb31c"/></linearGradient><linearGradient id="tah54" x1="0" x2="1" y1="0" y2="0"><stop offset="0.000" stop-color="#1be5f1"/><stop offset="0.088" stop-color="#1be6ef"/><stop offset="0.176" stop-color="#1be7ec"/><stop offset="0.264" stop-color="#1be9e7"/><stop offset="0.352" stop-color="#1aecde"/><stop offset="0.441" stop-color="#24e3be"/><stop offset="0.529" stop-color="#27d58d"/><stop offset="0.617" stop-color="#18c34d"/><stop offset="0.675" stop-color="#14b932"/><stop offset="0.720" stop-color="#13b21c"/><stop offset="0.756" stop-color="#2fb41b"/><stop offset="0.786" stop-color="#44b61b"/><stop offset="0.811" stop-color="#4eb71b"/><stop offset="0.833" stop-color="#45b61b"/><stop offset="0.852" stop-color="#3ab51b"/><stop offset="0.870" stop-color="#2fb41b"/><stop offset="0.888" stop-color="#23b31c"/><stop offset="0.907" stop-color="#17b21c"/><stop offset="0.925" stop-color="#13b421"/><stop offset="0.943" stop-color="#13b629"/><stop offset="0.962" stop-color="#14b930"/><stop offset="0.980" stop-color="#15bc38"/><stop offset="1.000" stop-color="#16be40"/></linearGradient><linearGradient id="tah55" x1="0" x2="1" y1="0" y2="0"><stop offset="0.000" stop-color="#1be5f1"/><stop offset="0.088" stop-color="#1be6ee"/><stop offset="0.176" stop-color="#1be7ea"/><stop offset="0.264" stop-color="#1aeae4"/><stop offset="0.352" stop-color="#1cead7"/><stop offset="0.441" stop-color="#26e2b8"/><stop offset="0.529" stop-color="#27d68f"/><stop offset="0.617" stop-color="#1bc85d"/><stop offset="0.675" stop-color="#17c044"/><stop offset="0.720" stop-color="#15bb37"/><stop offset="0.756" stop-color="#14b92f"/><stop offset="0.786" stop-color="#15ba32"/><stop offset="0.811" stop-color="#15bb37"/><stop offset="0.833" stop-color="#16bd3c"/><stop offset="0.852" stop-color="#16bf40"/><stop offset="0.870" stop-color="#17c045"/><stop offset="0.888" stop-color="#17c24a"/><stop offset="0.907" stop-color="#18c44f"/><stop offset="0.925" stop-color="#1ac657"/><stop offset="0.943" stop-color="#1cc960"/><stop offset="0.962" stop-color="#1ecb69"/><stop offset="0.980" stop-color="#20ce72"/><stop offset="1.000" stop-color="#22d07c"/></linearGradient><linearGradient id="tah56" x1="0" x2="1" y1="0" y2="0"><stop offset="0.000" stop-color="#1be7ec"/><stop offset="0.088" stop-color="#1be8e9"/><stop offset="0.176" stop-color="#1be9e5"/><stop offset="0.264" stop-color="#1aebe0"/><stop offset="0.352" stop-color="#1ee9d2"/><stop offset="0.441" stop-color="#25e3bc"/><stop offset="0.529" stop-color="#2bdba0"/><stop offset="0.617" stop-color="#23d280"/><stop offset="0.675" stop-color="#1fcc6d"/><stop offset="0.720" stop-color="#1dca66"/><stop offset="0.756" stop-color="#1ecc6b"/><stop offset="0.786" stop-color="#20ce72"/><stop offset="0.811" stop-color="#22cf78"/><stop offset="0.833" stop-color="#23d17e"/><stop offset="0.852" stop-color="#24d383"/><stop offset="0.870" stop-color="#25d488"/><stop offset="0.888" stop-color="#27d68e"/><stop offset="0.907" stop-color="#28d793"/><stop offset="0.925" stop-color="#29d998"/><stop offset="0.943" stop-color="#2bda9e"/><stop offset="0.962" stop-color="#2cdca3"/><stop offset="0.980" stop-color="#2bdda8"/><stop offset="1.000" stop-color="#29dfad"/></linearGradient><linearGradient id="tah57" x1="0" x2="1" y1="0" y2="0"><stop offset="0.000" stop-color="#1be7eb"/><stop offset="0.088" stop-color="#1be8ea"/><stop offset="0.176" stop-color="#1be8e8"/><stop offset="0.264" stop-color="#1be9e5"/><stop offset="0.352" stop-color="#1aebe2"/><stop offset="0.441" stop-color="#1bebdc"/><stop offset="0.529" stop-color="#1fe8ce"/><stop offset="0.617" stop-color="#24e4bf"/><stop offset="0.675" stop-color="#25e2ba"/><stop offset="0.720" stop-color="#24e3bd"/><stop offset="0.756" stop-color="#23e4c0"/><stop offset="0.786" stop-color="#22e5c3"/><stop offset="0.811" stop-color="#22e5c6"/><stop offset="0.833" stop-color="#21e6c8"/><stop offset="0.852" stop-color="#20e7ca"/><stop offset="0.870" stop-color="#1fe7cc"/><stop offset="0.888" stop-color="#1fe8ce"/><stop offset="0.907" stop-color="#1ee8d1"/><stop offset="0.925" stop-color="#1de9d3"/><stop offset="0.943" stop-color="#1de9d5"/><stop offset="0.962" stop-color="#1cead7"/><stop offset="0.980" stop-color="#1cebd9"/><stop offset="1.000" stop-color="#1bebdb"/></linearGradient><linearGradient id="tah58" x1="0" x2="1" y1="0" y2="0"><stop offset="0.000" stop-color="#1be6ee"/><stop offset="0.088" stop-color="#1be6ee"/><stop offset="0.176" stop-color="#1be5ef"/><stop offset="0.264" stop-color="#1be5f0"/><stop offset="0.352" stop-color="#1be5f0"/><stop offset="0.441" stop-color="#1be5f0"/><stop offset="0.529" stop-color="#1be6ef"/><stop offset="0.617" stop-color="#1be6ed"/><stop offset="0.675" stop-color="#1be7ec"/><stop offset="0.720" stop-color="#1be7eb"/><stop offset="0.756" stop-color="#1be7eb"/><stop offset="0.786" stop-color="#1be7eb"/><stop offset="0.811" stop-color="#1be7eb"/><stop offset="0.833" stop-color="#1be7eb"/><stop offset="0.852" stop-color="#1be7eb"/><stop offset="0.870" stop-color="#1be7eb"/><stop offset="0.888" stop-color="#1be7eb"/><stop offset="0.907" stop-color="#1be7eb"/><stop offset="0.925" stop-color="#1be7eb"/><stop offset="0.943" stop-color="#1be7eb"/><stop offset="0.962" stop-color="#1be7eb"/><stop offset="0.980" stop-color="#1be7eb"/><stop offset="1.000" stop-color="#1be7eb"/></linearGradient><linearGradient id="tah59" x1="0" x2="1" y1="0" y2="0"><stop offset="0.000" stop-color="#1be6ef"/><stop offset="0.088" stop-color="#1be5f0"/><stop offset="0.176" stop-color="#1be5f1"/><stop offset="0.264" stop-color="#1ce4f2"/><stop offset="0.352" stop-color="#1ce4f3"/><stop offset="0.441" stop-color="#1ce4f4"/><stop offset="0.529" stop-color="#1ce4f4"/><stop offset="0.617" stop-color="#1ce4f3"/><stop offset="0.675" stop-color="#1ce4f2"/><stop offset="0.720" stop-color="#1ce4f2"/><stop offset="0.756" stop-color="#1be5f1"/><stop offset="0.786" stop-color="#1be5f1"/><stop offset="0.811" stop-color="#1be5f0"/><stop offset="0.833" stop-color="#1be5f0"/><stop offset="0.852" stop-color="#1be5f0"/><stop offset="0.870" stop-color="#1be5f0"/><stop offset="0.888" stop-color="#1be5f0"/><stop offset="0.907" stop-color="#1be5ef"/><stop offset="0.925" stop-color="#1be5ef"/><stop offset="0.943" stop-color="#1be5ef"/><stop offset="0.962" stop-color="#1be6ef"/><stop offset="0.980" stop-color="#1be6ef"/><stop offset="1.000" stop-color="#1be6ef"/></linearGradient><linearGradient id="cbh" x1="0" y1="0" x2="0" y2="1"><stop offset="0" stop-color="#1f4fe0"/><stop offset="0.2" stop-color="#3a9af0"/><stop offset="0.33" stop-color="#8ae6f2"/><stop offset="0.45" stop-color="#34cf8a"/><stop offset="0.55" stop-color="#12b022"/><stop offset="0.7" stop-color="#8cc020"/><stop offset="0.82" stop-color="#f0a020"/><stop offset="1" stop-color="#f01a10"/></linearGradient></defs>
<rect width="685" height="542" fill="#fff"/>
<text x="-0.60" y="11.70" font-size="16.5" text-anchor="start" fill="#000" font-weight="bold" >a</text>
<text x="-0.60" y="190.80" font-size="16.5" text-anchor="start" fill="#000" font-weight="bold" >b</text>
<text x="-0.60" y="370.00" font-size="16.5" text-anchor="start" fill="#000" font-weight="bold" >c</text>
<text x="242.50" y="11.50" font-size="16.5" text-anchor="start" fill="#000" font-weight="bold" >d</text>
<text x="242.50" y="191.00" font-size="16.5" text-anchor="start" fill="#000" font-weight="bold" >e</text>
<text x="244.60" y="369.50" font-size="16.5" text-anchor="start" fill="#000" font-weight="bold" >f</text>
<text x="518.50" y="12.30" font-size="16.5" text-anchor="start" fill="#000" font-weight="bold" >g</text>
<text x="518.50" y="191.00" font-size="16.5" text-anchor="start" fill="#000" font-weight="bold" >h</text>
<text x="468.80" y="369.70" font-size="16.5" text-anchor="start" fill="#000" font-weight="bold" >i</text>
<rect x="14.3" y="7" width="212.70" height="146.50" fill="#7c7c7c" filter="url(#sema)"/>
<text x="220.00" y="21.50" font-size="9.6" text-anchor="end" fill="#f4f4f4" font-weight="normal" stroke="#f4f4f4" stroke-width="0.22" >OA</text>
<rect x="14.3" y="185" width="212.70" height="147.00" fill="#7c7c7c" filter="url(#semb)"/>
<text x="220.00" y="199.10" font-size="9.6" text-anchor="end" fill="#f4f4f4" font-weight="normal" stroke="#f4f4f4" stroke-width="0.22" >OctOA</text>
<rect x="14.3" y="365" width="212.70" height="147.00" fill="#7c7c7c" filter="url(#semc)"/>
<text x="220.00" y="380.80" font-size="9.6" text-anchor="end" fill="#f4f4f4" font-weight="normal" stroke="#f4f4f4" stroke-width="0.22" >DEHP</text>
<g filter="url(#pblur)">
<ellipse cx="74.2" cy="242.6" rx="7" ry="5" fill="#e0e0e0" opacity="0.55"/>
<ellipse cx="186.6" cy="305.2" rx="6" ry="5" fill="#e0e0e0" opacity="0.55"/>
<ellipse cx="209" cy="298.8" rx="4" ry="3" fill="#e0e0e0" opacity="0.45"/>
<ellipse cx="93.5" cy="202.5" rx="4" ry="3" fill="#d8d8d8" opacity="0.4"/>
<ellipse cx="22" cy="190" rx="6" ry="4" fill="#d0d0d0" opacity="0.35"/>
<ellipse cx="138.4" cy="255.5" rx="5" ry="4" fill="#d0d0d0" opacity="0.3"/>
<ellipse cx="185" cy="239.4" rx="3" ry="4" fill="#202020" opacity="0.6"/>
<ellipse cx="67.8" cy="218.5" rx="5" ry="2" fill="#202020" opacity="0.45"/>
<ellipse cx="200" cy="50" rx="10" ry="6" fill="#c8c8c8" opacity="0.18"/>
<ellipse cx="170" cy="12" rx="12" ry="4" fill="#c8c8c8" opacity="0.2"/>
</g>
<rect x="21.8" y="142.7" width="35.3" height="3.4" fill="#fff"/>
<text x="26.30" y="138.40" font-size="10.0" text-anchor="start" fill="#f4f4f4" font-weight="normal" stroke="#f4f4f4" stroke-width="0.22" >2 μm</text>
<rect x="21.8" y="321.1" width="35.3" height="3.4" fill="#fff"/>
<text x="26.30" y="317.00" font-size="10.0" text-anchor="start" fill="#f4f4f4" font-weight="normal" stroke="#f4f4f4" stroke-width="0.22" >2 μm</text>
<rect x="21.8" y="500.9" width="35.3" height="3.4" fill="#fff"/>
<text x="26.30" y="496.40" font-size="10.0" text-anchor="start" fill="#f4f4f4" font-weight="normal" stroke="#f4f4f4" stroke-width="0.22" >2 μm</text>
<g clip-path="url(#clipd)">
<rect x="276.2" y="7" width="159.3" height="136.5" fill="url(#rgd)"/>
<circle cx="324.7" cy="147.5" r="109.5" fill="none" stroke="#d8efe9" stroke-width="13" filter="url(#rblur)"/>
<circle cx="324.7" cy="147.5" r="122" fill="none" stroke="#d8efe9" stroke-width="9" filter="url(#rblur)"/>
<circle cx="324.7" cy="147.5" r="109.5" fill="none" stroke="#f6fbf8" stroke-width="6.5"/>
<circle cx="324.7" cy="147.5" r="122" fill="none" stroke="#f2f9f6" stroke-width="4.5"/>
<circle cx="324.7" cy="147.5" r="109.5" fill="none" stroke="#f0d4a0" stroke-width="1.0" opacity="0.9"/>
<path d="M376.30,152.01 L376.43,150.21 L376.49,148.40 L376.49,146.60 L376.43,144.79 L376.30,142.99 L376.11,141.19 L375.86,139.40 L375.55,137.62 L375.18,135.85 L374.74,134.09 L374.25,132.35 L373.70,130.63 L373.09,128.92 L372.43,127.24 L371.71,125.58 L370.94,123.94 L370.11,122.33 L369.23,120.74 L368.31,119.18 L367.33,117.65 L366.30,116.15 L365.22,114.68 L364.10,113.25 L362.93,111.85 L361.72,110.48 L360.46,109.16 L359.15,107.87 L357.80,106.62 L356.41,105.42 L354.98,104.26 L353.51,103.14 L351.99,102.08 L350.44,101.07 L348.85,100.11 L347.22,99.21 L345.56,98.36 L343.86,97.58 L342.14,96.86 L340.38,96.20 L338.60,95.62 L336.80,95.10 L334.97,94.65 L333.13,94.27 L331.27,93.97 L329.40,93.74 L327.53,93.59 L325.64,93.51 L323.76,93.51 L321.87,93.59 L320.00,93.74 L318.13,93.97 L316.27,94.27 L314.43,94.65 L312.60,95.10 L310.80,95.62 L309.02,96.20 L307.26,96.86 L305.54,97.58 L303.84,98.36 L302.18,99.21 L300.55,100.11 L298.96,101.07 L297.41,102.08 L295.89,103.14 L294.42,104.26 L292.99,105.42 L291.60,106.62 L290.25,107.87 L288.94,109.16 L287.68,110.48 L286.47,111.85 L285.30,113.25 L284.18,114.68 L283.10,116.15 L282.07,117.65 L281.09,119.18 L280.17,120.74 L279.29,122.33 L278.46,123.94 L277.69,125.58 L276.97,127.24 L276.31,128.92 L275.70,130.63 L275.15,132.35 L274.66,134.09 L274.22,135.85 L273.85,137.62 L273.54,139.40 L273.29,141.19 L273.10,142.99 L272.97,144.79 L272.91,146.60 L272.91,148.40 L272.97,150.21 L273.10,152.01" fill="none" stroke="#eaf5f0" stroke-width="2.0" opacity="0.9"/>
<path d="M379.69,152.31 L379.82,150.39 L379.89,148.46 L379.89,146.54 L379.82,144.61 L379.69,142.69 L379.49,140.77 L379.22,138.86 L378.89,136.97 L378.49,135.08 L378.03,133.21 L377.50,131.36 L376.92,129.52 L376.27,127.71 L375.56,125.91 L374.79,124.14 L373.97,122.40 L373.09,120.68 L372.15,118.99 L371.16,117.33 L370.11,115.70 L369.02,114.11 L367.87,112.54 L366.67,111.02 L365.42,109.53 L364.12,108.08 L362.78,106.67 L361.38,105.30 L359.94,103.98 L358.46,102.70 L356.93,101.47 L355.36,100.29 L353.74,99.17 L352.09,98.10 L350.39,97.08 L348.66,96.13 L346.89,95.23 L345.08,94.41 L343.24,93.64 L341.38,92.95 L339.48,92.33 L337.56,91.78 L335.62,91.31 L333.66,90.91 L331.69,90.59 L329.70,90.35 L327.70,90.19 L325.70,90.11 L323.70,90.11 L321.70,90.19 L319.70,90.35 L317.71,90.59 L315.74,90.91 L313.78,91.31 L311.84,91.78 L309.92,92.33 L308.02,92.95 L306.16,93.64 L304.32,94.41 L302.51,95.23 L300.74,96.13 L299.01,97.08 L297.31,98.10 L295.66,99.17 L294.04,100.29 L292.47,101.47 L290.94,102.70 L289.46,103.98 L288.02,105.30 L286.62,106.67 L285.28,108.08 L283.98,109.53 L282.73,111.02 L281.53,112.54 L280.38,114.11 L279.29,115.70 L278.24,117.33 L277.25,118.99 L276.31,120.68 L275.43,122.40 L274.61,124.14 L273.84,125.91 L273.13,127.71 L272.48,129.52 L271.90,131.36 L271.37,133.21 L270.91,135.08 L270.51,136.97 L270.18,138.86 L269.91,140.77 L269.71,142.69 L269.58,144.61 L269.51,146.54 L269.51,148.46 L269.58,150.39 L269.71,152.31" fill="none" stroke="#e4f2ec" stroke-width="1.4" opacity="0.75"/>
<path d="M378.00,152.16 L378.13,150.30 L378.19,148.43 L378.19,146.57 L378.13,144.70 L378.00,142.84 L377.80,140.98 L377.54,139.13 L377.22,137.29 L376.83,135.46 L376.39,133.65 L375.88,131.85 L375.31,130.07 L374.68,128.31 L373.99,126.58 L373.25,124.86 L372.45,123.17 L371.60,121.50 L370.69,119.87 L369.73,118.26 L368.72,116.68 L367.66,115.13 L366.55,113.61 L365.38,112.13 L364.18,110.69 L362.92,109.28 L361.62,107.91 L360.27,106.58 L358.87,105.30 L357.44,104.06 L355.95,102.86 L354.43,101.72 L352.87,100.62 L351.26,99.58 L349.62,98.60 L347.94,97.67 L346.22,96.80 L344.47,95.99 L342.69,95.25 L340.88,94.58 L339.04,93.97 L337.18,93.44 L335.30,92.98 L333.40,92.59 L331.48,92.28 L329.55,92.05 L327.61,91.89 L325.67,91.81 L323.73,91.81 L321.79,91.89 L319.85,92.05 L317.92,92.28 L316.00,92.59 L314.10,92.98 L312.22,93.44 L310.36,93.97 L308.52,94.58 L306.71,95.25 L304.93,95.99 L303.18,96.80 L301.46,97.67 L299.78,98.60 L298.14,99.58 L296.53,100.62 L294.97,101.72 L293.45,102.86 L291.96,104.06 L290.53,105.30 L289.13,106.58 L287.78,107.91 L286.48,109.28 L285.22,110.69 L284.02,112.13 L282.85,113.61 L281.74,115.13 L280.68,116.68 L279.67,118.26 L278.71,119.87 L277.80,121.50 L276.95,123.17 L276.15,124.86 L275.41,126.58 L274.72,128.31 L274.09,130.07 L273.52,131.85 L273.01,133.65 L272.57,135.46 L272.18,137.29 L271.86,139.13 L271.60,140.98 L271.40,142.84 L271.27,144.70 L271.21,146.57 L271.21,148.43 L271.27,150.30 L271.40,152.16" fill="none" stroke="#d9a24e" stroke-width="3.4" opacity="0.9"/>
<path d="M378.00,152.16 L378.13,150.30 L378.19,148.43 L378.19,146.57 L378.13,144.70 L378.00,142.84 L377.80,140.98 L377.54,139.13 L377.22,137.29 L376.83,135.46 L376.39,133.65 L375.88,131.85 L375.31,130.07 L374.68,128.31 L373.99,126.58 L373.25,124.86 L372.45,123.17 L371.60,121.50 L370.69,119.87 L369.73,118.26 L368.72,116.68 L367.66,115.13 L366.55,113.61 L365.38,112.13 L364.18,110.69 L362.92,109.28 L361.62,107.91 L360.27,106.58 L358.87,105.30 L357.44,104.06 L355.95,102.86 L354.43,101.72 L352.87,100.62 L351.26,99.58 L349.62,98.60 L347.94,97.67 L346.22,96.80 L344.47,95.99 L342.69,95.25 L340.88,94.58 L339.04,93.97 L337.18,93.44 L335.30,92.98 L333.40,92.59 L331.48,92.28 L329.55,92.05 L327.61,91.89 L325.67,91.81 L323.73,91.81 L321.79,91.89 L319.85,92.05 L317.92,92.28 L316.00,92.59 L314.10,92.98 L312.22,93.44 L310.36,93.97 L308.52,94.58 L306.71,95.25 L304.93,95.99 L303.18,96.80 L301.46,97.67 L299.78,98.60 L298.14,99.58 L296.53,100.62 L294.97,101.72 L293.45,102.86 L291.96,104.06 L290.53,105.30 L289.13,106.58 L287.78,107.91 L286.48,109.28 L285.22,110.69 L284.02,112.13 L282.85,113.61 L281.74,115.13 L280.68,116.68 L279.67,118.26 L278.71,119.87 L277.80,121.50 L276.95,123.17 L276.15,124.86 L275.41,126.58 L274.72,128.31 L274.09,130.07 L273.52,131.85 L273.01,133.65 L272.57,135.46 L272.18,137.29 L271.86,139.13 L271.60,140.98 L271.40,142.84 L271.27,144.70 L271.21,146.57 L271.21,148.43 L271.27,150.30 L271.40,152.16" fill="none" stroke="#b4701c" stroke-width="1.8"/>
<path d="M292.08,6.00 L293.15,8.29 L294.20,10.58 L295.23,12.88 L296.25,15.17 L297.24,17.46 L298.22,19.75 L299.18,22.04 L300.13,24.33 L301.05,26.62 L301.96,28.92 L302.85,31.21 L303.72,33.50 L304.57,35.79 L305.40,38.08 L306.22,40.38 L307.02,42.67 L307.80,44.96 L308.56,47.25 L309.31,49.54 L310.04,51.83 L310.75,54.12 L311.44,56.42 L312.11,58.71 L312.77,61.00 L313.40,63.29 L314.02,65.58 L314.62,67.88 L315.21,70.17 L315.77,72.46 L316.32,74.75 L316.85,77.04 L317.36,79.33 L317.86,81.62 L318.34,83.92 L318.85,86.21 L319.34,88.50 L319.80,90.79 L320.23,93.08 L320.64,95.38 L321.02,97.67 L321.38,99.96 L321.72,102.25 L322.03,104.54 L322.33,106.83 L322.60,109.12 L322.85,111.42 L323.07,113.71 L323.28,116.00 L323.47,118.29 L323.64,120.58 L323.79,122.88 L323.93,125.17 L323.95,127.46 L323.95,129.75 L323.95,132.04 L323.95,134.33 L323.95,136.62 L323.95,138.92 L323.95,141.21 L323.95,143.50 L324.85,143.50 L324.85,141.21 L324.85,138.92 L324.85,136.62 L324.85,134.33 L324.85,132.04 L324.85,129.75 L324.85,127.46 L324.87,125.17 L325.01,122.88 L325.16,120.58 L325.33,118.29 L325.52,116.00 L325.73,113.71 L325.95,111.42 L326.20,109.12 L326.47,106.83 L326.77,104.54 L327.08,102.25 L327.42,99.96 L327.78,97.67 L328.16,95.38 L328.57,93.08 L329.00,90.79 L329.46,88.50 L329.95,86.21 L330.46,83.92 L330.94,81.62 L331.44,79.33 L331.95,77.04 L332.48,74.75 L333.03,72.46 L333.59,70.17 L334.18,67.88 L334.78,65.58 L335.40,63.29 L336.03,61.00 L336.69,58.71 L337.36,56.42 L338.05,54.12 L338.76,51.83 L339.49,49.54 L340.24,47.25 L341.00,44.96 L341.78,42.67 L342.58,40.38 L343.40,38.08 L344.23,35.79 L345.08,33.50 L345.95,31.21 L346.84,28.92 L347.75,26.62 L348.67,24.33 L349.62,22.04 L350.58,19.75 L351.56,17.46 L352.55,15.17 L353.57,12.88 L354.60,10.58 L355.65,8.29 L356.72,6.00 Z" fill="#03463a"/>
<path d="M275.20,37.00 L279.23,37.00 L283.26,37.00 L287.30,37.00 L291.33,37.00 L295.36,37.01 L299.39,37.02 L303.43,37.03 L307.46,37.04 L311.49,37.06 L315.52,37.08 L319.56,37.11 L323.59,37.14 L327.62,37.19 L331.65,37.23 L335.69,37.29 L339.72,37.35 L343.75,37.42 L347.78,37.50 L351.82,37.59 L355.85,37.69 L359.88,37.80 L363.91,37.92 L367.95,38.05 L371.98,38.20 L376.01,38.35 L380.04,38.52 L384.08,38.71 L388.11,38.91 L392.14,39.12 L396.17,39.35 L400.21,39.59 L404.24,39.86 L408.27,40.13 L412.31,40.43 L416.34,40.74 L420.37,41.08 L424.40,41.43 L428.44,41.80 L432.47,42.19 L436.50,42.60 L436.50,46.20 L432.47,45.79 L428.44,45.40 L424.40,45.03 L420.37,44.68 L416.34,44.34 L412.31,44.03 L408.27,43.73 L404.24,43.46 L400.21,43.19 L396.17,42.95 L392.14,42.72 L388.11,42.51 L384.08,42.31 L380.04,42.12 L376.01,41.95 L371.98,41.80 L367.95,41.65 L363.91,41.52 L359.88,41.40 L355.85,41.29 L351.82,41.19 L347.78,41.10 L343.75,41.02 L339.72,40.95 L335.69,40.89 L331.65,40.83 L327.62,40.79 L323.59,40.74 L319.56,40.71 L315.52,40.68 L311.49,40.66 L307.46,40.64 L303.43,40.63 L299.39,40.62 L295.36,40.61 L291.33,40.60 L287.30,40.60 L283.26,40.60 L279.23,40.60 L275.20,40.60 Z" fill="#03463a"/>
<path d="M275.20,86.90 L279.23,86.90 L283.26,86.91 L287.30,86.92 L291.33,86.93 L295.36,86.95 L299.39,86.97 L303.43,86.99 L307.46,87.02 L311.49,87.06 L315.52,87.10 L319.56,87.14 L323.59,87.18 L327.62,87.23 L331.65,87.29 L335.69,87.35 L339.72,87.41 L343.75,87.48 L347.78,87.55 L351.82,87.62 L355.85,87.70 L359.88,87.78 L363.91,87.87 L367.95,87.96 L371.98,88.06 L376.01,88.16 L380.04,88.26 L384.08,88.37 L388.11,88.48 L392.14,88.60 L396.17,88.72 L400.21,88.84 L404.24,88.97 L408.27,89.10 L412.31,89.24 L416.34,89.38 L420.37,89.52 L424.40,89.67 L428.44,89.82 L432.47,89.98 L436.50,90.14 L436.50,94.34 L432.47,94.18 L428.44,94.02 L424.40,93.87 L420.37,93.72 L416.34,93.58 L412.31,93.44 L408.27,93.30 L404.24,93.17 L400.21,93.04 L396.17,92.92 L392.14,92.80 L388.11,92.68 L384.08,92.57 L380.04,92.46 L376.01,92.36 L371.98,92.26 L367.95,92.16 L363.91,92.07 L359.88,91.98 L355.85,91.90 L351.82,91.82 L347.78,91.75 L343.75,91.68 L339.72,91.61 L335.69,91.55 L331.65,91.49 L327.62,91.43 L323.59,91.38 L319.56,91.34 L315.52,91.30 L311.49,91.26 L307.46,91.22 L303.43,91.19 L299.39,91.17 L295.36,91.15 L291.33,91.13 L287.30,91.12 L283.26,91.11 L279.23,91.10 L275.20,91.10 Z" fill="#03463a"/>
<path d="M390.0,6.6 C389.2,23 384.6,47 384.4,67 L384.1,144.5" fill="none" stroke="#03463a" stroke-width="1.6"/>
<circle cx="324.7" cy="143.5" r="11.5" fill="#d4eee8" opacity="0.8"/>
<circle cx="324.7" cy="143.5" r="10.2" fill="#f2f6ee"/>
<circle cx="324.7" cy="143.5" r="8.2" fill="none" stroke="#b87a26" stroke-width="1.9"/>
<circle cx="324.7" cy="143.5" r="7.0" fill="#03463a"/>
<rect x="323.9" y="131.5" width="1.0" height="6" fill="#03463a"/>
<circle cx="324.7" cy="147.5" r="64.6" fill="none" stroke="#ffffff" stroke-width="1.25" stroke-dasharray="3.8 2.6"/>
<path d="M374.90,147.50 L374.86,145.75 L374.73,144.00 L374.51,142.26 L374.22,140.54 L373.84,138.84 L373.38,137.15 L372.85,135.49 L372.25,133.86 L371.59,132.26 L370.86,130.70 L370.08,129.16 L369.25,127.67 L368.37,126.20 L367.45,124.77 L366.49,123.38 L365.49,122.01 L364.46,120.68 L363.41,119.38 L362.33,118.10 L361.22,116.85 L360.09,115.63 L358.94,114.43 L357.77,113.26 L356.57,112.11 L355.35,110.98 L354.10,109.87 L352.82,108.79 L351.52,107.74 L350.19,106.71 L348.82,105.71 L347.43,104.75 L346.00,103.83 L344.53,102.95 L343.04,102.12 L341.50,101.34 L339.94,100.61 L338.34,99.95 L336.71,99.35 L335.05,98.82 L333.36,98.36 L331.66,97.98 L329.94,97.69 L328.20,97.47 L326.45,97.34 L324.70,97.30 L322.95,97.34 L321.20,97.47 L319.46,97.69 L317.74,97.98 L316.04,98.36 L314.35,98.82 L312.69,99.35 L311.06,99.95 L309.46,100.61 L307.90,101.34 L306.36,102.12 L304.87,102.95 L303.40,103.83 L301.97,104.75 L300.57,105.71 L299.21,106.71 L297.88,107.74 L296.58,108.79 L295.30,109.87 L294.05,110.98 L292.83,112.11 L291.63,113.26 L290.46,114.43 L289.31,115.63 L288.18,116.85 L287.07,118.10 L285.99,119.38 L284.94,120.68 L283.91,122.01 L282.91,123.38 L281.95,124.77 L281.03,126.20 L280.15,127.67 L279.32,129.16 L278.54,130.70 L277.81,132.26 L277.15,133.86 L276.55,135.49 L276.02,137.15 L275.56,138.84 L275.18,140.54 L274.89,142.26 L274.67,144.00 L274.54,145.75 L274.50,147.50" fill="none" stroke="#ffffff" stroke-width="1.25" stroke-dasharray="3.8 2.6"/>
</g>
<rect x="276.2" y="7" width="159.3" height="136.5" fill="none" stroke="#111" stroke-width="1.3"/>
<line x1="272.00" y1="143.50" x2="276.20" y2="143.50" stroke="#111" stroke-width="1.1" />
<text x="271.20" y="147.50" font-size="8.5" text-anchor="end" fill="#1a1a1a" font-weight="normal" stroke="#1a1a1a" stroke-width="0.22" >0.0</text>
<line x1="272.00" y1="116.20" x2="276.20" y2="116.20" stroke="#111" stroke-width="1.1" />
<text x="271.20" y="120.20" font-size="8.5" text-anchor="end" fill="#1a1a1a" font-weight="normal" stroke="#1a1a1a" stroke-width="0.22" >0.5</text>
<line x1="272.00" y1="88.90" x2="276.20" y2="88.90" stroke="#111" stroke-width="1.1" />
<text x="271.20" y="92.90" font-size="8.5" text-anchor="end" fill="#1a1a1a" font-weight="normal" stroke="#1a1a1a" stroke-width="0.22" >1.0</text>
<line x1="272.00" y1="61.60" x2="276.20" y2="61.60" stroke="#111" stroke-width="1.1" />
<text x="271.20" y="65.60" font-size="8.5" text-anchor="end" fill="#1a1a1a" font-weight="normal" stroke="#1a1a1a" stroke-width="0.22" >1.5</text>
<line x1="272.00" y1="34.30" x2="276.20" y2="34.30" stroke="#111" stroke-width="1.1" />
<text x="271.20" y="38.30" font-size="8.5" text-anchor="end" fill="#1a1a1a" font-weight="normal" stroke="#1a1a1a" stroke-width="0.22" >2.0</text>
<line x1="272.00" y1="7.00" x2="276.20" y2="7.00" stroke="#111" stroke-width="1.1" />
<text x="271.20" y="11.00" font-size="8.5" text-anchor="end" fill="#1a1a1a" font-weight="normal" stroke="#1a1a1a" stroke-width="0.22" >2.5</text>
<line x1="296.70" y1="143.50" x2="296.70" y2="148.70" stroke="#111" stroke-width="1.1" />
<text x="296.70" y="162.10" font-size="8.6" text-anchor="middle" fill="#1a1a1a" font-weight="normal" stroke="#1a1a1a" stroke-width="0.22" >-1.0</text>
<line x1="324.20" y1="143.50" x2="324.20" y2="148.70" stroke="#111" stroke-width="1.1" />
<text x="324.20" y="162.10" font-size="8.6" text-anchor="middle" fill="#1a1a1a" font-weight="normal" stroke="#1a1a1a" stroke-width="0.22" >0.0</text>
<line x1="351.70" y1="143.50" x2="351.70" y2="148.70" stroke="#111" stroke-width="1.1" />
<text x="351.70" y="162.10" font-size="8.6" text-anchor="middle" fill="#1a1a1a" font-weight="normal" stroke="#1a1a1a" stroke-width="0.22" >0.5</text>
<line x1="379.20" y1="143.50" x2="379.20" y2="148.70" stroke="#111" stroke-width="1.1" />
<text x="379.20" y="162.10" font-size="8.6" text-anchor="middle" fill="#1a1a1a" font-weight="normal" stroke="#1a1a1a" stroke-width="0.22" >1.0</text>
<line x1="406.70" y1="143.50" x2="406.70" y2="148.70" stroke="#111" stroke-width="1.1" />
<text x="406.70" y="162.10" font-size="8.6" text-anchor="middle" fill="#1a1a1a" font-weight="normal" stroke="#1a1a1a" stroke-width="0.22" >1.5</text>
<line x1="434.20" y1="143.50" x2="434.20" y2="148.70" stroke="#111" stroke-width="1.1" />
<text x="434.20" y="162.10" font-size="8.6" text-anchor="middle" fill="#1a1a1a" font-weight="normal" stroke="#1a1a1a" stroke-width="0.22" >2.0</text>
<text x="431.30" y="21.90" font-size="10.2" text-anchor="end" fill="#1a1a1a" font-weight="normal" stroke="#1a1a1a" stroke-width="0.22" >OA</text>
<text x="0" y="0" font-size="9.6" text-anchor="middle" fill="#1a1a1a" stroke="#1a1a1a" stroke-width="0.22" transform="translate(250.20,76.75) rotate(-90)"><tspan font-style="italic">q</tspan><tspan font-size="6.8" dy="1.8" font-style="italic">z</tspan><tspan dy="-1.8"> (Å</tspan><tspan font-size="6.5" dy="-3">-1</tspan><tspan dy="3">)</tspan></text>
<text x="358.5" y="175.00" font-size="9" text-anchor="middle" fill="#1a1a1a" stroke="#1a1a1a" stroke-width="0.22"><tspan font-style="italic">q</tspan><tspan font-size="6.5" dy="1.8" font-style="italic">xy</tspan><tspan dy="-1.8"> (Å</tspan><tspan font-size="6.5" dy="-3">-1</tspan><tspan dy="3">)</tspan></text>
<g clip-path="url(#sclipd)">
<rect x="462.5" y="14.6" width="33.19999999999999" height="129.1" fill="url(#sgd)"/>
<rect x="478.3" y="16.4" width="8.5" height="125.89999999999999" rx="4" fill="url(#shd)"/>
<rect x="461.5" y="76.14999999999999" width="35.19999999999999" height="6" fill="#03463a"/>
<circle cx="501" cy="79.14999999999999" r="17" fill="none" stroke="#03463a" stroke-width="6"/>
<circle cx="503" cy="149.7" r="11" fill="none" stroke="#03463a" stroke-width="5"/>
</g>
<rect x="462.5" y="14.6" width="33.19999999999999" height="129.1" fill="none" stroke="#111" stroke-width="1.3"/>
<line x1="458.90" y1="14.60" x2="462.50" y2="14.60" stroke="#111" stroke-width="1.1" />
<text x="459.20" y="17.70" font-size="8.7" text-anchor="end" fill="#1a1a1a" font-weight="normal" stroke="#1a1a1a" stroke-width="0.22" >-90</text>
<line x1="458.90" y1="46.88" x2="462.50" y2="46.88" stroke="#111" stroke-width="1.1" />
<text x="459.20" y="49.98" font-size="8.7" text-anchor="end" fill="#1a1a1a" font-weight="normal" stroke="#1a1a1a" stroke-width="0.22" >-45</text>
<line x1="458.90" y1="79.15" x2="462.50" y2="79.15" stroke="#111" stroke-width="1.1" />
<text x="459.20" y="82.25" font-size="8.7" text-anchor="end" fill="#1a1a1a" font-weight="normal" stroke="#1a1a1a" stroke-width="0.22" >0</text>
<line x1="458.90" y1="111.42" x2="462.50" y2="111.42" stroke="#111" stroke-width="1.1" />
<text x="459.20" y="114.52" font-size="8.7" text-anchor="end" fill="#1a1a1a" font-weight="normal" stroke="#1a1a1a" stroke-width="0.22" >45</text>
<line x1="458.90" y1="143.70" x2="462.50" y2="143.70" stroke="#111" stroke-width="1.1" />
<text x="459.20" y="146.80" font-size="8.7" text-anchor="end" fill="#1a1a1a" font-weight="normal" stroke="#1a1a1a" stroke-width="0.22" >90</text>
<line x1="484.70" y1="143.70" x2="484.70" y2="147.70" stroke="#111" stroke-width="1.1" />
<text x="485.00" y="162.30" font-size="9.0" text-anchor="middle" fill="#1a1a1a" font-weight="normal" stroke="#1a1a1a" stroke-width="0.22" >1.0</text>
<text x="479.20" y="11.30" font-size="8.6" text-anchor="middle" fill="#1a1a1a" font-weight="normal" stroke="#1a1a1a" stroke-width="0.22" >(100)</text>
<text x="0" y="0" font-size="9" text-anchor="middle" fill="#1a1a1a" stroke="#1a1a1a" stroke-width="0.22" transform="translate(448.80,79.15) rotate(-90)"><tspan font-style="italic">χ</tspan> (deg)</text>
<text x="484" y="174.20" font-size="8.6" text-anchor="middle" fill="#1a1a1a" stroke="#1a1a1a" stroke-width="0.22"><tspan font-style="italic">q</tspan><tspan font-size="6" dy="1.8" font-style="italic">xy</tspan><tspan dy="-1.8"> (Å</tspan><tspan font-size="6" dy="-3">-1</tspan><tspan dy="3">)</tspan></text>
<g clip-path="url(#clipe)">
<rect x="276.2" y="185.6" width="159.3" height="136.50000000000003" fill="url(#rge)"/>
<rect x="276.2" y="185.6" width="159.3" height="136.50000000000003" filter="url(#grain)" opacity="0.10"/>
<circle cx="324.7" cy="326.1" r="109.5" fill="none" stroke="#d8efe9" stroke-width="13" filter="url(#rblur)"/>
<circle cx="324.7" cy="326.1" r="122" fill="none" stroke="#d8efe9" stroke-width="9" filter="url(#rblur)"/>
<circle cx="324.7" cy="326.1" r="109.5" fill="none" stroke="#f6fbf8" stroke-width="6.5"/>
<circle cx="324.7" cy="326.1" r="122" fill="none" stroke="#f2f9f6" stroke-width="4.5"/>
<circle cx="324.7" cy="326.1" r="109.5" fill="none" stroke="#e4c088" stroke-width="1.0" opacity="0.9"/>
<path d="M376.30,330.61 L376.43,328.81 L376.49,327.00 L376.49,325.20 L376.43,323.39 L376.30,321.59 L376.11,319.79 L375.86,318.00 L375.55,316.22 L375.18,314.45 L374.74,312.69 L374.25,310.95 L373.70,309.23 L373.09,307.52 L372.43,305.84 L371.71,304.18 L370.94,302.54 L370.11,300.93 L369.23,299.34 L368.31,297.78 L367.33,296.25 L366.30,294.75 L365.22,293.28 L364.10,291.85 L362.93,290.45 L361.72,289.08 L360.46,287.76 L359.15,286.47 L357.80,285.22 L356.41,284.02 L354.98,282.86 L353.51,281.74 L351.99,280.68 L350.44,279.67 L348.85,278.71 L347.22,277.81 L345.56,276.96 L343.86,276.18 L342.14,275.46 L340.38,274.80 L338.60,274.22 L336.80,273.70 L334.97,273.25 L333.13,272.87 L331.27,272.57 L329.40,272.34 L327.53,272.19 L325.64,272.11 L323.76,272.11 L321.87,272.19 L320.00,272.34 L318.13,272.57 L316.27,272.87 L314.43,273.25 L312.60,273.70 L310.80,274.22 L309.02,274.80 L307.26,275.46 L305.54,276.18 L303.84,276.96 L302.18,277.81 L300.55,278.71 L298.96,279.67 L297.41,280.68 L295.89,281.74 L294.42,282.86 L292.99,284.02 L291.60,285.22 L290.25,286.47 L288.94,287.76 L287.68,289.08 L286.47,290.45 L285.30,291.85 L284.18,293.28 L283.10,294.75 L282.07,296.25 L281.09,297.78 L280.17,299.34 L279.29,300.93 L278.46,302.54 L277.69,304.18 L276.97,305.84 L276.31,307.52 L275.70,309.23 L275.15,310.95 L274.66,312.69 L274.22,314.45 L273.85,316.22 L273.54,318.00 L273.29,319.79 L273.10,321.59 L272.97,323.39 L272.91,325.20 L272.91,327.00 L272.97,328.81 L273.10,330.61" fill="none" stroke="#eaf5f0" stroke-width="2.0" opacity="0.9"/>
<path d="M379.69,330.91 L379.82,328.99 L379.89,327.06 L379.89,325.14 L379.82,323.21 L379.69,321.29 L379.49,319.37 L379.22,317.46 L378.89,315.57 L378.49,313.68 L378.03,311.81 L377.50,309.96 L376.92,308.12 L376.27,306.31 L375.56,304.51 L374.79,302.74 L373.97,301.00 L373.09,299.28 L372.15,297.59 L371.16,295.93 L370.11,294.30 L369.02,292.71 L367.87,291.14 L366.67,289.62 L365.42,288.13 L364.12,286.68 L362.78,285.27 L361.38,283.90 L359.94,282.58 L358.46,281.30 L356.93,280.07 L355.36,278.89 L353.74,277.77 L352.09,276.70 L350.39,275.68 L348.66,274.73 L346.89,273.83 L345.08,273.01 L343.24,272.24 L341.38,271.55 L339.48,270.93 L337.56,270.38 L335.62,269.91 L333.66,269.51 L331.69,269.19 L329.70,268.95 L327.70,268.79 L325.70,268.71 L323.70,268.71 L321.70,268.79 L319.70,268.95 L317.71,269.19 L315.74,269.51 L313.78,269.91 L311.84,270.38 L309.92,270.93 L308.02,271.55 L306.16,272.24 L304.32,273.01 L302.51,273.83 L300.74,274.73 L299.01,275.68 L297.31,276.70 L295.66,277.77 L294.04,278.89 L292.47,280.07 L290.94,281.30 L289.46,282.58 L288.02,283.90 L286.62,285.27 L285.28,286.68 L283.98,288.13 L282.73,289.62 L281.53,291.14 L280.38,292.71 L279.29,294.30 L278.24,295.93 L277.25,297.59 L276.31,299.28 L275.43,301.00 L274.61,302.74 L273.84,304.51 L273.13,306.31 L272.48,308.12 L271.90,309.96 L271.37,311.81 L270.91,313.68 L270.51,315.57 L270.18,317.46 L269.91,319.37 L269.71,321.29 L269.58,323.21 L269.51,325.14 L269.51,327.06 L269.58,328.99 L269.71,330.91" fill="none" stroke="#e4f2ec" stroke-width="1.4" opacity="0.75"/>
<line x1="378.20" y1="326.10" x2="378.16" y2="324.05" stroke="#b06a1a" stroke-width="2.3"/>
<line x1="378.17" y1="324.23" x2="378.06" y2="322.18" stroke="#b06a1a" stroke-width="2.3"/>
<line x1="378.07" y1="322.37" x2="377.89" y2="320.32" stroke="#b06a1a" stroke-width="2.3"/>
<line x1="377.91" y1="320.51" x2="377.65" y2="318.47" stroke="#b06a1a" stroke-width="2.3"/>
<line x1="377.68" y1="318.65" x2="377.36" y2="316.63" stroke="#b06a1a" stroke-width="2.3"/>
<line x1="377.39" y1="316.81" x2="377.00" y2="314.79" stroke="#b06a1a" stroke-width="2.3"/>
<line x1="377.03" y1="314.98" x2="376.57" y2="312.97" stroke="#b06a1a" stroke-width="2.3"/>
<line x1="376.62" y1="313.16" x2="376.09" y2="311.17" stroke="#b06a1a" stroke-width="2.3"/>
<line x1="376.14" y1="311.35" x2="375.54" y2="309.38" stroke="#b06a1a" stroke-width="2.3"/>
<line x1="375.60" y1="309.56" x2="374.94" y2="307.62" stroke="#b06a1a" stroke-width="2.3"/>
<line x1="375.00" y1="307.79" x2="374.28" y2="305.87" stroke="#b06a1a" stroke-width="2.3"/>
<line x1="374.34" y1="306.04" x2="373.56" y2="304.14" stroke="#b36f22" stroke-width="2.3"/>
<line x1="373.63" y1="304.32" x2="372.78" y2="302.44" stroke="#b97b32" stroke-width="2.3"/>
<line x1="372.86" y1="302.61" x2="371.95" y2="300.77" stroke="#bf8642" stroke-width="2.3"/>
<line x1="372.03" y1="300.93" x2="371.06" y2="299.12" stroke="#c59252" stroke-width="2.3"/>
<line x1="371.15" y1="299.28" x2="370.12" y2="297.50" stroke="#cb9d62" stroke-width="2.3"/>
<line x1="370.22" y1="297.66" x2="369.13" y2="295.91" stroke="#d1a972" stroke-width="2.3"/>
<line x1="369.23" y1="296.06" x2="368.09" y2="294.34" stroke="#d7b482" stroke-width="2.3"/>
<line x1="368.19" y1="294.50" x2="367.00" y2="292.82" stroke="#ddc092" stroke-width="2.3"/>
<line x1="367.11" y1="292.97" x2="365.85" y2="291.32" stroke="#e3cba2" stroke-width="2.3"/>
<line x1="365.97" y1="291.47" x2="364.66" y2="289.86" stroke="#e6d1aa" stroke-width="2.3"/>
<line x1="364.79" y1="290.01" x2="363.43" y2="288.44" stroke="#e6d1aa" stroke-width="2.3"/>
<line x1="363.55" y1="288.58" x2="362.14" y2="287.05" stroke="#e6d1aa" stroke-width="2.3"/>
<line x1="362.27" y1="287.19" x2="360.81" y2="285.71" stroke="#e6d1aa" stroke-width="2.3"/>
<line x1="360.95" y1="285.84" x2="359.44" y2="284.41" stroke="#e6d1aa" stroke-width="2.3"/>
<line x1="359.58" y1="284.54" x2="358.02" y2="283.15" stroke="#e6d1aa" stroke-width="2.3"/>
<line x1="358.16" y1="283.27" x2="356.55" y2="281.94" stroke="#e6d1aa" stroke-width="2.3"/>
<line x1="356.70" y1="282.06" x2="355.05" y2="280.77" stroke="#e6d1aa" stroke-width="2.3"/>
<line x1="355.20" y1="280.88" x2="353.50" y2="279.66" stroke="#e6d1aa" stroke-width="2.3"/>
<line x1="353.65" y1="279.76" x2="351.91" y2="278.59" stroke="#e6d1aa" stroke-width="2.3"/>
<line x1="352.07" y1="278.70" x2="350.28" y2="277.58" stroke="#e6d1aa" stroke-width="2.3"/>
<line x1="350.44" y1="277.68" x2="348.61" y2="276.63" stroke="#e1c99e" stroke-width="2.3"/>
<line x1="348.78" y1="276.72" x2="346.91" y2="275.74" stroke="#d8b786" stroke-width="2.3"/>
<line x1="347.08" y1="275.83" x2="345.18" y2="274.91" stroke="#cfa66e" stroke-width="2.3"/>
<line x1="345.35" y1="274.99" x2="343.41" y2="274.14" stroke="#c69556" stroke-width="2.3"/>
<line x1="343.58" y1="274.21" x2="341.61" y2="273.44" stroke="#bd833e" stroke-width="2.3"/>
<line x1="341.79" y1="273.51" x2="339.78" y2="272.81" stroke="#b47226" stroke-width="2.3"/>
<line x1="339.96" y1="272.87" x2="337.93" y2="272.24" stroke="#b06a1a" stroke-width="2.3"/>
<line x1="338.11" y1="272.30" x2="336.05" y2="271.75" stroke="#b06a1a" stroke-width="2.3"/>
<line x1="336.24" y1="271.80" x2="334.16" y2="271.34" stroke="#b06a1a" stroke-width="2.3"/>
<line x1="334.35" y1="271.37" x2="332.25" y2="270.99" stroke="#b06a1a" stroke-width="2.3"/>
<line x1="332.44" y1="271.03" x2="330.32" y2="270.73" stroke="#b06a1a" stroke-width="2.3"/>
<line x1="330.52" y1="270.75" x2="328.39" y2="270.54" stroke="#b06a1a" stroke-width="2.3"/>
<line x1="328.58" y1="270.56" x2="326.45" y2="270.43" stroke="#b06a1a" stroke-width="2.3"/>
<line x1="326.64" y1="270.44" x2="324.51" y2="270.40" stroke="#b06a1a" stroke-width="2.3"/>
<line x1="324.70" y1="270.40" x2="322.56" y2="270.45" stroke="#b06a1a" stroke-width="2.3"/>
<line x1="322.76" y1="270.44" x2="320.62" y2="270.57" stroke="#b06a1a" stroke-width="2.3"/>
<line x1="320.82" y1="270.56" x2="318.69" y2="270.78" stroke="#b06a1a" stroke-width="2.3"/>
<line x1="318.88" y1="270.75" x2="316.77" y2="271.06" stroke="#b06a1a" stroke-width="2.3"/>
<line x1="316.96" y1="271.03" x2="314.86" y2="271.41" stroke="#b06a1a" stroke-width="2.3"/>
<line x1="315.05" y1="271.37" x2="312.97" y2="271.85" stroke="#b06a1a" stroke-width="2.3"/>
<line x1="313.16" y1="271.80" x2="311.10" y2="272.35" stroke="#b06a1a" stroke-width="2.3"/>
<line x1="311.29" y1="272.30" x2="309.25" y2="272.93" stroke="#b06a1a" stroke-width="2.3"/>
<line x1="309.44" y1="272.87" x2="307.43" y2="273.57" stroke="#b47226" stroke-width="2.3"/>
<line x1="307.61" y1="273.51" x2="305.64" y2="274.29" stroke="#bd833e" stroke-width="2.3"/>
<line x1="305.82" y1="274.21" x2="303.87" y2="275.07" stroke="#c69556" stroke-width="2.3"/>
<line x1="304.05" y1="274.99" x2="302.14" y2="275.91" stroke="#cfa66e" stroke-width="2.3"/>
<line x1="302.32" y1="275.83" x2="300.45" y2="276.82" stroke="#d8b786" stroke-width="2.3"/>
<line x1="300.62" y1="276.72" x2="298.79" y2="277.78" stroke="#e1c99e" stroke-width="2.3"/>
<line x1="298.96" y1="277.68" x2="297.17" y2="278.80" stroke="#e6d1aa" stroke-width="2.3"/>
<line x1="297.33" y1="278.70" x2="295.59" y2="279.87" stroke="#e6d1aa" stroke-width="2.3"/>
<line x1="295.75" y1="279.76" x2="294.05" y2="281.00" stroke="#e6d1aa" stroke-width="2.3"/>
<line x1="294.20" y1="280.88" x2="292.55" y2="282.17" stroke="#e6d1aa" stroke-width="2.3"/>
<line x1="292.70" y1="282.06" x2="291.10" y2="283.40" stroke="#e6d1aa" stroke-width="2.3"/>
<line x1="291.24" y1="283.27" x2="289.68" y2="284.67" stroke="#e6d1aa" stroke-width="2.3"/>
<line x1="289.82" y1="284.54" x2="288.32" y2="285.98" stroke="#e6d1aa" stroke-width="2.3"/>
<line x1="288.45" y1="285.84" x2="287.00" y2="287.33" stroke="#e6d1aa" stroke-width="2.3"/>
<line x1="287.13" y1="287.19" x2="285.72" y2="288.72" stroke="#e6d1aa" stroke-width="2.3"/>
<line x1="285.85" y1="288.58" x2="284.49" y2="290.15" stroke="#e6d1aa" stroke-width="2.3"/>
<line x1="284.61" y1="290.01" x2="283.31" y2="291.62" stroke="#e6d1aa" stroke-width="2.3"/>
<line x1="283.43" y1="291.47" x2="282.18" y2="293.12" stroke="#e3cba2" stroke-width="2.3"/>
<line x1="282.29" y1="292.97" x2="281.10" y2="294.65" stroke="#ddc092" stroke-width="2.3"/>
<line x1="281.21" y1="294.50" x2="280.07" y2="296.22" stroke="#d7b482" stroke-width="2.3"/>
<line x1="280.17" y1="296.06" x2="279.09" y2="297.82" stroke="#d1a972" stroke-width="2.3"/>
<line x1="279.18" y1="297.66" x2="278.16" y2="299.45" stroke="#cb9d62" stroke-width="2.3"/>
<line x1="278.25" y1="299.28" x2="277.28" y2="301.10" stroke="#c59252" stroke-width="2.3"/>
<line x1="277.37" y1="300.93" x2="276.46" y2="302.78" stroke="#bf8642" stroke-width="2.3"/>
<line x1="276.54" y1="302.61" x2="275.70" y2="304.49" stroke="#b97b32" stroke-width="2.3"/>
<line x1="275.77" y1="304.32" x2="274.99" y2="306.22" stroke="#b36f22" stroke-width="2.3"/>
<line x1="275.06" y1="306.04" x2="274.34" y2="307.97" stroke="#b06a1a" stroke-width="2.3"/>
<line x1="274.40" y1="307.79" x2="273.74" y2="309.74" stroke="#b06a1a" stroke-width="2.3"/>
<line x1="273.80" y1="309.56" x2="273.21" y2="311.53" stroke="#b06a1a" stroke-width="2.3"/>
<line x1="273.26" y1="311.35" x2="272.74" y2="313.34" stroke="#b06a1a" stroke-width="2.3"/>
<line x1="272.78" y1="313.16" x2="272.33" y2="315.16" stroke="#b06a1a" stroke-width="2.3"/>
<line x1="272.37" y1="314.98" x2="271.98" y2="316.99" stroke="#b06a1a" stroke-width="2.3"/>
<line x1="272.01" y1="316.81" x2="271.69" y2="318.84" stroke="#b06a1a" stroke-width="2.3"/>
<line x1="271.72" y1="318.65" x2="271.47" y2="320.69" stroke="#b06a1a" stroke-width="2.3"/>
<line x1="271.49" y1="320.51" x2="271.32" y2="322.55" stroke="#b06a1a" stroke-width="2.3"/>
<line x1="271.33" y1="322.37" x2="271.23" y2="324.42" stroke="#b06a1a" stroke-width="2.3"/>
<line x1="271.23" y1="324.23" x2="271.20" y2="326.29" stroke="#b06a1a" stroke-width="2.3"/>
<path d="M292.08,184.60 L293.15,186.89 L294.20,189.18 L295.23,191.47 L296.25,193.77 L297.24,196.06 L298.22,198.35 L299.18,200.64 L300.13,202.93 L301.05,205.23 L301.96,207.52 L302.85,209.81 L303.72,212.10 L304.57,214.39 L305.40,216.68 L306.22,218.97 L307.02,221.27 L307.80,223.56 L308.56,225.85 L309.31,228.14 L310.04,230.43 L310.75,232.72 L311.44,235.02 L312.11,237.31 L312.77,239.60 L313.40,241.89 L314.02,244.18 L314.62,246.47 L315.21,248.77 L315.77,251.06 L316.32,253.35 L316.85,255.64 L317.36,257.93 L317.86,260.23 L318.34,262.52 L318.85,264.81 L319.34,267.10 L319.80,269.39 L320.23,271.68 L320.64,273.98 L321.02,276.27 L321.38,278.56 L321.72,280.85 L322.03,283.14 L322.33,285.43 L322.60,287.73 L322.85,290.02 L323.07,292.31 L323.28,294.60 L323.47,296.89 L323.64,299.18 L323.79,301.48 L323.93,303.77 L323.95,306.06 L323.95,308.35 L323.95,310.64 L323.95,312.93 L323.95,315.23 L323.95,317.52 L323.95,319.81 L323.95,322.10 L324.85,322.10 L324.85,319.81 L324.85,317.52 L324.85,315.23 L324.85,312.93 L324.85,310.64 L324.85,308.35 L324.85,306.06 L324.87,303.77 L325.01,301.48 L325.16,299.18 L325.33,296.89 L325.52,294.60 L325.73,292.31 L325.95,290.02 L326.20,287.73 L326.47,285.43 L326.77,283.14 L327.08,280.85 L327.42,278.56 L327.78,276.27 L328.16,273.98 L328.57,271.68 L329.00,269.39 L329.46,267.10 L329.95,264.81 L330.46,262.52 L330.94,260.23 L331.44,257.93 L331.95,255.64 L332.48,253.35 L333.03,251.06 L333.59,248.77 L334.18,246.47 L334.78,244.18 L335.40,241.89 L336.03,239.60 L336.69,237.31 L337.36,235.02 L338.05,232.72 L338.76,230.43 L339.49,228.14 L340.24,225.85 L341.00,223.56 L341.78,221.27 L342.58,218.97 L343.40,216.68 L344.23,214.39 L345.08,212.10 L345.95,209.81 L346.84,207.52 L347.75,205.23 L348.67,202.93 L349.62,200.64 L350.58,198.35 L351.56,196.06 L352.55,193.77 L353.57,191.47 L354.60,189.18 L355.65,186.89 L356.72,184.60 Z" fill="#03463a"/>
<path d="M275.20,215.60 L279.23,215.60 L283.26,215.60 L287.30,215.60 L291.33,215.60 L295.36,215.61 L299.39,215.62 L303.43,215.63 L307.46,215.64 L311.49,215.66 L315.52,215.68 L319.56,215.71 L323.59,215.74 L327.62,215.79 L331.65,215.83 L335.69,215.89 L339.72,215.95 L343.75,216.02 L347.78,216.10 L351.82,216.19 L355.85,216.29 L359.88,216.40 L363.91,216.52 L367.95,216.65 L371.98,216.80 L376.01,216.95 L380.04,217.12 L384.08,217.31 L388.11,217.51 L392.14,217.72 L396.17,217.95 L400.21,218.19 L404.24,218.46 L408.27,218.73 L412.31,219.03 L416.34,219.34 L420.37,219.68 L424.40,220.03 L428.44,220.40 L432.47,220.79 L436.50,221.20 L436.50,224.80 L432.47,224.39 L428.44,224.00 L424.40,223.63 L420.37,223.28 L416.34,222.94 L412.31,222.63 L408.27,222.33 L404.24,222.06 L400.21,221.79 L396.17,221.55 L392.14,221.32 L388.11,221.11 L384.08,220.91 L380.04,220.72 L376.01,220.55 L371.98,220.40 L367.95,220.25 L363.91,220.12 L359.88,220.00 L355.85,219.89 L351.82,219.79 L347.78,219.70 L343.75,219.62 L339.72,219.55 L335.69,219.49 L331.65,219.43 L327.62,219.39 L323.59,219.34 L319.56,219.31 L315.52,219.28 L311.49,219.26 L307.46,219.24 L303.43,219.23 L299.39,219.22 L295.36,219.21 L291.33,219.20 L287.30,219.20 L283.26,219.20 L279.23,219.20 L275.20,219.20 Z" fill="#03463a"/>
<path d="M275.20,265.50 L279.23,265.50 L283.26,265.51 L287.30,265.52 L291.33,265.53 L295.36,265.55 L299.39,265.57 L303.43,265.59 L307.46,265.62 L311.49,265.66 L315.52,265.70 L319.56,265.74 L323.59,265.78 L327.62,265.83 L331.65,265.89 L335.69,265.95 L339.72,266.01 L343.75,266.08 L347.78,266.15 L351.82,266.22 L355.85,266.30 L359.88,266.38 L363.91,266.47 L367.95,266.56 L371.98,266.66 L376.01,266.76 L380.04,266.86 L384.08,266.97 L388.11,267.08 L392.14,267.20 L396.17,267.32 L400.21,267.44 L404.24,267.57 L408.27,267.70 L412.31,267.84 L416.34,267.98 L420.37,268.12 L424.40,268.27 L428.44,268.42 L432.47,268.58 L436.50,268.74 L436.50,272.94 L432.47,272.78 L428.44,272.62 L424.40,272.47 L420.37,272.32 L416.34,272.18 L412.31,272.04 L408.27,271.90 L404.24,271.77 L400.21,271.64 L396.17,271.52 L392.14,271.40 L388.11,271.28 L384.08,271.17 L380.04,271.06 L376.01,270.96 L371.98,270.86 L367.95,270.76 L363.91,270.67 L359.88,270.58 L355.85,270.50 L351.82,270.42 L347.78,270.35 L343.75,270.28 L339.72,270.21 L335.69,270.15 L331.65,270.09 L327.62,270.03 L323.59,269.98 L319.56,269.94 L315.52,269.90 L311.49,269.86 L307.46,269.82 L303.43,269.79 L299.39,269.77 L295.36,269.75 L291.33,269.73 L287.30,269.72 L283.26,269.71 L279.23,269.70 L275.20,269.70 Z" fill="#03463a"/>
<path d="M389.1,185.2 C388.3,201.6 383.70000000000005,225.6 383.5,245.6 L383.20000000000005,323.1" fill="none" stroke="#03463a" stroke-width="1.6"/>
<circle cx="324.7" cy="322.1" r="11.5" fill="#d4eee8" opacity="0.8"/>
<circle cx="324.7" cy="322.1" r="10.2" fill="#f2f6ee"/>
<circle cx="324.7" cy="322.1" r="8.2" fill="none" stroke="#b87a26" stroke-width="1.9"/>
<circle cx="324.7" cy="322.1" r="7.0" fill="#03463a"/>
<rect x="323.9" y="310.1" width="1.0" height="6" fill="#03463a"/>
<circle cx="324.7" cy="326.1" r="64.6" fill="none" stroke="#ffffff" stroke-width="1.25" stroke-dasharray="3.8 2.6"/>
<path d="M374.90,326.10 L374.86,324.35 L374.73,322.60 L374.51,320.86 L374.22,319.14 L373.84,317.44 L373.38,315.75 L372.85,314.09 L372.25,312.46 L371.59,310.86 L370.86,309.30 L370.08,307.76 L369.25,306.27 L368.37,304.80 L367.45,303.37 L366.49,301.98 L365.49,300.61 L364.46,299.28 L363.41,297.98 L362.33,296.70 L361.22,295.45 L360.09,294.23 L358.94,293.03 L357.77,291.86 L356.57,290.71 L355.35,289.58 L354.10,288.47 L352.82,287.39 L351.52,286.34 L350.19,285.31 L348.82,284.31 L347.43,283.35 L346.00,282.43 L344.53,281.55 L343.04,280.72 L341.50,279.94 L339.94,279.21 L338.34,278.55 L336.71,277.95 L335.05,277.42 L333.36,276.96 L331.66,276.58 L329.94,276.29 L328.20,276.07 L326.45,275.94 L324.70,275.90 L322.95,275.94 L321.20,276.07 L319.46,276.29 L317.74,276.58 L316.04,276.96 L314.35,277.42 L312.69,277.95 L311.06,278.55 L309.46,279.21 L307.90,279.94 L306.36,280.72 L304.87,281.55 L303.40,282.43 L301.97,283.35 L300.57,284.31 L299.21,285.31 L297.88,286.34 L296.58,287.39 L295.30,288.47 L294.05,289.58 L292.83,290.71 L291.63,291.86 L290.46,293.03 L289.31,294.23 L288.18,295.45 L287.07,296.70 L285.99,297.98 L284.94,299.28 L283.91,300.61 L282.91,301.98 L281.95,303.37 L281.03,304.80 L280.15,306.27 L279.32,307.76 L278.54,309.30 L277.81,310.86 L277.15,312.46 L276.55,314.09 L276.02,315.75 L275.56,317.44 L275.18,319.14 L274.89,320.86 L274.67,322.60 L274.54,324.35 L274.50,326.10" fill="none" stroke="#ffffff" stroke-width="1.25" stroke-dasharray="3.8 2.6"/>
</g>
<rect x="276.2" y="185.6" width="159.3" height="136.50000000000003" fill="none" stroke="#111" stroke-width="1.3"/>
<line x1="272.00" y1="322.10" x2="276.20" y2="322.10" stroke="#111" stroke-width="1.1" />
<text x="271.20" y="326.10" font-size="8.5" text-anchor="end" fill="#1a1a1a" font-weight="normal" stroke="#1a1a1a" stroke-width="0.22" >0.0</text>
<line x1="272.00" y1="294.80" x2="276.20" y2="294.80" stroke="#111" stroke-width="1.1" />
<text x="271.20" y="298.80" font-size="8.5" text-anchor="end" fill="#1a1a1a" font-weight="normal" stroke="#1a1a1a" stroke-width="0.22" >0.5</text>
<line x1="272.00" y1="267.50" x2="276.20" y2="267.50" stroke="#111" stroke-width="1.1" />
<text x="271.20" y="271.50" font-size="8.5" text-anchor="end" fill="#1a1a1a" font-weight="normal" stroke="#1a1a1a" stroke-width="0.22" >1.0</text>
<line x1="272.00" y1="240.20" x2="276.20" y2="240.20" stroke="#111" stroke-width="1.1" />
<text x="271.20" y="244.20" font-size="8.5" text-anchor="end" fill="#1a1a1a" font-weight="normal" stroke="#1a1a1a" stroke-width="0.22" >1.5</text>
<line x1="272.00" y1="212.90" x2="276.20" y2="212.90" stroke="#111" stroke-width="1.1" />
<text x="271.20" y="216.90" font-size="8.5" text-anchor="end" fill="#1a1a1a" font-weight="normal" stroke="#1a1a1a" stroke-width="0.22" >2.0</text>
<line x1="272.00" y1="185.60" x2="276.20" y2="185.60" stroke="#111" stroke-width="1.1" />
<text x="271.20" y="189.60" font-size="8.5" text-anchor="end" fill="#1a1a1a" font-weight="normal" stroke="#1a1a1a" stroke-width="0.22" >2.5</text>
<line x1="296.70" y1="322.10" x2="296.70" y2="327.30" stroke="#111" stroke-width="1.1" />
<text x="296.70" y="340.70" font-size="8.6" text-anchor="middle" fill="#1a1a1a" font-weight="normal" stroke="#1a1a1a" stroke-width="0.22" >-1.0</text>
<line x1="324.20" y1="322.10" x2="324.20" y2="327.30" stroke="#111" stroke-width="1.1" />
<text x="324.20" y="340.70" font-size="8.6" text-anchor="middle" fill="#1a1a1a" font-weight="normal" stroke="#1a1a1a" stroke-width="0.22" >0.0</text>
<line x1="351.70" y1="322.10" x2="351.70" y2="327.30" stroke="#111" stroke-width="1.1" />
<text x="351.70" y="340.70" font-size="8.6" text-anchor="middle" fill="#1a1a1a" font-weight="normal" stroke="#1a1a1a" stroke-width="0.22" >0.5</text>
<line x1="379.20" y1="322.10" x2="379.20" y2="327.30" stroke="#111" stroke-width="1.1" />
<text x="379.20" y="340.70" font-size="8.6" text-anchor="middle" fill="#1a1a1a" font-weight="normal" stroke="#1a1a1a" stroke-width="0.22" >1.0</text>
<line x1="406.70" y1="322.10" x2="406.70" y2="327.30" stroke="#111" stroke-width="1.1" />
<text x="406.70" y="340.70" font-size="8.6" text-anchor="middle" fill="#1a1a1a" font-weight="normal" stroke="#1a1a1a" stroke-width="0.22" >1.5</text>
<line x1="434.20" y1="322.10" x2="434.20" y2="327.30" stroke="#111" stroke-width="1.1" />
<text x="434.20" y="340.70" font-size="8.6" text-anchor="middle" fill="#1a1a1a" font-weight="normal" stroke="#1a1a1a" stroke-width="0.22" >2.0</text>
<text x="431.30" y="197.20" font-size="10.2" text-anchor="end" fill="#1a1a1a" font-weight="normal" stroke="#1a1a1a" stroke-width="0.22" >DEHP</text>
<text x="0" y="0" font-size="9.6" text-anchor="middle" fill="#1a1a1a" stroke="#1a1a1a" stroke-width="0.22" transform="translate(250.20,255.35) rotate(-90)"><tspan font-style="italic">q</tspan><tspan font-size="6.8" dy="1.8" font-style="italic">z</tspan><tspan dy="-1.8"> (Å</tspan><tspan font-size="6.5" dy="-3">-1</tspan><tspan dy="3">)</tspan></text>
<text x="358.5" y="353.60" font-size="9" text-anchor="middle" fill="#1a1a1a" stroke="#1a1a1a" stroke-width="0.22"><tspan font-style="italic">q</tspan><tspan font-size="6.5" dy="1.8" font-style="italic">xy</tspan><tspan dy="-1.8"> (Å</tspan><tspan font-size="6.5" dy="-3">-1</tspan><tspan dy="3">)</tspan></text>
<g clip-path="url(#sclipe)">
<rect x="462.5" y="193.2" width="33.19999999999999" height="129.10000000000002" fill="url(#sge)"/>
<rect x="478.2" y="193.2" width="7.0" height="129.10000000000002" rx="3" fill="url(#sve)"/>
<rect x="461.5" y="254.75" width="35.19999999999999" height="6" fill="#03463a"/>
<circle cx="501" cy="257.75" r="17" fill="none" stroke="#03463a" stroke-width="6"/>
<circle cx="503" cy="328.3" r="11" fill="none" stroke="#03463a" stroke-width="5"/>
</g>
<rect x="462.5" y="193.2" width="33.19999999999999" height="129.10000000000002" fill="none" stroke="#111" stroke-width="1.3"/>
<line x1="458.90" y1="193.20" x2="462.50" y2="193.20" stroke="#111" stroke-width="1.1" />
<text x="459.20" y="196.30" font-size="8.7" text-anchor="end" fill="#1a1a1a" font-weight="normal" stroke="#1a1a1a" stroke-width="0.22" >-90</text>
<line x1="458.90" y1="225.47" x2="462.50" y2="225.47" stroke="#111" stroke-width="1.1" />
<text x="459.20" y="228.57" font-size="8.7" text-anchor="end" fill="#1a1a1a" font-weight="normal" stroke="#1a1a1a" stroke-width="0.22" >-45</text>
<line x1="458.90" y1="257.75" x2="462.50" y2="257.75" stroke="#111" stroke-width="1.1" />
<text x="459.20" y="260.85" font-size="8.7" text-anchor="end" fill="#1a1a1a" font-weight="normal" stroke="#1a1a1a" stroke-width="0.22" >0</text>
<line x1="458.90" y1="290.02" x2="462.50" y2="290.02" stroke="#111" stroke-width="1.1" />
<text x="459.20" y="293.12" font-size="8.7" text-anchor="end" fill="#1a1a1a" font-weight="normal" stroke="#1a1a1a" stroke-width="0.22" >45</text>
<line x1="458.90" y1="322.30" x2="462.50" y2="322.30" stroke="#111" stroke-width="1.1" />
<text x="459.20" y="325.40" font-size="8.7" text-anchor="end" fill="#1a1a1a" font-weight="normal" stroke="#1a1a1a" stroke-width="0.22" >90</text>
<line x1="484.70" y1="322.30" x2="484.70" y2="326.30" stroke="#111" stroke-width="1.1" />
<text x="485.00" y="336.20" font-size="9.0" text-anchor="middle" fill="#1a1a1a" font-weight="normal" stroke="#1a1a1a" stroke-width="0.22" >1.0</text>
<text x="479.20" y="189.90" font-size="8.6" text-anchor="middle" fill="#1a1a1a" font-weight="normal" stroke="#1a1a1a" stroke-width="0.22" >(100)</text>
<text x="0" y="0" font-size="9" text-anchor="middle" fill="#1a1a1a" stroke="#1a1a1a" stroke-width="0.22" transform="translate(448.80,257.75) rotate(-90)"><tspan font-style="italic">χ</tspan> (deg)</text>
<text x="481.6" y="347.60" font-size="8.6" text-anchor="middle" fill="#1a1a1a" stroke="#1a1a1a" stroke-width="0.22"><tspan font-style="italic">q</tspan><tspan font-size="6" dy="1.8" font-style="italic">xy</tspan><tspan dy="-1.8"> (Å</tspan><tspan font-size="6" dy="-3">-1</tspan><tspan dy="3">)</tspan></text>
<g clip-path="url(#tclipg)">
<rect x="547.3" y="8" width="136.20000000000005" height="2" fill="url(#tag0)"/>
<rect x="547.3" y="10" width="136.20000000000005" height="2" fill="url(#tag1)"/>
<rect x="547.3" y="12" width="136.20000000000005" height="2" fill="url(#tag2)"/>
<rect x="547.3" y="14" width="136.20000000000005" height="2" fill="url(#tag3)"/>
<rect x="547.3" y="16" width="136.20000000000005" height="2" fill="url(#tag4)"/>
<rect x="547.3" y="18" width="136.20000000000005" height="2" fill="url(#tag5)"/>
<rect x="547.3" y="20" width="136.20000000000005" height="2" fill="url(#tag6)"/>
<rect x="547.3" y="22" width="136.20000000000005" height="2" fill="url(#tag7)"/>
<rect x="547.3" y="24" width="136.20000000000005" height="2" fill="url(#tag8)"/>
<rect x="547.3" y="26" width="136.20000000000005" height="2" fill="url(#tag9)"/>
<rect x="547.3" y="28" width="136.20000000000005" height="2" fill="url(#tag10)"/>
<rect x="547.3" y="30" width="136.20000000000005" height="2" fill="url(#tag11)"/>
<rect x="547.3" y="32" width="136.20000000000005" height="2" fill="url(#tag12)"/>
<rect x="547.3" y="34" width="136.20000000000005" height="2" fill="url(#tag13)"/>
<rect x="547.3" y="36" width="136.20000000000005" height="2" fill="url(#tag14)"/>
<rect x="547.3" y="38" width="136.20000000000005" height="2" fill="url(#tag15)"/>
<rect x="547.3" y="40" width="136.20000000000005" height="2" fill="url(#tag16)"/>
<rect x="547.3" y="42" width="136.20000000000005" height="2" fill="url(#tag17)"/>
<rect x="547.3" y="44" width="136.20000000000005" height="2" fill="url(#tag18)"/>
<rect x="547.3" y="46" width="136.20000000000005" height="2" fill="url(#tag19)"/>
<rect x="547.3" y="48" width="136.20000000000005" height="2" fill="url(#tag20)"/>
<rect x="547.3" y="50" width="136.20000000000005" height="2" fill="url(#tag21)"/>
<rect x="547.3" y="52" width="136.20000000000005" height="2" fill="url(#tag22)"/>
<rect x="547.3" y="54" width="136.20000000000005" height="2" fill="url(#tag23)"/>
<rect x="547.3" y="56" width="136.20000000000005" height="2" fill="url(#tag24)"/>
<rect x="547.3" y="58" width="136.20000000000005" height="2" fill="url(#tag25)"/>
<rect x="547.3" y="60" width="136.20000000000005" height="2" fill="url(#tag26)"/>
<rect x="547.3" y="62" width="136.20000000000005" height="2" fill="url(#tag27)"/>
<rect x="547.3" y="64" width="136.20000000000005" height="2" fill="url(#tag28)"/>
<rect x="547.3" y="66" width="136.20000000000005" height="2" fill="url(#tag29)"/>
<rect x="547.3" y="68" width="136.20000000000005" height="2" fill="url(#tag30)"/>
<rect x="547.3" y="70" width="136.20000000000005" height="2" fill="url(#tag31)"/>
<rect x="547.3" y="72" width="136.20000000000005" height="2" fill="url(#tag32)"/>
<rect x="547.3" y="74" width="136.20000000000005" height="2" fill="url(#tag33)"/>
<rect x="547.3" y="76" width="136.20000000000005" height="2" fill="url(#tag34)"/>
<rect x="547.3" y="78" width="136.20000000000005" height="2" fill="url(#tag35)"/>
<rect x="547.3" y="80" width="136.20000000000005" height="2" fill="url(#tag36)"/>
<rect x="547.3" y="82" width="136.20000000000005" height="2" fill="url(#tag37)"/>
<rect x="547.3" y="84" width="136.20000000000005" height="2" fill="url(#tag38)"/>
<rect x="547.3" y="86" width="136.20000000000005" height="2" fill="url(#tag39)"/>
<rect x="547.3" y="88" width="136.20000000000005" height="2" fill="url(#tag40)"/>
<rect x="547.3" y="90" width="136.20000000000005" height="2" fill="url(#tag41)"/>
<rect x="547.3" y="92" width="136.20000000000005" height="2" fill="url(#tag42)"/>
<rect x="547.3" y="94" width="136.20000000000005" height="2" fill="url(#tag43)"/>
<rect x="547.3" y="96" width="136.20000000000005" height="2" fill="url(#tag44)"/>
<rect x="547.3" y="98" width="136.20000000000005" height="2" fill="url(#tag45)"/>
<rect x="547.3" y="100" width="136.20000000000005" height="2" fill="url(#tag46)"/>
<rect x="547.3" y="102" width="136.20000000000005" height="2" fill="url(#tag47)"/>
<rect x="547.3" y="104" width="136.20000000000005" height="2" fill="url(#tag48)"/>
<rect x="547.3" y="106" width="136.20000000000005" height="2" fill="url(#tag49)"/>
<rect x="547.3" y="108" width="136.20000000000005" height="2" fill="url(#tag50)"/>
<rect x="547.3" y="110" width="136.20000000000005" height="2" fill="url(#tag51)"/>
<rect x="547.3" y="112" width="136.20000000000005" height="2" fill="url(#tag52)"/>
<rect x="547.3" y="114" width="136.20000000000005" height="2" fill="url(#tag53)"/>
<rect x="547.3" y="116" width="136.20000000000005" height="2" fill="url(#tag54)"/>
<rect x="547.3" y="118" width="136.20000000000005" height="2" fill="url(#tag55)"/>
<rect x="547.3" y="120" width="136.20000000000005" height="2" fill="url(#tag56)"/>
<rect x="547.3" y="122" width="136.20000000000005" height="2" fill="url(#tag57)"/>
<rect x="547.3" y="124" width="136.20000000000005" height="2" fill="url(#tag58)"/>
<rect x="547.3" y="126" width="136.20000000000005" height="2" fill="url(#tag59)"/>
<rect x="547.3" y="128" width="136.20000000000005" height="2" fill="url(#tag60)"/>
<rect x="547.3" y="130" width="136.20000000000005" height="16" fill="url(#tabg)"/>
</g>
<rect x="547.3" y="8.5" width="136.20000000000005" height="136.7" fill="none" stroke="#123" stroke-width="1.1"/>
<line x1="547.30" y1="145.40" x2="550.80" y2="145.40" stroke="#123" stroke-width="1.0" />
<text x="544.90" y="145.80" font-size="8.1" text-anchor="end" fill="#1a1a1a" font-weight="normal" stroke="#1a1a1a" stroke-width="0.22" >-1</text>
<line x1="547.30" y1="127.10" x2="550.80" y2="127.10" stroke="#123" stroke-width="1.0" />
<text x="544.90" y="127.50" font-size="8.1" text-anchor="end" fill="#1a1a1a" font-weight="normal" stroke="#1a1a1a" stroke-width="0.22" >0</text>
<line x1="547.30" y1="108.80" x2="550.80" y2="108.80" stroke="#123" stroke-width="1.0" />
<text x="544.90" y="109.20" font-size="8.1" text-anchor="end" fill="#1a1a1a" font-weight="normal" stroke="#1a1a1a" stroke-width="0.22" >1</text>
<line x1="547.30" y1="90.50" x2="550.80" y2="90.50" stroke="#123" stroke-width="1.0" />
<text x="544.90" y="90.90" font-size="8.1" text-anchor="end" fill="#1a1a1a" font-weight="normal" stroke="#1a1a1a" stroke-width="0.22" >2</text>
<line x1="547.30" y1="74.60" x2="550.80" y2="74.60" stroke="#123" stroke-width="1.0" />
<text x="544.90" y="75.00" font-size="8.1" text-anchor="end" fill="#1a1a1a" font-weight="normal" stroke="#1a1a1a" stroke-width="0.22" >10</text>
<line x1="547.30" y1="51.50" x2="550.80" y2="51.50" stroke="#123" stroke-width="1.0" />
<text x="544.90" y="51.90" font-size="8.1" text-anchor="end" fill="#1a1a1a" font-weight="normal" stroke="#1a1a1a" stroke-width="0.22" >100</text>
<line x1="547.30" y1="28.40" x2="550.80" y2="28.40" stroke="#123" stroke-width="1.0" />
<text x="544.90" y="28.80" font-size="8.1" text-anchor="end" fill="#1a1a1a" font-weight="normal" stroke="#1a1a1a" stroke-width="0.22" >1000</text>
<line x1="547.30" y1="86.68" x2="549.30" y2="86.68" stroke="#123" stroke-width="0.8" />
<line x1="547.30" y1="83.79" x2="549.30" y2="83.79" stroke="#123" stroke-width="0.8" />
<line x1="547.30" y1="81.55" x2="549.30" y2="81.55" stroke="#123" stroke-width="0.8" />
<line x1="547.30" y1="79.72" x2="549.30" y2="79.72" stroke="#123" stroke-width="0.8" />
<line x1="547.30" y1="78.18" x2="549.30" y2="78.18" stroke="#123" stroke-width="0.8" />
<line x1="547.30" y1="76.84" x2="549.30" y2="76.84" stroke="#123" stroke-width="0.8" />
<line x1="547.30" y1="75.66" x2="549.30" y2="75.66" stroke="#123" stroke-width="0.8" />
<line x1="547.30" y1="67.65" x2="549.30" y2="67.65" stroke="#123" stroke-width="0.8" />
<line x1="547.30" y1="63.58" x2="549.30" y2="63.58" stroke="#123" stroke-width="0.8" />
<line x1="547.30" y1="60.69" x2="549.30" y2="60.69" stroke="#123" stroke-width="0.8" />
<line x1="547.30" y1="58.45" x2="549.30" y2="58.45" stroke="#123" stroke-width="0.8" />
<line x1="547.30" y1="56.62" x2="549.30" y2="56.62" stroke="#123" stroke-width="0.8" />
<line x1="547.30" y1="55.08" x2="549.30" y2="55.08" stroke="#123" stroke-width="0.8" />
<line x1="547.30" y1="53.74" x2="549.30" y2="53.74" stroke="#123" stroke-width="0.8" />
<line x1="547.30" y1="52.56" x2="549.30" y2="52.56" stroke="#123" stroke-width="0.8" />
<line x1="547.30" y1="44.55" x2="549.30" y2="44.55" stroke="#123" stroke-width="0.8" />
<line x1="547.30" y1="40.48" x2="549.30" y2="40.48" stroke="#123" stroke-width="0.8" />
<line x1="547.30" y1="37.59" x2="549.30" y2="37.59" stroke="#123" stroke-width="0.8" />
<line x1="547.30" y1="35.35" x2="549.30" y2="35.35" stroke="#123" stroke-width="0.8" />
<line x1="547.30" y1="33.52" x2="549.30" y2="33.52" stroke="#123" stroke-width="0.8" />
<line x1="547.30" y1="31.98" x2="549.30" y2="31.98" stroke="#123" stroke-width="0.8" />
<line x1="547.30" y1="30.64" x2="549.30" y2="30.64" stroke="#123" stroke-width="0.8" />
<line x1="547.30" y1="29.46" x2="549.30" y2="29.46" stroke="#123" stroke-width="0.8" />
<line x1="547.30" y1="21.45" x2="549.30" y2="21.45" stroke="#123" stroke-width="0.8" />
<line x1="547.30" y1="17.38" x2="549.30" y2="17.38" stroke="#123" stroke-width="0.8" />
<line x1="547.30" y1="14.49" x2="549.30" y2="14.49" stroke="#123" stroke-width="0.8" />
<line x1="547.30" y1="12.25" x2="549.30" y2="12.25" stroke="#123" stroke-width="0.8" />
<line x1="547.30" y1="10.42" x2="549.30" y2="10.42" stroke="#123" stroke-width="0.8" />
<line x1="547.30" y1="8.88" x2="549.30" y2="8.88" stroke="#123" stroke-width="0.8" />
<line x1="570.40" y1="145.20" x2="570.40" y2="141.70" stroke="#123" stroke-width="1.0" />
<line x1="593.50" y1="145.20" x2="593.50" y2="141.70" stroke="#123" stroke-width="1.0" />
<line x1="616.60" y1="145.20" x2="616.60" y2="141.70" stroke="#123" stroke-width="1.0" />
<line x1="639.70" y1="145.20" x2="639.70" y2="141.70" stroke="#123" stroke-width="1.0" />
<line x1="662.80" y1="145.20" x2="662.80" y2="141.70" stroke="#123" stroke-width="1.0" />
<text x="547.30" y="155.60" font-size="8.6" text-anchor="middle" fill="#1a1a1a" font-weight="normal" stroke="#1a1a1a" stroke-width="0.22" >540</text>
<text x="570.40" y="155.60" font-size="8.6" text-anchor="middle" fill="#1a1a1a" font-weight="normal" stroke="#1a1a1a" stroke-width="0.22" >580</text>
<text x="593.50" y="155.60" font-size="8.6" text-anchor="middle" fill="#1a1a1a" font-weight="normal" stroke="#1a1a1a" stroke-width="0.22" >620</text>
<text x="616.60" y="155.60" font-size="8.6" text-anchor="middle" fill="#1a1a1a" font-weight="normal" stroke="#1a1a1a" stroke-width="0.22" >660</text>
<text x="639.70" y="155.60" font-size="8.6" text-anchor="middle" fill="#1a1a1a" font-weight="normal" stroke="#1a1a1a" stroke-width="0.22" >700</text>
<text x="662.80" y="155.60" font-size="8.6" text-anchor="middle" fill="#1a1a1a" font-weight="normal" stroke="#1a1a1a" stroke-width="0.22" >740</text>
<text x="619.50" y="168.20" font-size="9.4" text-anchor="middle" fill="#1a1a1a" font-weight="normal" stroke="#1a1a1a" stroke-width="0.22" >Wavelength (nm)</text>
<text x="0" y="0" font-size="9.5" text-anchor="middle" dominant-baseline="central" fill="#1a1a1a" stroke="#1a1a1a" stroke-width="0.22" transform="translate(526.30,93.50) rotate(-90)">Delay Time (ps)</text>
<text x="676.20" y="22.80" font-size="10.2" text-anchor="end" fill="#1a1a1a" font-weight="normal" stroke="#1a1a1a" stroke-width="0.22" >OA</text>
<rect x="562.4" y="20.1" width="7.2" height="38.3" fill="url(#cbg)" stroke="#333" stroke-width="0.7"/>
<text x="572.00" y="26.80" font-size="8.1" text-anchor="start" fill="#1a1a1a" font-weight="normal" stroke="#1a1a1a" stroke-width="0.22" >2.0</text>
<text x="572.00" y="61.80" font-size="8.1" text-anchor="start" fill="#1a1a1a" font-weight="normal" stroke="#1a1a1a" stroke-width="0.22" >-4.5</text>
<text x="0" y="0" font-size="7.3" text-anchor="middle" dominant-baseline="central" fill="#1a1a1a" stroke="#1a1a1a" stroke-width="0.22" transform="translate(592.00,40.30) rotate(90)">ΔA (mOD)</text>
<g clip-path="url(#tcliph)">
<rect x="547.3" y="185" width="136.20000000000005" height="2" fill="url(#tah0)"/>
<rect x="547.3" y="187" width="136.20000000000005" height="2" fill="url(#tah1)"/>
<rect x="547.3" y="189" width="136.20000000000005" height="2" fill="url(#tah2)"/>
<rect x="547.3" y="191" width="136.20000000000005" height="2" fill="url(#tah3)"/>
<rect x="547.3" y="193" width="136.20000000000005" height="2" fill="url(#tah4)"/>
<rect x="547.3" y="195" width="136.20000000000005" height="2" fill="url(#tah5)"/>
<rect x="547.3" y="197" width="136.20000000000005" height="2" fill="url(#tah6)"/>
<rect x="547.3" y="199" width="136.20000000000005" height="2" fill="url(#tah7)"/>
<rect x="547.3" y="201" width="136.20000000000005" height="2" fill="url(#tah8)"/>
<rect x="547.3" y="203" width="136.20000000000005" height="2" fill="url(#tah9)"/>
<rect x="547.3" y="205" width="136.20000000000005" height="2" fill="url(#tah10)"/>
<rect x="547.3" y="207" width="136.20000000000005" height="2" fill="url(#tah11)"/>
<rect x="547.3" y="209" width="136.20000000000005" height="2" fill="url(#tah12)"/>
<rect x="547.3" y="211" width="136.20000000000005" height="2" fill="url(#tah13)"/>
<rect x="547.3" y="213" width="136.20000000000005" height="2" fill="url(#tah14)"/>
<rect x="547.3" y="215" width="136.20000000000005" height="2" fill="url(#tah15)"/>
<rect x="547.3" y="217" width="136.20000000000005" height="2" fill="url(#tah16)"/>
<rect x="547.3" y="219" width="136.20000000000005" height="2" fill="url(#tah17)"/>
<rect x="547.3" y="221" width="136.20000000000005" height="2" fill="url(#tah18)"/>
<rect x="547.3" y="223" width="136.20000000000005" height="2" fill="url(#tah19)"/>
<rect x="547.3" y="225" width="136.20000000000005" height="2" fill="url(#tah20)"/>
<rect x="547.3" y="227" width="136.20000000000005" height="2" fill="url(#tah21)"/>
<rect x="547.3" y="229" width="136.20000000000005" height="2" fill="url(#tah22)"/>
<rect x="547.3" y="231" width="136.20000000000005" height="2" fill="url(#tah23)"/>
<rect x="547.3" y="233" width="136.20000000000005" height="2" fill="url(#tah24)"/>
<rect x="547.3" y="235" width="136.20000000000005" height="2" fill="url(#tah25)"/>
<rect x="547.3" y="237" width="136.20000000000005" height="2" fill="url(#tah26)"/>
<rect x="547.3" y="239" width="136.20000000000005" height="2" fill="url(#tah27)"/>
<rect x="547.3" y="241" width="136.20000000000005" height="2" fill="url(#tah28)"/>
<rect x="547.3" y="243" width="136.20000000000005" height="2" fill="url(#tah29)"/>
<rect x="547.3" y="245" width="136.20000000000005" height="2" fill="url(#tah30)"/>
<rect x="547.3" y="247" width="136.20000000000005" height="2" fill="url(#tah31)"/>
<rect x="547.3" y="249" width="136.20000000000005" height="2" fill="url(#tah32)"/>
<rect x="547.3" y="251" width="136.20000000000005" height="2" fill="url(#tah33)"/>
<rect x="547.3" y="253" width="136.20000000000005" height="2" fill="url(#tah34)"/>
<rect x="547.3" y="255" width="136.20000000000005" height="2" fill="url(#tah35)"/>
<rect x="547.3" y="257" width="136.20000000000005" height="2" fill="url(#tah36)"/>
<rect x="547.3" y="259" width="136.20000000000005" height="2" fill="url(#tah37)"/>
<rect x="547.3" y="261" width="136.20000000000005" height="2" fill="url(#tah38)"/>
<rect x="547.3" y="263" width="136.20000000000005" height="2" fill="url(#tah39)"/>
<rect x="547.3" y="265" width="136.20000000000005" height="2" fill="url(#tah40)"/>
<rect x="547.3" y="267" width="136.20000000000005" height="2" fill="url(#tah41)"/>
<rect x="547.3" y="269" width="136.20000000000005" height="2" fill="url(#tah42)"/>
<rect x="547.3" y="271" width="136.20000000000005" height="2" fill="url(#tah43)"/>
<rect x="547.3" y="273" width="136.20000000000005" height="2" fill="url(#tah44)"/>
<rect x="547.3" y="275" width="136.20000000000005" height="2" fill="url(#tah45)"/>
<rect x="547.3" y="277" width="136.20000000000005" height="2" fill="url(#tah46)"/>
<rect x="547.3" y="279" width="136.20000000000005" height="2" fill="url(#tah47)"/>
<rect x="547.3" y="281" width="136.20000000000005" height="2" fill="url(#tah48)"/>
<rect x="547.3" y="283" width="136.20000000000005" height="2" fill="url(#tah49)"/>
<rect x="547.3" y="285" width="136.20000000000005" height="2" fill="url(#tah50)"/>
<rect x="547.3" y="287" width="136.20000000000005" height="2" fill="url(#tah51)"/>
<rect x="547.3" y="289" width="136.20000000000005" height="2" fill="url(#tah52)"/>
<rect x="547.3" y="291" width="136.20000000000005" height="2" fill="url(#tah53)"/>
<rect x="547.3" y="293" width="136.20000000000005" height="2" fill="url(#tah54)"/>
<rect x="547.3" y="295" width="136.20000000000005" height="2" fill="url(#tah55)"/>
<rect x="547.3" y="297" width="136.20000000000005" height="2" fill="url(#tah56)"/>
<rect x="547.3" y="299" width="136.20000000000005" height="2" fill="url(#tah57)"/>
<rect x="547.3" y="301" width="136.20000000000005" height="2" fill="url(#tah58)"/>
<rect x="547.3" y="303" width="136.20000000000005" height="2" fill="url(#tah59)"/>
<rect x="547.3" y="305" width="136.20000000000005" height="17" fill="url(#tabh)"/>
</g>
<rect x="547.3" y="185" width="136.20000000000005" height="136.8" fill="none" stroke="#123" stroke-width="1.1"/>
<line x1="547.30" y1="321.90" x2="550.80" y2="321.90" stroke="#123" stroke-width="1.0" />
<text x="544.90" y="322.30" font-size="8.1" text-anchor="end" fill="#1a1a1a" font-weight="normal" stroke="#1a1a1a" stroke-width="0.22" >-1</text>
<line x1="547.30" y1="303.60" x2="550.80" y2="303.60" stroke="#123" stroke-width="1.0" />
<text x="544.90" y="304.00" font-size="8.1" text-anchor="end" fill="#1a1a1a" font-weight="normal" stroke="#1a1a1a" stroke-width="0.22" >0</text>
<line x1="547.30" y1="285.30" x2="550.80" y2="285.30" stroke="#123" stroke-width="1.0" />
<text x="544.90" y="285.70" font-size="8.1" text-anchor="end" fill="#1a1a1a" font-weight="normal" stroke="#1a1a1a" stroke-width="0.22" >1</text>
<line x1="547.30" y1="267.00" x2="550.80" y2="267.00" stroke="#123" stroke-width="1.0" />
<text x="544.90" y="267.40" font-size="8.1" text-anchor="end" fill="#1a1a1a" font-weight="normal" stroke="#1a1a1a" stroke-width="0.22" >2</text>
<line x1="547.30" y1="251.10" x2="550.80" y2="251.10" stroke="#123" stroke-width="1.0" />
<text x="544.90" y="251.50" font-size="8.1" text-anchor="end" fill="#1a1a1a" font-weight="normal" stroke="#1a1a1a" stroke-width="0.22" >10</text>
<line x1="547.30" y1="228.00" x2="550.80" y2="228.00" stroke="#123" stroke-width="1.0" />
<text x="544.90" y="228.40" font-size="8.1" text-anchor="end" fill="#1a1a1a" font-weight="normal" stroke="#1a1a1a" stroke-width="0.22" >100</text>
<line x1="547.30" y1="204.90" x2="550.80" y2="204.90" stroke="#123" stroke-width="1.0" />
<text x="544.90" y="205.30" font-size="8.1" text-anchor="end" fill="#1a1a1a" font-weight="normal" stroke="#1a1a1a" stroke-width="0.22" >1000</text>
<line x1="547.30" y1="263.18" x2="549.30" y2="263.18" stroke="#123" stroke-width="0.8" />
<line x1="547.30" y1="260.29" x2="549.30" y2="260.29" stroke="#123" stroke-width="0.8" />
<line x1="547.30" y1="258.05" x2="549.30" y2="258.05" stroke="#123" stroke-width="0.8" />
<line x1="547.30" y1="256.22" x2="549.30" y2="256.22" stroke="#123" stroke-width="0.8" />
<line x1="547.30" y1="254.68" x2="549.30" y2="254.68" stroke="#123" stroke-width="0.8" />
<line x1="547.30" y1="253.34" x2="549.30" y2="253.34" stroke="#123" stroke-width="0.8" />
<line x1="547.30" y1="252.16" x2="549.30" y2="252.16" stroke="#123" stroke-width="0.8" />
<line x1="547.30" y1="244.15" x2="549.30" y2="244.15" stroke="#123" stroke-width="0.8" />
<line x1="547.30" y1="240.08" x2="549.30" y2="240.08" stroke="#123" stroke-width="0.8" />
<line x1="547.30" y1="237.19" x2="549.30" y2="237.19" stroke="#123" stroke-width="0.8" />
<line x1="547.30" y1="234.95" x2="549.30" y2="234.95" stroke="#123" stroke-width="0.8" />
<line x1="547.30" y1="233.12" x2="549.30" y2="233.12" stroke="#123" stroke-width="0.8" />
<line x1="547.30" y1="231.58" x2="549.30" y2="231.58" stroke="#123" stroke-width="0.8" />
<line x1="547.30" y1="230.24" x2="549.30" y2="230.24" stroke="#123" stroke-width="0.8" />
<line x1="547.30" y1="229.06" x2="549.30" y2="229.06" stroke="#123" stroke-width="0.8" />
<line x1="547.30" y1="221.05" x2="549.30" y2="221.05" stroke="#123" stroke-width="0.8" />
<line x1="547.30" y1="216.98" x2="549.30" y2="216.98" stroke="#123" stroke-width="0.8" />
<line x1="547.30" y1="214.09" x2="549.30" y2="214.09" stroke="#123" stroke-width="0.8" />
<line x1="547.30" y1="211.85" x2="549.30" y2="211.85" stroke="#123" stroke-width="0.8" />
<line x1="547.30" y1="210.02" x2="549.30" y2="210.02" stroke="#123" stroke-width="0.8" />
<line x1="547.30" y1="208.48" x2="549.30" y2="208.48" stroke="#123" stroke-width="0.8" />
<line x1="547.30" y1="207.14" x2="549.30" y2="207.14" stroke="#123" stroke-width="0.8" />
<line x1="547.30" y1="205.96" x2="549.30" y2="205.96" stroke="#123" stroke-width="0.8" />
<line x1="547.30" y1="197.95" x2="549.30" y2="197.95" stroke="#123" stroke-width="0.8" />
<line x1="547.30" y1="193.88" x2="549.30" y2="193.88" stroke="#123" stroke-width="0.8" />
<line x1="547.30" y1="190.99" x2="549.30" y2="190.99" stroke="#123" stroke-width="0.8" />
<line x1="547.30" y1="188.75" x2="549.30" y2="188.75" stroke="#123" stroke-width="0.8" />
<line x1="547.30" y1="186.92" x2="549.30" y2="186.92" stroke="#123" stroke-width="0.8" />
<line x1="547.30" y1="185.38" x2="549.30" y2="185.38" stroke="#123" stroke-width="0.8" />
<line x1="570.40" y1="321.80" x2="570.40" y2="318.30" stroke="#123" stroke-width="1.0" />
<line x1="593.50" y1="321.80" x2="593.50" y2="318.30" stroke="#123" stroke-width="1.0" />
<line x1="616.60" y1="321.80" x2="616.60" y2="318.30" stroke="#123" stroke-width="1.0" />
<line x1="639.70" y1="321.80" x2="639.70" y2="318.30" stroke="#123" stroke-width="1.0" />
<line x1="662.80" y1="321.80" x2="662.80" y2="318.30" stroke="#123" stroke-width="1.0" />
<text x="547.30" y="332.20" font-size="8.6" text-anchor="middle" fill="#1a1a1a" font-weight="normal" stroke="#1a1a1a" stroke-width="0.22" >540</text>
<text x="570.40" y="332.20" font-size="8.6" text-anchor="middle" fill="#1a1a1a" font-weight="normal" stroke="#1a1a1a" stroke-width="0.22" >580</text>
<text x="593.50" y="332.20" font-size="8.6" text-anchor="middle" fill="#1a1a1a" font-weight="normal" stroke="#1a1a1a" stroke-width="0.22" >620</text>
<text x="616.60" y="332.20" font-size="8.6" text-anchor="middle" fill="#1a1a1a" font-weight="normal" stroke="#1a1a1a" stroke-width="0.22" >660</text>
<text x="639.70" y="332.20" font-size="8.6" text-anchor="middle" fill="#1a1a1a" font-weight="normal" stroke="#1a1a1a" stroke-width="0.22" >700</text>
<text x="662.80" y="332.20" font-size="8.6" text-anchor="middle" fill="#1a1a1a" font-weight="normal" stroke="#1a1a1a" stroke-width="0.22" >740</text>
<text x="619.50" y="344.80" font-size="9.4" text-anchor="middle" fill="#1a1a1a" font-weight="normal" stroke="#1a1a1a" stroke-width="0.22" >Wavelength (nm)</text>
<text x="0" y="0" font-size="9.5" text-anchor="middle" dominant-baseline="central" fill="#1a1a1a" stroke="#1a1a1a" stroke-width="0.22" transform="translate(526.30,270.00) rotate(-90)">Delay Time (ps)</text>
<text x="676.20" y="200.30" font-size="10.2" text-anchor="end" fill="#1a1a1a" font-weight="normal" stroke="#1a1a1a" stroke-width="0.22" >DEHP</text>
<rect x="558.4" y="194.3" width="7.2" height="38.3" fill="url(#cbh)" stroke="#333" stroke-width="0.7"/>
<text x="568.00" y="199.40" font-size="8.1" text-anchor="start" fill="#1a1a1a" font-weight="normal" stroke="#1a1a1a" stroke-width="0.22" >2.0</text>
<text x="568.00" y="235.04" font-size="8.1" text-anchor="start" fill="#1a1a1a" font-weight="normal" stroke="#1a1a1a" stroke-width="0.22" >-4.5</text>
<text x="0" y="0" font-size="7.3" text-anchor="middle" dominant-baseline="central" fill="#1a1a1a" stroke="#1a1a1a" stroke-width="0.22" transform="translate(588.00,211.94) rotate(90)">ΔA (mOD)</text>
<line x1="267.5" y1="366.2" x2="454.7" y2="366.2" stroke="#555" stroke-width="1.1"/>
<line x1="454.7" y1="366.2" x2="454.7" y2="513.5" stroke="#555" stroke-width="1.1"/>
<line x1="267.50" y1="408.10" x2="270.70" y2="408.10" stroke="#111" stroke-width="1.0" />
<line x1="267.50" y1="460.70" x2="270.70" y2="460.70" stroke="#111" stroke-width="1.0" />
<line x1="267.50" y1="381.60" x2="269.30" y2="381.60" stroke="#111" stroke-width="1.0" />
<line x1="267.50" y1="434.60" x2="269.30" y2="434.60" stroke="#111" stroke-width="1.0" />
<line x1="267.50" y1="487.30" x2="269.30" y2="487.30" stroke="#111" stroke-width="1.0" />
<line x1="289.10" y1="513.50" x2="289.10" y2="510.00" stroke="#111" stroke-width="1.0" />
<text x="289.10" y="524.80" font-size="9.3" text-anchor="middle" fill="#1a1a1a" font-weight="normal" stroke="#1a1a1a" stroke-width="0.22" >60</text>
<line x1="332.40" y1="513.50" x2="332.40" y2="510.00" stroke="#111" stroke-width="1.0" />
<text x="332.40" y="524.80" font-size="9.3" text-anchor="middle" fill="#1a1a1a" font-weight="normal" stroke="#1a1a1a" stroke-width="0.22" >90</text>
<line x1="375.70" y1="513.50" x2="375.70" y2="510.00" stroke="#111" stroke-width="1.0" />
<text x="375.70" y="524.80" font-size="9.3" text-anchor="middle" fill="#1a1a1a" font-weight="normal" stroke="#1a1a1a" stroke-width="0.22" >120</text>
<line x1="419.00" y1="513.50" x2="419.00" y2="510.00" stroke="#111" stroke-width="1.0" />
<text x="419.00" y="524.80" font-size="9.3" text-anchor="middle" fill="#1a1a1a" font-weight="normal" stroke="#1a1a1a" stroke-width="0.22" >150</text>
<line x1="310.75" y1="513.50" x2="310.75" y2="511.50" stroke="#111" stroke-width="1.0" />
<line x1="354.05" y1="513.50" x2="354.05" y2="511.50" stroke="#111" stroke-width="1.0" />
<line x1="397.35" y1="513.50" x2="397.35" y2="511.50" stroke="#111" stroke-width="1.0" />
<line x1="440.65" y1="513.50" x2="440.65" y2="511.50" stroke="#111" stroke-width="1.0" />
<g fill="none" stroke="#4f8b90" stroke-width="0.9">
<circle cx="267.5" cy="497.8" r="1.9"/>
<circle cx="268.9" cy="498.2" r="1.9"/>
<circle cx="270.3" cy="498.3" r="1.9"/>
<circle cx="271.8" cy="498.7" r="1.9"/>
<circle cx="273.2" cy="498.1" r="1.9"/>
<circle cx="274.7" cy="498.6" r="1.9"/>
<circle cx="276.1" cy="496.1" r="1.9"/>
<circle cx="277.6" cy="497.3" r="1.9"/>
<circle cx="279.0" cy="498.6" r="1.9"/>
<circle cx="280.4" cy="497.7" r="1.9"/>
<circle cx="281.9" cy="498.4" r="1.9"/>
<circle cx="283.3" cy="496.2" r="1.9"/>
<circle cx="284.8" cy="497.3" r="1.9"/>
<circle cx="286.2" cy="496.7" r="1.9"/>
<circle cx="287.7" cy="497.5" r="1.9"/>
<circle cx="289.1" cy="497.6" r="1.9"/>
<circle cx="290.5" cy="496.1" r="1.9"/>
<circle cx="292.0" cy="496.7" r="1.9"/>
<circle cx="293.4" cy="496.7" r="1.9"/>
<circle cx="294.9" cy="498.4" r="1.9"/>
<circle cx="296.3" cy="497.8" r="1.9"/>
<circle cx="297.8" cy="495.9" r="1.9"/>
<circle cx="299.2" cy="497.6" r="1.9"/>
<circle cx="300.6" cy="495.6" r="1.9"/>
<circle cx="302.1" cy="496.8" r="1.9"/>
<circle cx="303.5" cy="495.3" r="1.9"/>
<circle cx="305.0" cy="494.5" r="1.9"/>
<circle cx="306.4" cy="496.5" r="1.9"/>
<circle cx="307.9" cy="494.3" r="1.9"/>
<circle cx="309.3" cy="493.9" r="1.9"/>
<circle cx="310.7" cy="495.7" r="1.9"/>
<circle cx="312.2" cy="494.9" r="1.9"/>
<circle cx="313.6" cy="492.9" r="1.9"/>
<circle cx="315.1" cy="494.4" r="1.9"/>
<circle cx="316.5" cy="492.8" r="1.9"/>
<circle cx="318.0" cy="492.7" r="1.9"/>
<circle cx="319.4" cy="491.0" r="1.9"/>
<circle cx="320.9" cy="492.6" r="1.9"/>
<circle cx="322.3" cy="491.5" r="1.9"/>
<circle cx="323.7" cy="491.8" r="1.9"/>
<circle cx="325.2" cy="491.5" r="1.9"/>
<circle cx="326.6" cy="489.8" r="1.9"/>
<circle cx="328.1" cy="489.8" r="1.9"/>
<circle cx="329.5" cy="489.2" r="1.9"/>
<circle cx="331.0" cy="489.1" r="1.9"/>
<circle cx="332.4" cy="488.8" r="1.9"/>
<circle cx="333.8" cy="489.3" r="1.9"/>
<circle cx="335.3" cy="490.1" r="1.9"/>
<circle cx="336.7" cy="488.6" r="1.9"/>
<circle cx="338.2" cy="490.7" r="1.9"/>
<circle cx="339.6" cy="489.9" r="1.9"/>
<circle cx="341.1" cy="490.0" r="1.9"/>
<circle cx="342.5" cy="491.6" r="1.9"/>
<circle cx="343.9" cy="490.9" r="1.9"/>
<circle cx="345.4" cy="490.6" r="1.9"/>
<circle cx="346.8" cy="491.2" r="1.9"/>
<circle cx="348.3" cy="491.8" r="1.9"/>
<circle cx="349.7" cy="490.0" r="1.9"/>
<circle cx="351.2" cy="492.5" r="1.9"/>
<circle cx="352.6" cy="489.8" r="1.9"/>
<circle cx="354.0" cy="491.7" r="1.9"/>
<circle cx="355.5" cy="492.0" r="1.9"/>
<circle cx="356.9" cy="489.4" r="1.9"/>
<circle cx="358.4" cy="491.2" r="1.9"/>
<circle cx="359.8" cy="489.8" r="1.9"/>
<circle cx="361.3" cy="490.1" r="1.9"/>
<circle cx="362.7" cy="488.2" r="1.9"/>
<circle cx="364.2" cy="488.0" r="1.9"/>
<circle cx="365.6" cy="487.9" r="1.9"/>
<circle cx="367.0" cy="489.5" r="1.9"/>
<circle cx="368.5" cy="486.9" r="1.9"/>
<circle cx="369.9" cy="487.9" r="1.9"/>
<circle cx="371.4" cy="487.8" r="1.9"/>
<circle cx="372.8" cy="487.3" r="1.9"/>
<circle cx="374.3" cy="485.1" r="1.9"/>
<circle cx="375.7" cy="484.6" r="1.9"/>
<circle cx="377.1" cy="484.6" r="1.9"/>
<circle cx="378.6" cy="484.8" r="1.9"/>
<circle cx="380.0" cy="482.4" r="1.9"/>
<circle cx="381.5" cy="483.7" r="1.9"/>
<circle cx="382.9" cy="483.3" r="1.9"/>
<circle cx="384.4" cy="482.9" r="1.9"/>
<circle cx="385.8" cy="480.2" r="1.9"/>
<circle cx="387.2" cy="482.6" r="1.9"/>
<circle cx="388.7" cy="479.9" r="1.9"/>
<circle cx="390.1" cy="480.4" r="1.9"/>
<circle cx="391.6" cy="481.0" r="1.9"/>
<circle cx="393.0" cy="481.6" r="1.9"/>
<circle cx="394.5" cy="479.8" r="1.9"/>
<circle cx="395.9" cy="481.3" r="1.9"/>
<circle cx="397.3" cy="480.5" r="1.9"/>
<circle cx="398.8" cy="480.0" r="1.9"/>
<circle cx="400.2" cy="480.2" r="1.9"/>
<circle cx="401.7" cy="480.0" r="1.9"/>
<circle cx="403.1" cy="479.9" r="1.9"/>
<circle cx="404.6" cy="480.3" r="1.9"/>
<circle cx="406.0" cy="482.0" r="1.9"/>
<circle cx="407.5" cy="483.1" r="1.9"/>
<circle cx="408.9" cy="481.0" r="1.9"/>
<circle cx="410.3" cy="481.0" r="1.9"/>
<circle cx="411.8" cy="483.9" r="1.9"/>
<circle cx="413.2" cy="482.9" r="1.9"/>
<circle cx="414.7" cy="482.8" r="1.9"/>
<circle cx="416.1" cy="482.6" r="1.9"/>
<circle cx="417.6" cy="483.8" r="1.9"/>
<circle cx="419.0" cy="484.8" r="1.9"/>
<circle cx="420.4" cy="484.4" r="1.9"/>
<circle cx="421.9" cy="485.0" r="1.9"/>
<circle cx="423.3" cy="484.6" r="1.9"/>
<circle cx="424.8" cy="487.6" r="1.9"/>
<circle cx="426.2" cy="485.8" r="1.9"/>
<circle cx="427.7" cy="487.7" r="1.9"/>
<circle cx="429.1" cy="489.3" r="1.9"/>
<circle cx="430.5" cy="488.2" r="1.9"/>
<circle cx="432.0" cy="490.7" r="1.9"/>
<circle cx="433.4" cy="492.1" r="1.9"/>
<circle cx="434.9" cy="492.0" r="1.9"/>
<circle cx="436.3" cy="493.3" r="1.9"/>
<circle cx="437.8" cy="492.2" r="1.9"/>
<circle cx="439.2" cy="494.0" r="1.9"/>
<circle cx="440.6" cy="494.4" r="1.9"/>
<circle cx="442.1" cy="497.5" r="1.9"/>
<circle cx="443.5" cy="497.1" r="1.9"/>
<circle cx="445.0" cy="498.7" r="1.9"/>
<circle cx="446.4" cy="501.5" r="1.9"/>
<circle cx="447.9" cy="502.8" r="1.9"/>
<circle cx="449.3" cy="505.0" r="1.9"/>
<circle cx="450.7" cy="505.3" r="1.9"/>
<circle cx="452.2" cy="507.2" r="1.9"/>
<circle cx="453.6" cy="510.0" r="1.9"/>
<circle cx="455.1" cy="511.4" r="1.9"/>
</g><g fill="none" stroke="#cf2a2c" stroke-width="0.9">
<circle cx="267.5" cy="504.1" r="1.9"/>
<circle cx="268.9" cy="504.2" r="1.9"/>
<circle cx="270.3" cy="503.7" r="1.9"/>
<circle cx="271.8" cy="504.0" r="1.9"/>
<circle cx="273.2" cy="505.2" r="1.9"/>
<circle cx="274.7" cy="505.0" r="1.9"/>
<circle cx="276.1" cy="504.2" r="1.9"/>
<circle cx="277.6" cy="503.9" r="1.9"/>
<circle cx="279.0" cy="503.4" r="1.9"/>
<circle cx="280.4" cy="502.8" r="1.9"/>
<circle cx="281.9" cy="503.0" r="1.9"/>
<circle cx="283.3" cy="503.9" r="1.9"/>
<circle cx="284.8" cy="503.9" r="1.9"/>
<circle cx="286.2" cy="502.7" r="1.9"/>
<circle cx="287.7" cy="503.3" r="1.9"/>
<circle cx="289.1" cy="503.1" r="1.9"/>
<circle cx="290.5" cy="502.6" r="1.9"/>
<circle cx="292.0" cy="502.2" r="1.9"/>
<circle cx="293.4" cy="502.0" r="1.9"/>
<circle cx="294.9" cy="500.8" r="1.9"/>
<circle cx="296.3" cy="501.0" r="1.9"/>
<circle cx="297.8" cy="499.7" r="1.9"/>
<circle cx="299.2" cy="499.5" r="1.9"/>
<circle cx="300.6" cy="499.4" r="1.9"/>
<circle cx="302.1" cy="498.5" r="1.9"/>
<circle cx="303.5" cy="496.7" r="1.9"/>
<circle cx="305.0" cy="496.9" r="1.9"/>
<circle cx="306.4" cy="495.0" r="1.9"/>
<circle cx="307.9" cy="493.2" r="1.9"/>
<circle cx="309.3" cy="490.1" r="1.9"/>
<circle cx="310.7" cy="488.7" r="1.9"/>
<circle cx="312.2" cy="485.3" r="1.9"/>
<circle cx="313.6" cy="482.7" r="1.9"/>
<circle cx="315.1" cy="478.3" r="1.9"/>
<circle cx="316.5" cy="474.4" r="1.9"/>
<circle cx="318.0" cy="468.7" r="1.9"/>
<circle cx="319.4" cy="463.0" r="1.9"/>
<circle cx="320.9" cy="455.5" r="1.9"/>
<circle cx="322.3" cy="448.9" r="1.9"/>
<circle cx="323.7" cy="441.4" r="1.9"/>
<circle cx="325.2" cy="433.6" r="1.9"/>
<circle cx="326.6" cy="424.7" r="1.9"/>
<circle cx="328.1" cy="418.1" r="1.9"/>
<circle cx="329.5" cy="411.3" r="1.9"/>
<circle cx="331.0" cy="405.4" r="1.9"/>
<circle cx="332.4" cy="402.1" r="1.9"/>
<circle cx="333.8" cy="400.4" r="1.9"/>
<circle cx="335.3" cy="400.1" r="1.9"/>
<circle cx="336.7" cy="402.9" r="1.9"/>
<circle cx="338.2" cy="406.9" r="1.9"/>
<circle cx="339.6" cy="414.4" r="1.9"/>
<circle cx="341.1" cy="421.8" r="1.9"/>
<circle cx="342.5" cy="428.6" r="1.9"/>
<circle cx="343.9" cy="436.9" r="1.9"/>
<circle cx="345.4" cy="444.6" r="1.9"/>
<circle cx="346.8" cy="451.9" r="1.9"/>
<circle cx="348.3" cy="457.5" r="1.9"/>
<circle cx="349.7" cy="464.9" r="1.9"/>
<circle cx="351.2" cy="469.9" r="1.9"/>
<circle cx="352.6" cy="474.8" r="1.9"/>
<circle cx="354.0" cy="478.5" r="1.9"/>
<circle cx="355.5" cy="482.4" r="1.9"/>
<circle cx="356.9" cy="485.7" r="1.9"/>
<circle cx="358.4" cy="487.9" r="1.9"/>
<circle cx="359.8" cy="490.1" r="1.9"/>
<circle cx="361.3" cy="490.3" r="1.9"/>
<circle cx="362.7" cy="492.0" r="1.9"/>
<circle cx="364.2" cy="493.6" r="1.9"/>
<circle cx="365.6" cy="495.2" r="1.9"/>
<circle cx="367.0" cy="495.4" r="1.9"/>
<circle cx="368.5" cy="497.2" r="1.9"/>
<circle cx="369.9" cy="497.9" r="1.9"/>
<circle cx="371.4" cy="497.4" r="1.9"/>
<circle cx="372.8" cy="498.9" r="1.9"/>
<circle cx="374.3" cy="498.6" r="1.9"/>
<circle cx="375.7" cy="498.4" r="1.9"/>
<circle cx="377.1" cy="498.6" r="1.9"/>
<circle cx="378.6" cy="499.0" r="1.9"/>
<circle cx="380.0" cy="498.8" r="1.9"/>
<circle cx="381.5" cy="498.8" r="1.9"/>
<circle cx="382.9" cy="498.5" r="1.9"/>
<circle cx="384.4" cy="499.4" r="1.9"/>
<circle cx="385.8" cy="499.2" r="1.9"/>
<circle cx="387.2" cy="499.7" r="1.9"/>
<circle cx="388.7" cy="499.6" r="1.9"/>
<circle cx="390.1" cy="498.9" r="1.9"/>
<circle cx="391.6" cy="500.2" r="1.9"/>
<circle cx="393.0" cy="498.3" r="1.9"/>
<circle cx="394.5" cy="499.1" r="1.9"/>
<circle cx="395.9" cy="498.8" r="1.9"/>
<circle cx="397.3" cy="499.0" r="1.9"/>
<circle cx="398.8" cy="498.3" r="1.9"/>
<circle cx="400.2" cy="500.2" r="1.9"/>
<circle cx="401.7" cy="499.7" r="1.9"/>
<circle cx="403.1" cy="499.4" r="1.9"/>
<circle cx="404.6" cy="501.0" r="1.9"/>
<circle cx="406.0" cy="500.3" r="1.9"/>
<circle cx="407.5" cy="501.6" r="1.9"/>
<circle cx="408.9" cy="501.6" r="1.9"/>
<circle cx="410.3" cy="502.5" r="1.9"/>
<circle cx="411.8" cy="503.6" r="1.9"/>
<circle cx="413.2" cy="503.7" r="1.9"/>
<circle cx="414.7" cy="503.3" r="1.9"/>
<circle cx="416.1" cy="504.5" r="1.9"/>
<circle cx="417.6" cy="504.6" r="1.9"/>
<circle cx="419.0" cy="504.4" r="1.9"/>
<circle cx="420.4" cy="504.3" r="1.9"/>
<circle cx="421.9" cy="505.6" r="1.9"/>
<circle cx="423.3" cy="506.0" r="1.9"/>
<circle cx="424.8" cy="507.1" r="1.9"/>
<circle cx="426.2" cy="507.2" r="1.9"/>
<circle cx="427.7" cy="506.4" r="1.9"/>
<circle cx="429.1" cy="505.9" r="1.9"/>
<circle cx="430.5" cy="507.0" r="1.9"/>
<circle cx="432.0" cy="505.2" r="1.9"/>
<circle cx="433.4" cy="505.4" r="1.9"/>
<circle cx="434.9" cy="506.3" r="1.9"/>
<circle cx="436.3" cy="505.8" r="1.9"/>
<circle cx="437.8" cy="504.2" r="1.9"/>
<circle cx="439.2" cy="504.5" r="1.9"/>
<circle cx="440.6" cy="504.4" r="1.9"/>
<circle cx="442.1" cy="502.7" r="1.9"/>
<circle cx="443.5" cy="502.2" r="1.9"/>
<circle cx="445.0" cy="500.3" r="1.9"/>
<circle cx="446.4" cy="498.9" r="1.9"/>
<circle cx="447.9" cy="498.8" r="1.9"/>
<circle cx="449.3" cy="496.1" r="1.9"/>
<circle cx="450.7" cy="495.6" r="1.9"/>
<circle cx="452.2" cy="493.7" r="1.9"/>
<circle cx="453.6" cy="491.4" r="1.9"/>
<circle cx="455.1" cy="489.0" r="1.9"/>
</g>
<line x1="267.5" y1="365.7" x2="267.5" y2="513.5" stroke="#111" stroke-width="1.2"/>
<line x1="267.5" y1="513.5" x2="455.8" y2="513.5" stroke="#2a2a2a" stroke-width="1.1"/>
<circle cx="362.3" cy="377.6" r="2.1" fill="none" stroke="#4f8b90" stroke-width="0.9"/>
<text x="374.50" y="380.90" font-size="9.2" text-anchor="start" fill="#1a1a1a" font-weight="normal" stroke="#1a1a1a" stroke-width="0.22" >OA</text>
<circle cx="362.3" cy="431.4" r="2.1" fill="none" stroke="#cf2a2c" stroke-width="0.9"/>
<text x="374.50" y="434.70" font-size="9.2" text-anchor="start" fill="#1a1a1a" font-weight="normal" stroke="#1a1a1a" stroke-width="0.22" >DEHP</text>
<text x="0" y="0" font-size="9.45" text-anchor="middle" dominant-baseline="central" fill="#1a1a1a" stroke="#1a1a1a" stroke-width="0.22" transform="translate(257.70,439.40) rotate(-90)">Intensity (a.u.)</text>
<text x="362.3" y="540" font-size="9.2" text-anchor="middle" fill="#1a1a1a" stroke="#1a1a1a" stroke-width="0.22"><tspan font-style="italic">χ</tspan> (deg)</text>
<g transform="rotate(-3 376.9 397.6)"><rect x="370.5" y="391.5" width="12.7" height="12.2" fill="#830a25"/><path d="M370.5,391.5 L371.7,390.1 L384.4,390.1 L383.2,391.5 Z" fill="#a8304c"/><line x1="370.8" y1="391.5" x2="370.8" y2="403.7" stroke="#d0607a" stroke-width="0.7"/></g>
<g transform="rotate(-2 392.1 394.4)"><rect x="386.3" y="388.6" width="11.5" height="11.5" fill="#830a25"/><path d="M386.3,388.6 L387.5,386.9 L399.0,386.9 L397.8,388.6 Z" fill="#a8304c"/><path d="M397.8,388.6 L399.6,386.9 L399.6,398.4 L397.8,400.1 Z" fill="#5c3a44"/><line x1="386.6" y1="388.6" x2="386.6" y2="400.1" stroke="#d0607a" stroke-width="0.7"/></g>
<g transform="rotate(2 408.2 396.9)"><rect x="402.2" y="391.2" width="12.0" height="11.4" fill="#830a25"/><path d="M402.2,391.2 L403.4,389.8 L415.4,389.8 L414.2,391.2 Z" fill="#a8304c"/><line x1="402.5" y1="391.2" x2="402.5" y2="402.6" stroke="#d0607a" stroke-width="0.7"/></g>
<g transform="rotate(-1 422.6 391.1)"><rect x="416.6" y="385.4" width="12.0" height="11.5" fill="#830a25"/><path d="M416.6,385.4 L417.8,384.0 L429.8,384.0 L428.6,385.4 Z" fill="#a8304c"/><line x1="416.9" y1="385.4" x2="416.9" y2="396.9" stroke="#d0607a" stroke-width="0.7"/></g>
<g transform="rotate(2 438.2 394.1)"><rect x="432.4" y="389.0" width="11.6" height="10.3" fill="#830a25"/><path d="M432.4,389.0 L433.6,387.7 L445.2,387.7 L444.0,389.0 Z" fill="#a8304c"/><line x1="432.7" y1="389.0" x2="432.7" y2="399.3" stroke="#d0607a" stroke-width="0.7"/></g>
<g transform="rotate(1 378.6 414.3)"><rect x="372.8" y="409.0" width="11.7" height="10.6" fill="#830a25"/><path d="M372.8,409.0 L374.0,407.8 L385.7,407.8 L384.5,409.0 Z" fill="#a8304c"/><line x1="373.1" y1="409.0" x2="373.1" y2="419.6" stroke="#d0607a" stroke-width="0.7"/></g>
<g transform="rotate(-1 392.1 412.9)"><rect x="386.2" y="407.0" width="11.8" height="11.7" fill="#830a25"/><path d="M386.2,407.0 L387.4,405.5 L399.2,405.5 L398.0,407.0 Z" fill="#a8304c"/><line x1="386.5" y1="407.0" x2="386.5" y2="418.7" stroke="#d0607a" stroke-width="0.7"/></g>
<g transform="rotate(-3 405.9 414.4)"><rect x="399.8" y="408.8" width="12.2" height="11.1" fill="#830a25"/><path d="M399.8,408.8 L401.0,407.2 L413.2,407.2 L412.0,408.8 Z" fill="#a8304c"/><path d="M412.0,408.8 L413.8,407.2 L413.8,418.3 L412.0,419.9 Z" fill="#5c3a44"/><line x1="400.1" y1="408.8" x2="400.1" y2="419.9" stroke="#d0607a" stroke-width="0.7"/></g>
<g transform="rotate(-1 422.1 409.3)"><rect x="416.0" y="403.4" width="12.3" height="11.8" fill="#830a25"/><path d="M416.0,403.4 L417.2,401.8 L429.5,401.8 L428.3,403.4 Z" fill="#a8304c"/><line x1="416.3" y1="403.4" x2="416.3" y2="415.2" stroke="#d0607a" stroke-width="0.7"/></g>
<g transform="rotate(3 439.4 411.1)"><rect x="433.0" y="405.0" width="12.8" height="12.1" fill="#830a25"/><path d="M433.0,405.0 L434.2,403.4 L447.0,403.4 L445.8,405.0 Z" fill="#a8304c"/><line x1="433.3" y1="405.0" x2="433.3" y2="417.1" stroke="#d0607a" stroke-width="0.7"/></g>
<g transform="rotate(0 378.2 450.2)"><rect x="371.8" y="443.8" width="12.8" height="12.8" fill="#830a25"/><path d="M371.8,443.8 L373.0,443.0 L385.8,443.0 L384.6,443.8 Z" fill="#a8304c"/><line x1="372.1" y1="443.8" x2="372.1" y2="456.6" stroke="#d0607a" stroke-width="0.7"/></g>
<g transform="rotate(0 393.2 450.2)"><rect x="387.0" y="443.8" width="12.5" height="12.8" fill="#830a25"/><path d="M387.0,443.8 L388.2,443.0 L400.7,443.0 L399.5,443.8 Z" fill="#a8304c"/><line x1="387.3" y1="443.8" x2="387.3" y2="456.6" stroke="#d0607a" stroke-width="0.7"/></g>
<g transform="rotate(0 408.4 450.2)"><rect x="402.2" y="443.8" width="12.4" height="12.8" fill="#830a25"/><path d="M402.2,443.8 L403.4,443.0 L415.8,443.0 L414.6,443.8 Z" fill="#a8304c"/><line x1="402.5" y1="443.8" x2="402.5" y2="456.6" stroke="#d0607a" stroke-width="0.7"/></g>
<g transform="rotate(0 423.3 450.2)"><rect x="417.1" y="443.8" width="12.4" height="12.8" fill="#830a25"/><path d="M417.1,443.8 L418.3,443.0 L430.7,443.0 L429.5,443.8 Z" fill="#a8304c"/><line x1="417.4" y1="443.8" x2="417.4" y2="456.6" stroke="#d0607a" stroke-width="0.7"/></g>
<g transform="rotate(0 439.4 450.2)"><rect x="433.2" y="443.8" width="12.4" height="12.8" fill="#830a25"/><path d="M433.2,443.8 L434.4,443.0 L446.8,443.0 L445.6,443.8 Z" fill="#a8304c"/><line x1="433.5" y1="443.8" x2="433.5" y2="456.6" stroke="#d0607a" stroke-width="0.7"/></g>
<g transform="rotate(0 378.2 465.7)"><rect x="371.8" y="459.3" width="12.8" height="12.8" fill="#830a25"/><path d="M371.8,459.3 L373.0,458.5 L385.8,458.5 L384.6,459.3 Z" fill="#a8304c"/><line x1="372.1" y1="459.3" x2="372.1" y2="472.1" stroke="#d0607a" stroke-width="0.7"/></g>
<g transform="rotate(0 393.2 465.7)"><rect x="387.0" y="459.3" width="12.5" height="12.8" fill="#830a25"/><path d="M387.0,459.3 L388.2,458.5 L400.7,458.5 L399.5,459.3 Z" fill="#a8304c"/><line x1="387.3" y1="459.3" x2="387.3" y2="472.1" stroke="#d0607a" stroke-width="0.7"/></g>
<g transform="rotate(0 408.4 465.7)"><rect x="402.2" y="459.3" width="12.4" height="12.8" fill="#830a25"/><path d="M402.2,459.3 L403.4,458.5 L415.8,458.5 L414.6,459.3 Z" fill="#a8304c"/><line x1="402.5" y1="459.3" x2="402.5" y2="472.1" stroke="#d0607a" stroke-width="0.7"/></g>
<g transform="rotate(0 423.3 465.7)"><rect x="417.1" y="459.3" width="12.4" height="12.8" fill="#830a25"/><path d="M417.1,459.3 L418.3,458.5 L430.7,458.5 L429.5,459.3 Z" fill="#a8304c"/><line x1="417.4" y1="459.3" x2="417.4" y2="472.1" stroke="#d0607a" stroke-width="0.7"/></g>
<g transform="rotate(0 439.4 465.7)"><rect x="433.2" y="459.3" width="12.4" height="12.8" fill="#830a25"/><path d="M433.2,459.3 L434.4,458.5 L446.8,458.5 L445.6,459.3 Z" fill="#a8304c"/><line x1="433.5" y1="459.3" x2="433.5" y2="472.1" stroke="#d0607a" stroke-width="0.7"/></g>
<line x1="499.3" y1="366.6" x2="684" y2="366.6" stroke="#444" stroke-width="1.1"/>
<line x1="683.2" y1="366.6" x2="683.2" y2="513.5" stroke="#444" stroke-width="1.1"/>
<line x1="499.30" y1="378.40" x2="502.30" y2="378.40" stroke="#111" stroke-width="1.0" />
<line x1="499.30" y1="402.96" x2="502.30" y2="402.96" stroke="#111" stroke-width="1.0" />
<line x1="499.30" y1="427.52" x2="502.30" y2="427.52" stroke="#111" stroke-width="1.0" />
<line x1="499.30" y1="452.08" x2="502.30" y2="452.08" stroke="#111" stroke-width="1.0" />
<line x1="499.30" y1="476.64" x2="502.30" y2="476.64" stroke="#111" stroke-width="1.0" />
<line x1="499.30" y1="501.20" x2="502.30" y2="501.20" stroke="#111" stroke-width="1.0" />
<line x1="546.10" y1="513.50" x2="546.10" y2="510.00" stroke="#111" stroke-width="1.0" />
<line x1="591.80" y1="513.50" x2="591.80" y2="510.00" stroke="#111" stroke-width="1.0" />
<line x1="639.40" y1="513.50" x2="639.40" y2="510.00" stroke="#111" stroke-width="1.0" />
<line x1="606.13" y1="513.50" x2="606.13" y2="511.50" stroke="#111" stroke-width="0.9" />
<line x1="614.51" y1="513.50" x2="614.51" y2="511.50" stroke="#111" stroke-width="0.9" />
<line x1="620.46" y1="513.50" x2="620.46" y2="511.50" stroke="#111" stroke-width="0.9" />
<line x1="625.07" y1="513.50" x2="625.07" y2="511.50" stroke="#111" stroke-width="0.9" />
<line x1="628.84" y1="513.50" x2="628.84" y2="511.50" stroke="#111" stroke-width="0.9" />
<line x1="632.03" y1="513.50" x2="632.03" y2="511.50" stroke="#111" stroke-width="0.9" />
<line x1="634.79" y1="513.50" x2="634.79" y2="511.50" stroke="#111" stroke-width="0.9" />
<line x1="637.22" y1="513.50" x2="637.22" y2="511.50" stroke="#111" stroke-width="0.9" />
<line x1="653.73" y1="513.50" x2="653.73" y2="511.50" stroke="#111" stroke-width="0.9" />
<line x1="662.11" y1="513.50" x2="662.11" y2="511.50" stroke="#111" stroke-width="0.9" />
<line x1="668.06" y1="513.50" x2="668.06" y2="511.50" stroke="#111" stroke-width="0.9" />
<line x1="672.67" y1="513.50" x2="672.67" y2="511.50" stroke="#111" stroke-width="0.9" />
<line x1="676.44" y1="513.50" x2="676.44" y2="511.50" stroke="#111" stroke-width="0.9" />
<line x1="679.63" y1="513.50" x2="679.63" y2="511.50" stroke="#111" stroke-width="0.9" />
<line x1="682.39" y1="513.50" x2="682.39" y2="511.50" stroke="#111" stroke-width="0.9" />
<text x="500.40" y="526.20" font-size="9.7" text-anchor="middle" fill="#1a1a1a" font-weight="normal" stroke="#1a1a1a" stroke-width="0.22" >0</text>
<text x="546.10" y="526.20" font-size="9.7" text-anchor="middle" fill="#1a1a1a" font-weight="normal" stroke="#1a1a1a" stroke-width="0.22" >50</text>
<text x="591.80" y="526.20" font-size="9.7" text-anchor="middle" fill="#1a1a1a" font-weight="normal" stroke="#1a1a1a" stroke-width="0.22" >100</text>
<text x="639.40" y="526.20" font-size="9.7" text-anchor="middle" fill="#1a1a1a" font-weight="normal" stroke="#1a1a1a" stroke-width="0.22" >1000</text>
<text x="595.80" y="538.70" font-size="9.6" text-anchor="middle" fill="#1a1a1a" font-weight="normal" stroke="#1a1a1a" stroke-width="0.22" >Delay Time (ps)</text>
<text x="0" y="0" font-size="9.55" text-anchor="middle" dominant-baseline="central" fill="#1a1a1a" stroke="#1a1a1a" stroke-width="0.22" transform="translate(485.10,439.80) rotate(-90)">ΔA Normalized (a.u.)</text>
<g fill="none" stroke="#3f9ea3" stroke-width="1.0">
<circle cx="502.1" cy="504.9" r="2.5"/>
<circle cx="502.0" cy="500.8" r="2.5"/>
<circle cx="502.1" cy="495.0" r="2.5"/>
<circle cx="502.1" cy="489.4" r="2.5"/>
<circle cx="502.3" cy="485.3" r="2.5"/>
<circle cx="501.9" cy="479.2" r="2.5"/>
<circle cx="502.3" cy="474.2" r="2.5"/>
<circle cx="501.6" cy="470.4" r="2.5"/>
<circle cx="502.5" cy="466.0" r="2.5"/>
<circle cx="502.2" cy="460.3" r="2.5"/>
<circle cx="501.6" cy="454.3" r="2.5"/>
<circle cx="501.7" cy="450.1" r="2.5"/>
<circle cx="501.8" cy="444.4" r="2.5"/>
<circle cx="502.0" cy="439.1" r="2.5"/>
<circle cx="502.4" cy="434.9" r="2.5"/>
<circle cx="502.2" cy="430.0" r="2.5"/>
<circle cx="502.2" cy="425.0" r="2.5"/>
<circle cx="501.9" cy="419.9" r="2.5"/>
<circle cx="502.5" cy="416.0" r="2.5"/>
<circle cx="502.2" cy="410.7" r="2.5"/>
<circle cx="501.8" cy="404.6" r="2.5"/>
<circle cx="501.7" cy="399.6" r="2.5"/>
<circle cx="502.0" cy="395.5" r="2.5"/>
<circle cx="501.9" cy="390.7" r="2.5"/>
<circle cx="502.4" cy="385.9" r="2.5"/>
<circle cx="501.8" cy="379.0" r="2.5"/>
<circle cx="500.9" cy="377.9" r="2.8"/>
<circle cx="502.7" cy="375.3" r="2.8"/>
<circle cx="504.4" cy="379.7" r="2.8"/>
<circle cx="506.2" cy="378.1" r="2.8"/>
<circle cx="507.9" cy="382.1" r="2.8"/>
<circle cx="509.6" cy="381.5" r="2.8"/>
<circle cx="511.4" cy="381.3" r="2.8"/>
<circle cx="513.1" cy="380.2" r="2.8"/>
<circle cx="514.8" cy="384.5" r="2.8"/>
<circle cx="516.6" cy="384.7" r="2.8"/>
<circle cx="518.3" cy="388.1" r="2.8"/>
<circle cx="520.1" cy="384.6" r="2.8"/>
<circle cx="521.8" cy="387.5" r="2.8"/>
<circle cx="523.5" cy="388.3" r="2.8"/>
<circle cx="525.3" cy="388.6" r="2.8"/>
<circle cx="527.0" cy="389.3" r="2.8"/>
<circle cx="528.7" cy="390.0" r="2.8"/>
<circle cx="530.5" cy="388.9" r="2.8"/>
<circle cx="532.2" cy="388.6" r="2.8"/>
<circle cx="533.9" cy="390.5" r="2.8"/>
<circle cx="535.7" cy="393.3" r="2.8"/>
<circle cx="537.4" cy="395.9" r="2.8"/>
<circle cx="539.2" cy="395.3" r="2.8"/>
<circle cx="540.9" cy="396.1" r="2.8"/>
<circle cx="542.6" cy="396.0" r="2.8"/>
<circle cx="544.4" cy="396.4" r="2.8"/>
<circle cx="546.1" cy="395.9" r="2.8"/>
<circle cx="547.8" cy="397.8" r="2.8"/>
<circle cx="549.6" cy="400.6" r="2.8"/>
<circle cx="551.3" cy="396.5" r="2.8"/>
<circle cx="553.0" cy="396.3" r="2.8"/>
<circle cx="554.8" cy="402.8" r="2.8"/>
<circle cx="556.5" cy="399.6" r="2.8"/>
<circle cx="558.3" cy="401.8" r="2.8"/>
<circle cx="560.0" cy="402.1" r="2.8"/>
<circle cx="561.7" cy="398.3" r="2.8"/>
<circle cx="563.5" cy="406.7" r="2.8"/>
<circle cx="565.2" cy="405.9" r="2.8"/>
<circle cx="566.9" cy="403.0" r="2.8"/>
<circle cx="568.7" cy="404.8" r="2.8"/>
<circle cx="570.4" cy="404.0" r="2.8"/>
<circle cx="572.1" cy="402.4" r="2.8"/>
<circle cx="573.9" cy="404.7" r="2.8"/>
<circle cx="575.6" cy="406.3" r="2.8"/>
<circle cx="577.4" cy="408.6" r="2.8"/>
<circle cx="579.1" cy="408.3" r="2.8"/>
<circle cx="580.8" cy="407.4" r="2.8"/>
<circle cx="582.6" cy="410.8" r="2.8"/>
<circle cx="584.3" cy="406.8" r="2.8"/>
<circle cx="586.0" cy="410.8" r="2.8"/>
<circle cx="587.8" cy="412.1" r="2.8"/>
<circle cx="589.5" cy="409.6" r="2.8"/>
<circle cx="591.3" cy="406.9" r="2.8"/>
<circle cx="591.8" cy="409.2" r="2.8"/>
<circle cx="592.7" cy="415.4" r="2.8"/>
<circle cx="593.6" cy="416.5" r="2.8"/>
<circle cx="594.5" cy="419.0" r="2.8"/>
<circle cx="595.4" cy="414.4" r="2.8"/>
<circle cx="596.3" cy="416.9" r="2.8"/>
<circle cx="597.2" cy="418.6" r="2.8"/>
<circle cx="598.1" cy="417.9" r="2.8"/>
<circle cx="599.0" cy="414.4" r="2.8"/>
<circle cx="599.9" cy="421.7" r="2.8"/>
<circle cx="600.8" cy="425.7" r="2.8"/>
<circle cx="601.7" cy="424.1" r="2.8"/>
<circle cx="602.7" cy="421.2" r="2.8"/>
<circle cx="603.6" cy="423.2" r="2.8"/>
<circle cx="604.5" cy="425.5" r="2.8"/>
<circle cx="605.4" cy="431.0" r="2.8"/>
<circle cx="606.3" cy="428.2" r="2.8"/>
<circle cx="607.2" cy="428.2" r="2.8"/>
<circle cx="608.1" cy="432.1" r="2.8"/>
<circle cx="609.0" cy="429.8" r="2.8"/>
<circle cx="609.9" cy="434.6" r="2.8"/>
<circle cx="610.8" cy="430.5" r="2.8"/>
<circle cx="611.7" cy="431.9" r="2.8"/>
<circle cx="612.6" cy="435.3" r="2.8"/>
<circle cx="613.5" cy="437.6" r="2.8"/>
<circle cx="614.4" cy="437.0" r="2.8"/>
<circle cx="615.3" cy="437.2" r="2.8"/>
<circle cx="616.2" cy="433.9" r="2.8"/>
<circle cx="617.1" cy="437.0" r="2.8"/>
<circle cx="618.0" cy="438.1" r="2.8"/>
<circle cx="618.9" cy="439.2" r="2.8"/>
<circle cx="619.8" cy="442.3" r="2.8"/>
<circle cx="620.7" cy="441.4" r="2.8"/>
<circle cx="621.6" cy="444.5" r="2.8"/>
<circle cx="622.5" cy="444.0" r="2.8"/>
<circle cx="623.5" cy="444.1" r="2.8"/>
<circle cx="624.4" cy="445.9" r="2.8"/>
<circle cx="625.3" cy="447.3" r="2.8"/>
<circle cx="626.2" cy="448.9" r="2.8"/>
<circle cx="627.1" cy="446.9" r="2.8"/>
<circle cx="628.0" cy="448.2" r="2.8"/>
<circle cx="628.9" cy="446.7" r="2.8"/>
<circle cx="629.8" cy="453.3" r="2.8"/>
<circle cx="630.7" cy="453.8" r="2.8"/>
<circle cx="631.6" cy="451.3" r="2.8"/>
<circle cx="632.5" cy="451.4" r="2.8"/>
<circle cx="633.4" cy="450.6" r="2.8"/>
<circle cx="634.3" cy="454.2" r="2.8"/>
<circle cx="635.2" cy="455.0" r="2.8"/>
<circle cx="636.1" cy="459.7" r="2.8"/>
<circle cx="637.0" cy="456.6" r="2.8"/>
<circle cx="637.9" cy="455.3" r="2.8"/>
<circle cx="638.8" cy="452.6" r="2.8"/>
<circle cx="639.7" cy="461.0" r="2.8"/>
<circle cx="640.6" cy="459.2" r="2.8"/>
<circle cx="641.5" cy="456.3" r="2.8"/>
<circle cx="642.4" cy="460.6" r="2.8"/>
<circle cx="643.4" cy="457.7" r="2.8"/>
<circle cx="644.3" cy="468.5" r="2.8"/>
<circle cx="645.2" cy="464.5" r="2.8"/>
<circle cx="646.1" cy="464.1" r="2.8"/>
<circle cx="647.0" cy="463.3" r="2.8"/>
<circle cx="647.9" cy="460.0" r="2.8"/>
<circle cx="648.8" cy="464.7" r="2.8"/>
<circle cx="649.7" cy="462.5" r="2.8"/>
<circle cx="650.6" cy="467.5" r="2.8"/>
<circle cx="651.5" cy="462.6" r="2.8"/>
<circle cx="652.4" cy="465.5" r="2.8"/>
<circle cx="653.3" cy="470.2" r="2.8"/>
<circle cx="654.2" cy="471.6" r="2.8"/>
<circle cx="655.1" cy="466.4" r="2.8"/>
<circle cx="656.0" cy="466.2" r="2.8"/>
<circle cx="656.9" cy="471.5" r="2.8"/>
<circle cx="657.8" cy="471.9" r="2.8"/>
<circle cx="658.7" cy="468.7" r="2.8"/>
<circle cx="659.6" cy="469.7" r="2.8"/>
<circle cx="660.5" cy="470.2" r="2.8"/>
<circle cx="661.4" cy="469.7" r="2.8"/>
<circle cx="662.3" cy="471.2" r="2.8"/>
<circle cx="663.2" cy="475.5" r="2.8"/>
<circle cx="664.2" cy="474.9" r="2.8"/>
<circle cx="665.1" cy="478.2" r="2.8"/>
<circle cx="666.0" cy="474.5" r="2.8"/>
<circle cx="666.9" cy="475.0" r="2.8"/>
<circle cx="667.8" cy="473.8" r="2.8"/>
<circle cx="668.7" cy="476.1" r="2.8"/>
<circle cx="669.6" cy="474.3" r="2.8"/>
<circle cx="670.5" cy="474.0" r="2.8"/>
<circle cx="671.4" cy="479.5" r="2.8"/>
<circle cx="672.3" cy="481.6" r="2.8"/>
<circle cx="673.2" cy="480.9" r="2.8"/>
<circle cx="674.1" cy="482.5" r="2.8"/>
<circle cx="675.0" cy="480.9" r="2.8"/>
<circle cx="675.9" cy="479.6" r="2.8"/>
<circle cx="676.8" cy="481.7" r="2.8"/>
<circle cx="677.7" cy="481.4" r="2.8"/>
<circle cx="678.6" cy="480.4" r="2.8"/>
<circle cx="679.5" cy="479.8" r="2.8"/>
<circle cx="680.4" cy="480.7" r="2.8"/>
<circle cx="681.3" cy="484.1" r="2.8"/>
<circle cx="682.2" cy="485.0" r="2.8"/>
<circle cx="683.1" cy="484.2" r="2.8"/>
<circle cx="684.0" cy="488.5" r="2.8"/>
<circle cx="685.0" cy="486.4" r="2.8"/>
</g>
<g fill="none" stroke="#c9383a" stroke-width="1.0">
<circle cx="502.2" cy="505.8" r="2.5"/>
<circle cx="502.4" cy="499.9" r="2.5"/>
<circle cx="502.2" cy="494.7" r="2.5"/>
<circle cx="502.0" cy="489.4" r="2.5"/>
<circle cx="502.4" cy="485.6" r="2.5"/>
<circle cx="501.9" cy="480.8" r="2.5"/>
<circle cx="501.9" cy="475.2" r="2.5"/>
<circle cx="502.0" cy="469.3" r="2.5"/>
<circle cx="502.4" cy="465.7" r="2.5"/>
<circle cx="502.5" cy="460.4" r="2.5"/>
<circle cx="501.8" cy="454.6" r="2.5"/>
<circle cx="501.8" cy="449.9" r="2.5"/>
<circle cx="502.0" cy="444.4" r="2.5"/>
<circle cx="502.0" cy="440.3" r="2.5"/>
<circle cx="502.4" cy="434.6" r="2.5"/>
<circle cx="502.0" cy="431.0" r="2.5"/>
<circle cx="501.6" cy="424.1" r="2.5"/>
<circle cx="501.6" cy="420.7" r="2.5"/>
<circle cx="502.1" cy="415.4" r="2.5"/>
<circle cx="502.3" cy="409.6" r="2.5"/>
<circle cx="501.7" cy="404.0" r="2.5"/>
<circle cx="501.6" cy="399.9" r="2.5"/>
<circle cx="501.8" cy="395.7" r="2.5"/>
<circle cx="501.6" cy="389.3" r="2.5"/>
<circle cx="502.0" cy="385.3" r="2.5"/>
<circle cx="502.2" cy="380.3" r="2.5"/>
<circle cx="500.9" cy="377.0" r="2.8"/>
<circle cx="502.7" cy="378.2" r="2.8"/>
<circle cx="504.4" cy="371.7" r="2.8"/>
<circle cx="506.2" cy="376.9" r="2.8"/>
<circle cx="507.9" cy="376.7" r="2.8"/>
<circle cx="509.6" cy="377.3" r="2.8"/>
<circle cx="511.4" cy="379.4" r="2.8"/>
<circle cx="513.1" cy="382.3" r="2.8"/>
<circle cx="514.8" cy="380.6" r="2.8"/>
<circle cx="516.6" cy="380.7" r="2.8"/>
<circle cx="518.3" cy="380.2" r="2.8"/>
<circle cx="520.1" cy="381.9" r="2.8"/>
<circle cx="521.8" cy="384.8" r="2.8"/>
<circle cx="523.5" cy="382.5" r="2.8"/>
<circle cx="525.3" cy="381.4" r="2.8"/>
<circle cx="527.0" cy="381.7" r="2.8"/>
<circle cx="528.7" cy="382.7" r="2.8"/>
<circle cx="530.5" cy="382.6" r="2.8"/>
<circle cx="532.2" cy="388.7" r="2.8"/>
<circle cx="533.9" cy="387.7" r="2.8"/>
<circle cx="535.7" cy="386.9" r="2.8"/>
<circle cx="537.4" cy="391.3" r="2.8"/>
<circle cx="539.2" cy="387.2" r="2.8"/>
<circle cx="540.9" cy="390.9" r="2.8"/>
<circle cx="542.6" cy="391.6" r="2.8"/>
<circle cx="544.4" cy="387.0" r="2.8"/>
<circle cx="546.1" cy="387.6" r="2.8"/>
<circle cx="547.8" cy="389.5" r="2.8"/>
<circle cx="549.6" cy="394.2" r="2.8"/>
<circle cx="551.3" cy="395.6" r="2.8"/>
<circle cx="553.0" cy="390.7" r="2.8"/>
<circle cx="554.8" cy="396.3" r="2.8"/>
<circle cx="556.5" cy="393.7" r="2.8"/>
<circle cx="558.3" cy="394.3" r="2.8"/>
<circle cx="560.0" cy="394.5" r="2.8"/>
<circle cx="561.7" cy="395.6" r="2.8"/>
<circle cx="563.5" cy="392.9" r="2.8"/>
<circle cx="565.2" cy="395.3" r="2.8"/>
<circle cx="566.9" cy="395.3" r="2.8"/>
<circle cx="568.7" cy="399.7" r="2.8"/>
<circle cx="570.4" cy="403.8" r="2.8"/>
<circle cx="572.1" cy="405.8" r="2.8"/>
<circle cx="573.9" cy="399.7" r="2.8"/>
<circle cx="575.6" cy="397.2" r="2.8"/>
<circle cx="577.4" cy="400.7" r="2.8"/>
<circle cx="579.1" cy="400.1" r="2.8"/>
<circle cx="580.8" cy="407.1" r="2.8"/>
<circle cx="582.6" cy="404.6" r="2.8"/>
<circle cx="584.3" cy="402.4" r="2.8"/>
<circle cx="586.0" cy="406.6" r="2.8"/>
<circle cx="587.8" cy="406.3" r="2.8"/>
<circle cx="589.5" cy="402.1" r="2.8"/>
<circle cx="591.3" cy="405.1" r="2.8"/>
<circle cx="591.8" cy="406.0" r="2.8"/>
<circle cx="592.7" cy="409.7" r="2.8"/>
<circle cx="593.6" cy="411.1" r="2.8"/>
<circle cx="594.5" cy="411.4" r="2.8"/>
<circle cx="595.4" cy="413.6" r="2.8"/>
<circle cx="596.3" cy="413.3" r="2.8"/>
<circle cx="597.2" cy="413.8" r="2.8"/>
<circle cx="598.1" cy="419.7" r="2.8"/>
<circle cx="599.0" cy="418.4" r="2.8"/>
<circle cx="599.9" cy="419.5" r="2.8"/>
<circle cx="600.8" cy="416.4" r="2.8"/>
<circle cx="601.7" cy="420.3" r="2.8"/>
<circle cx="602.7" cy="423.2" r="2.8"/>
<circle cx="603.6" cy="420.0" r="2.8"/>
<circle cx="604.5" cy="425.7" r="2.8"/>
<circle cx="605.4" cy="423.7" r="2.8"/>
<circle cx="606.3" cy="426.3" r="2.8"/>
<circle cx="607.2" cy="426.2" r="2.8"/>
<circle cx="608.1" cy="427.9" r="2.8"/>
<circle cx="609.0" cy="430.8" r="2.8"/>
<circle cx="609.9" cy="428.6" r="2.8"/>
<circle cx="610.8" cy="433.5" r="2.8"/>
<circle cx="611.7" cy="429.8" r="2.8"/>
<circle cx="612.6" cy="430.5" r="2.8"/>
<circle cx="613.5" cy="434.7" r="2.8"/>
<circle cx="614.4" cy="432.1" r="2.8"/>
<circle cx="615.3" cy="434.4" r="2.8"/>
<circle cx="616.2" cy="437.8" r="2.8"/>
<circle cx="617.1" cy="439.3" r="2.8"/>
<circle cx="618.0" cy="434.3" r="2.8"/>
<circle cx="618.9" cy="439.8" r="2.8"/>
<circle cx="619.8" cy="443.4" r="2.8"/>
<circle cx="620.7" cy="442.9" r="2.8"/>
<circle cx="621.6" cy="441.0" r="2.8"/>
<circle cx="622.5" cy="441.2" r="2.8"/>
<circle cx="623.5" cy="442.7" r="2.8"/>
<circle cx="624.4" cy="441.9" r="2.8"/>
<circle cx="625.3" cy="444.4" r="2.8"/>
<circle cx="626.2" cy="445.3" r="2.8"/>
<circle cx="627.1" cy="446.1" r="2.8"/>
<circle cx="628.0" cy="449.5" r="2.8"/>
<circle cx="628.9" cy="447.4" r="2.8"/>
<circle cx="629.8" cy="445.7" r="2.8"/>
<circle cx="630.7" cy="451.5" r="2.8"/>
<circle cx="631.6" cy="448.0" r="2.8"/>
<circle cx="632.5" cy="450.0" r="2.8"/>
<circle cx="633.4" cy="451.4" r="2.8"/>
<circle cx="634.3" cy="451.7" r="2.8"/>
<circle cx="635.2" cy="451.1" r="2.8"/>
<circle cx="636.1" cy="453.4" r="2.8"/>
<circle cx="637.0" cy="459.0" r="2.8"/>
<circle cx="637.9" cy="454.1" r="2.8"/>
<circle cx="638.8" cy="455.7" r="2.8"/>
<circle cx="639.7" cy="458.9" r="2.8"/>
<circle cx="640.6" cy="458.8" r="2.8"/>
<circle cx="641.5" cy="459.6" r="2.8"/>
<circle cx="642.4" cy="460.4" r="2.8"/>
<circle cx="643.4" cy="455.5" r="2.8"/>
<circle cx="644.3" cy="458.3" r="2.8"/>
<circle cx="645.2" cy="461.0" r="2.8"/>
<circle cx="646.1" cy="462.4" r="2.8"/>
<circle cx="647.0" cy="464.7" r="2.8"/>
<circle cx="647.9" cy="463.7" r="2.8"/>
<circle cx="648.8" cy="463.0" r="2.8"/>
<circle cx="649.7" cy="464.2" r="2.8"/>
<circle cx="650.6" cy="464.4" r="2.8"/>
<circle cx="651.5" cy="465.8" r="2.8"/>
<circle cx="652.4" cy="467.2" r="2.8"/>
<circle cx="653.3" cy="465.6" r="2.8"/>
<circle cx="654.2" cy="465.1" r="2.8"/>
<circle cx="655.1" cy="465.5" r="2.8"/>
<circle cx="656.0" cy="469.9" r="2.8"/>
<circle cx="656.9" cy="470.8" r="2.8"/>
<circle cx="657.8" cy="470.7" r="2.8"/>
<circle cx="658.7" cy="470.9" r="2.8"/>
<circle cx="659.6" cy="471.3" r="2.8"/>
<circle cx="660.5" cy="470.1" r="2.8"/>
<circle cx="661.4" cy="471.9" r="2.8"/>
<circle cx="662.3" cy="468.9" r="2.8"/>
<circle cx="663.2" cy="471.1" r="2.8"/>
<circle cx="664.2" cy="470.5" r="2.8"/>
<circle cx="665.1" cy="474.0" r="2.8"/>
<circle cx="666.0" cy="472.0" r="2.8"/>
<circle cx="666.9" cy="473.5" r="2.8"/>
<circle cx="667.8" cy="475.1" r="2.8"/>
<circle cx="668.7" cy="477.6" r="2.8"/>
<circle cx="669.6" cy="473.9" r="2.8"/>
<circle cx="670.5" cy="474.2" r="2.8"/>
<circle cx="671.4" cy="478.2" r="2.8"/>
<circle cx="672.3" cy="475.0" r="2.8"/>
<circle cx="673.2" cy="478.7" r="2.8"/>
<circle cx="674.1" cy="477.2" r="2.8"/>
<circle cx="675.0" cy="478.7" r="2.8"/>
<circle cx="675.9" cy="475.9" r="2.8"/>
<circle cx="676.8" cy="481.5" r="2.8"/>
<circle cx="677.7" cy="479.6" r="2.8"/>
<circle cx="678.6" cy="479.3" r="2.8"/>
<circle cx="679.5" cy="485.8" r="2.8"/>
<circle cx="680.4" cy="483.6" r="2.8"/>
<circle cx="681.3" cy="489.7" r="2.8"/>
<circle cx="682.2" cy="484.0" r="2.8"/>
<circle cx="683.1" cy="483.0" r="2.8"/>
<circle cx="684.0" cy="484.4" r="2.8"/>
<circle cx="685.0" cy="487.7" r="2.8"/>
</g>
<line x1="499.3" y1="366.1" x2="499.3" y2="513.5" stroke="#111" stroke-width="1.2"/>
<line x1="499.3" y1="513.5" x2="684" y2="513.5" stroke="#111" stroke-width="1.2"/>
<circle cx="518.8" cy="472.3" r="2.4" fill="none" stroke="#3f9ea3" stroke-width="1"/>
<text x="532.30" y="475.90" font-size="9.55" text-anchor="start" fill="#1a1a1a" font-weight="normal" stroke="#1a1a1a" stroke-width="0.22" >OA (GSB @ 756.8 nm)</text>
<circle cx="518.8" cy="486.6" r="2.4" fill="none" stroke="#c9383a" stroke-width="1"/>
<text x="532.30" y="490.20" font-size="9.55" text-anchor="start" fill="#1a1a1a" font-weight="normal" stroke="#1a1a1a" stroke-width="0.22" >DEHP (GSB @ 760.4 nm)</text>
</svg></body></html>
